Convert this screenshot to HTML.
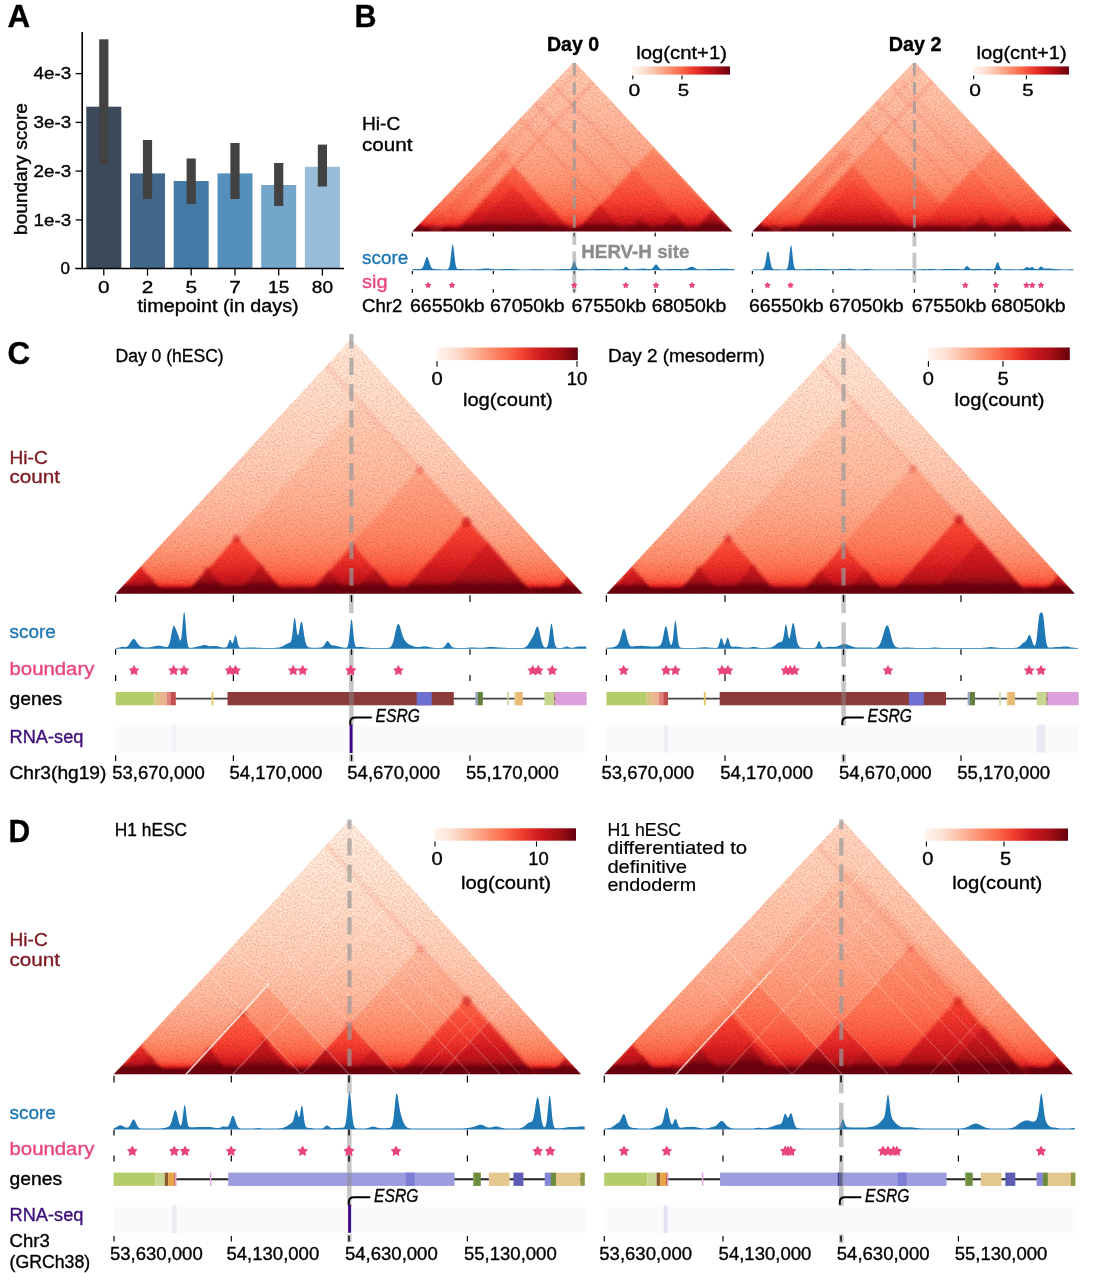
<!DOCTYPE html>
<html lang="en"><head><meta charset="utf-8"><title>Figure</title>
<style>html,body{margin:0;padding:0;background:#fff}svg{display:block}text{font-family:"Liberation Sans", sans-serif;}</style></head>
<body>
<svg width="1098" height="1280" viewBox="0 0 1098 1280">
<defs>
<linearGradient id="reds" x1="0" x2="1" y1="0" y2="0"><stop offset="0.000" stop-color="#fff5f0"/><stop offset="0.125" stop-color="#fee0d2"/><stop offset="0.250" stop-color="#fcbba1"/><stop offset="0.375" stop-color="#fc9272"/><stop offset="0.500" stop-color="#fb6a4a"/><stop offset="0.625" stop-color="#ef3b2c"/><stop offset="0.750" stop-color="#cb181d"/><stop offset="0.875" stop-color="#a50f15"/><stop offset="1.000" stop-color="#67000d"/></linearGradient>
<filter id="bl" x="-5%" y="-5%" width="110%" height="110%" color-interpolation-filters="sRGB"><feGaussianBlur stdDeviation="1.6"/></filter>
<filter id="nz" x="0" y="0" width="100%" height="100%" color-interpolation-filters="sRGB"><feTurbulence type="fractalNoise" baseFrequency="0.55" numOctaves="2" seed="7" result="n"/><feColorMatrix in="n" type="matrix" values="1 0 0 0 0  1 0 0 0 0  1 0 0 0 0  0 0 0 0 1" result="g"/><feComposite in="SourceGraphic" in2="g" operator="arithmetic" k1="0.4" k2="0.82" k3="0" k4="0" result="m"/><feComposite in="m" in2="SourceGraphic" operator="in"/></filter>
<clipPath id="cp1"><polygon points="412.3,231.6 572.1,63.8 573.5,62.7 575.1,62.7 576.5,63.8 732.4,231.6"/></clipPath>
<linearGradient id="g1_0" gradientUnits="userSpaceOnUse" x1="0" x2="0" y1="61.5" y2="231.6"><stop offset="0.000" stop-color="#fcc1a9"/><stop offset="0.200" stop-color="#fcb89e"/><stop offset="0.380" stop-color="#fcad91"/><stop offset="0.530" stop-color="#fca183"/><stop offset="0.650" stop-color="#fc9474"/><stop offset="0.740" stop-color="#fc8666"/><stop offset="0.810" stop-color="#fb7858"/><stop offset="0.865" stop-color="#fa6849"/><stop offset="0.905" stop-color="#f6553d"/><stop offset="0.930" stop-color="#f14532"/><stop offset="0.945" stop-color="#eb372a"/><stop offset="0.955" stop-color="#de2b25"/><stop offset="0.962" stop-color="#cf1c1f"/><stop offset="0.968" stop-color="#bb141a"/><stop offset="0.973" stop-color="#a50f15"/><stop offset="0.978" stop-color="#7c0510"/><stop offset="0.983" stop-color="#67000d"/><stop offset="0.988" stop-color="#67000d"/><stop offset="0.994" stop-color="#67000d"/><stop offset="1.000" stop-color="#67000d"/></linearGradient>
<linearGradient id="g1_1" gradientUnits="userSpaceOnUse" x1="0" x2="0" y1="61.5" y2="231.6"><stop offset="0.000" stop-color="#fca183"/><stop offset="0.200" stop-color="#fc9778"/><stop offset="0.380" stop-color="#fc8c6c"/><stop offset="0.530" stop-color="#fc8161"/><stop offset="0.650" stop-color="#fb7454"/><stop offset="0.740" stop-color="#fa6647"/><stop offset="0.810" stop-color="#f6553c"/><stop offset="0.865" stop-color="#f14231"/><stop offset="0.905" stop-color="#e63228"/><stop offset="0.930" stop-color="#da2623"/><stop offset="0.945" stop-color="#ce1b1e"/><stop offset="0.955" stop-color="#c1161b"/><stop offset="0.962" stop-color="#b11218"/><stop offset="0.968" stop-color="#970c13"/><stop offset="0.973" stop-color="#73030f"/><stop offset="0.978" stop-color="#67000d"/><stop offset="0.983" stop-color="#67000d"/><stop offset="0.988" stop-color="#67000d"/><stop offset="0.994" stop-color="#67000d"/><stop offset="1.000" stop-color="#67000d"/></linearGradient>
<linearGradient id="g1_2" gradientUnits="userSpaceOnUse" x1="0" x2="0" y1="61.5" y2="231.6"><stop offset="0.000" stop-color="#fc8d6d"/><stop offset="0.200" stop-color="#fc8464"/><stop offset="0.380" stop-color="#fb7959"/><stop offset="0.530" stop-color="#fb6d4d"/><stop offset="0.650" stop-color="#f85f43"/><stop offset="0.740" stop-color="#f44f39"/><stop offset="0.810" stop-color="#f03e2e"/><stop offset="0.865" stop-color="#e32f27"/><stop offset="0.905" stop-color="#d52221"/><stop offset="0.930" stop-color="#c8171c"/><stop offset="0.945" stop-color="#bc151a"/><stop offset="0.955" stop-color="#af1117"/><stop offset="0.962" stop-color="#9b0d14"/><stop offset="0.968" stop-color="#7a040f"/><stop offset="0.973" stop-color="#67000d"/><stop offset="0.978" stop-color="#67000d"/><stop offset="0.983" stop-color="#67000d"/><stop offset="0.988" stop-color="#67000d"/><stop offset="0.994" stop-color="#67000d"/><stop offset="1.000" stop-color="#67000d"/></linearGradient>
<linearGradient id="g1_3" gradientUnits="userSpaceOnUse" x1="0" x2="0" y1="61.5" y2="231.6"><stop offset="0.000" stop-color="#fc9070"/><stop offset="0.200" stop-color="#fc8767"/><stop offset="0.380" stop-color="#fb7c5c"/><stop offset="0.530" stop-color="#fb7151"/><stop offset="0.650" stop-color="#f96245"/><stop offset="0.740" stop-color="#f5533b"/><stop offset="0.810" stop-color="#f14230"/><stop offset="0.865" stop-color="#e63228"/><stop offset="0.905" stop-color="#d82422"/><stop offset="0.930" stop-color="#cb181d"/><stop offset="0.945" stop-color="#bf151b"/><stop offset="0.955" stop-color="#b21218"/><stop offset="0.962" stop-color="#a00e14"/><stop offset="0.968" stop-color="#7e0610"/><stop offset="0.973" stop-color="#67000d"/><stop offset="0.978" stop-color="#67000d"/><stop offset="0.983" stop-color="#67000d"/><stop offset="0.988" stop-color="#67000d"/><stop offset="0.994" stop-color="#67000d"/><stop offset="1.000" stop-color="#67000d"/></linearGradient>
<linearGradient id="g1_4" gradientUnits="userSpaceOnUse" x1="0" x2="0" y1="61.5" y2="231.6"><stop offset="0.000" stop-color="#fc8464"/><stop offset="0.200" stop-color="#fb7a5a"/><stop offset="0.380" stop-color="#fb7050"/><stop offset="0.530" stop-color="#f96345"/><stop offset="0.650" stop-color="#f5533c"/><stop offset="0.740" stop-color="#f14432"/><stop offset="0.810" stop-color="#e93529"/><stop offset="0.865" stop-color="#db2723"/><stop offset="0.905" stop-color="#cc191d"/><stop offset="0.930" stop-color="#bf151a"/><stop offset="0.945" stop-color="#b31218"/><stop offset="0.955" stop-color="#a60f15"/><stop offset="0.962" stop-color="#8c0912"/><stop offset="0.968" stop-color="#6b010d"/><stop offset="0.973" stop-color="#67000d"/><stop offset="0.978" stop-color="#67000d"/><stop offset="0.983" stop-color="#67000d"/><stop offset="0.988" stop-color="#67000d"/><stop offset="0.994" stop-color="#67000d"/><stop offset="1.000" stop-color="#67000d"/></linearGradient>
<linearGradient id="g1_5" gradientUnits="userSpaceOnUse" x1="0" x2="0" y1="61.5" y2="231.6"><stop offset="0.000" stop-color="#fb7757"/><stop offset="0.200" stop-color="#fb6d4d"/><stop offset="0.380" stop-color="#f96245"/><stop offset="0.530" stop-color="#f5543c"/><stop offset="0.650" stop-color="#f14432"/><stop offset="0.740" stop-color="#ea362a"/><stop offset="0.810" stop-color="#dd2a25"/><stop offset="0.865" stop-color="#cf1c1f"/><stop offset="0.905" stop-color="#c0151b"/><stop offset="0.930" stop-color="#b31218"/><stop offset="0.945" stop-color="#a70f15"/><stop offset="0.955" stop-color="#920a13"/><stop offset="0.962" stop-color="#78040f"/><stop offset="0.968" stop-color="#67000d"/><stop offset="0.973" stop-color="#67000d"/><stop offset="0.978" stop-color="#67000d"/><stop offset="0.983" stop-color="#67000d"/><stop offset="0.988" stop-color="#67000d"/><stop offset="0.994" stop-color="#67000d"/><stop offset="1.000" stop-color="#67000d"/></linearGradient>
<linearGradient id="g1_6" gradientUnits="userSpaceOnUse" x1="0" x2="0" y1="61.5" y2="231.6"><stop offset="0.000" stop-color="#fb7a5a"/><stop offset="0.200" stop-color="#fb7151"/><stop offset="0.380" stop-color="#fa6547"/><stop offset="0.530" stop-color="#f6573e"/><stop offset="0.650" stop-color="#f24834"/><stop offset="0.740" stop-color="#ed392b"/><stop offset="0.810" stop-color="#e02c26"/><stop offset="0.865" stop-color="#d21f20"/><stop offset="0.905" stop-color="#c3161b"/><stop offset="0.930" stop-color="#b61319"/><stop offset="0.945" stop-color="#aa1016"/><stop offset="0.955" stop-color="#970c13"/><stop offset="0.962" stop-color="#7d0510"/><stop offset="0.968" stop-color="#67000d"/><stop offset="0.973" stop-color="#67000d"/><stop offset="0.978" stop-color="#67000d"/><stop offset="0.983" stop-color="#67000d"/><stop offset="0.988" stop-color="#67000d"/><stop offset="0.994" stop-color="#67000d"/><stop offset="1.000" stop-color="#67000d"/></linearGradient>
<linearGradient id="g1_7" gradientUnits="userSpaceOnUse" x1="0" x2="0" y1="61.5" y2="231.6"><stop offset="0.000" stop-color="#fb6a4a"/><stop offset="0.200" stop-color="#f85f43"/><stop offset="0.380" stop-color="#f5523b"/><stop offset="0.530" stop-color="#f14532"/><stop offset="0.650" stop-color="#eb372a"/><stop offset="0.740" stop-color="#df2b25"/><stop offset="0.810" stop-color="#d21e20"/><stop offset="0.865" stop-color="#c3161b"/><stop offset="0.905" stop-color="#b41318"/><stop offset="0.930" stop-color="#a70f15"/><stop offset="0.945" stop-color="#940b13"/><stop offset="0.955" stop-color="#7e0610"/><stop offset="0.962" stop-color="#67000d"/><stop offset="0.968" stop-color="#67000d"/><stop offset="0.973" stop-color="#67000d"/><stop offset="0.978" stop-color="#67000d"/><stop offset="0.983" stop-color="#67000d"/><stop offset="0.988" stop-color="#67000d"/><stop offset="0.994" stop-color="#67000d"/><stop offset="1.000" stop-color="#67000d"/></linearGradient>
<linearGradient id="g1_8" gradientUnits="userSpaceOnUse" x1="0" x2="0" y1="61.5" y2="231.6"><stop offset="0.000" stop-color="#fc8060"/><stop offset="0.200" stop-color="#fb7757"/><stop offset="0.380" stop-color="#fb6c4c"/><stop offset="0.530" stop-color="#f85f43"/><stop offset="0.650" stop-color="#f45039"/><stop offset="0.740" stop-color="#f0402f"/><stop offset="0.810" stop-color="#e63228"/><stop offset="0.865" stop-color="#d82422"/><stop offset="0.905" stop-color="#c9181d"/><stop offset="0.930" stop-color="#bc141a"/><stop offset="0.945" stop-color="#b01217"/><stop offset="0.955" stop-color="#a10e14"/><stop offset="0.962" stop-color="#870811"/><stop offset="0.968" stop-color="#67000d"/><stop offset="0.973" stop-color="#67000d"/><stop offset="0.978" stop-color="#67000d"/><stop offset="0.983" stop-color="#67000d"/><stop offset="0.988" stop-color="#67000d"/><stop offset="0.994" stop-color="#67000d"/><stop offset="1.000" stop-color="#67000d"/></linearGradient>
<linearGradient id="g1_9" gradientUnits="userSpaceOnUse" x1="0" x2="0" y1="61.5" y2="231.6"><stop offset="0.000" stop-color="#fc9474"/><stop offset="0.200" stop-color="#fc8a6a"/><stop offset="0.380" stop-color="#fc8060"/><stop offset="0.530" stop-color="#fb7454"/><stop offset="0.650" stop-color="#fa6648"/><stop offset="0.740" stop-color="#f6563e"/><stop offset="0.810" stop-color="#f24633"/><stop offset="0.865" stop-color="#e93529"/><stop offset="0.905" stop-color="#db2723"/><stop offset="0.930" stop-color="#ce1b1e"/><stop offset="0.945" stop-color="#c2161b"/><stop offset="0.955" stop-color="#b51318"/><stop offset="0.962" stop-color="#a50f15"/><stop offset="0.968" stop-color="#830711"/><stop offset="0.973" stop-color="#67000d"/><stop offset="0.978" stop-color="#67000d"/><stop offset="0.983" stop-color="#67000d"/><stop offset="0.988" stop-color="#67000d"/><stop offset="0.994" stop-color="#67000d"/><stop offset="1.000" stop-color="#67000d"/></linearGradient>
<clipPath id="cp2"><polygon points="752.4,231.6 912.2,63.8 913.6,62.7 915.2,62.7 916.6,63.8 1072,231.6"/></clipPath>
<linearGradient id="g2_0" gradientUnits="userSpaceOnUse" x1="0" x2="0" y1="61.5" y2="231.6"><stop offset="0.000" stop-color="#fcc1a9"/><stop offset="0.200" stop-color="#fcb89e"/><stop offset="0.380" stop-color="#fcad91"/><stop offset="0.530" stop-color="#fca183"/><stop offset="0.650" stop-color="#fc9474"/><stop offset="0.740" stop-color="#fc8666"/><stop offset="0.810" stop-color="#fb7858"/><stop offset="0.865" stop-color="#fa6849"/><stop offset="0.905" stop-color="#f6553d"/><stop offset="0.930" stop-color="#f14532"/><stop offset="0.945" stop-color="#eb372a"/><stop offset="0.955" stop-color="#de2b25"/><stop offset="0.962" stop-color="#cf1c1f"/><stop offset="0.968" stop-color="#bb141a"/><stop offset="0.973" stop-color="#a50f15"/><stop offset="0.978" stop-color="#7c0510"/><stop offset="0.983" stop-color="#67000d"/><stop offset="0.988" stop-color="#67000d"/><stop offset="0.994" stop-color="#67000d"/><stop offset="1.000" stop-color="#67000d"/></linearGradient>
<linearGradient id="g2_1" gradientUnits="userSpaceOnUse" x1="0" x2="0" y1="61.5" y2="231.6"><stop offset="0.000" stop-color="#fcab8e"/><stop offset="0.200" stop-color="#fca183"/><stop offset="0.380" stop-color="#fc9677"/><stop offset="0.530" stop-color="#fc8a6a"/><stop offset="0.650" stop-color="#fb7d5d"/><stop offset="0.740" stop-color="#fb7050"/><stop offset="0.810" stop-color="#f86044"/><stop offset="0.865" stop-color="#f44d38"/><stop offset="0.905" stop-color="#ef3b2c"/><stop offset="0.930" stop-color="#e22f27"/><stop offset="0.945" stop-color="#d72422"/><stop offset="0.955" stop-color="#ca181d"/><stop offset="0.962" stop-color="#ba1419"/><stop offset="0.968" stop-color="#a60f15"/><stop offset="0.973" stop-color="#820710"/><stop offset="0.978" stop-color="#67000d"/><stop offset="0.983" stop-color="#67000d"/><stop offset="0.988" stop-color="#67000d"/><stop offset="0.994" stop-color="#67000d"/><stop offset="1.000" stop-color="#67000d"/></linearGradient>
<linearGradient id="g2_2" gradientUnits="userSpaceOnUse" x1="0" x2="0" y1="61.5" y2="231.6"><stop offset="0.000" stop-color="#fc8d6d"/><stop offset="0.200" stop-color="#fc8464"/><stop offset="0.380" stop-color="#fb7959"/><stop offset="0.530" stop-color="#fb6d4d"/><stop offset="0.650" stop-color="#f85f43"/><stop offset="0.740" stop-color="#f44f39"/><stop offset="0.810" stop-color="#f03e2e"/><stop offset="0.865" stop-color="#e32f27"/><stop offset="0.905" stop-color="#d52221"/><stop offset="0.930" stop-color="#c8171c"/><stop offset="0.945" stop-color="#bc151a"/><stop offset="0.955" stop-color="#af1117"/><stop offset="0.962" stop-color="#9b0d14"/><stop offset="0.968" stop-color="#7a040f"/><stop offset="0.973" stop-color="#67000d"/><stop offset="0.978" stop-color="#67000d"/><stop offset="0.983" stop-color="#67000d"/><stop offset="0.988" stop-color="#67000d"/><stop offset="0.994" stop-color="#67000d"/><stop offset="1.000" stop-color="#67000d"/></linearGradient>
<linearGradient id="g2_3" gradientUnits="userSpaceOnUse" x1="0" x2="0" y1="61.5" y2="231.6"><stop offset="0.000" stop-color="#fc9d7f"/><stop offset="0.200" stop-color="#fc9474"/><stop offset="0.380" stop-color="#fc8969"/><stop offset="0.530" stop-color="#fb7d5d"/><stop offset="0.650" stop-color="#fb7050"/><stop offset="0.740" stop-color="#f96245"/><stop offset="0.810" stop-color="#f5513a"/><stop offset="0.865" stop-color="#f03e2e"/><stop offset="0.905" stop-color="#e33027"/><stop offset="0.930" stop-color="#d72322"/><stop offset="0.945" stop-color="#cb181d"/><stop offset="0.955" stop-color="#be151a"/><stop offset="0.962" stop-color="#ae1117"/><stop offset="0.968" stop-color="#920a13"/><stop offset="0.973" stop-color="#6e020e"/><stop offset="0.978" stop-color="#67000d"/><stop offset="0.983" stop-color="#67000d"/><stop offset="0.988" stop-color="#67000d"/><stop offset="0.994" stop-color="#67000d"/><stop offset="1.000" stop-color="#67000d"/></linearGradient>
<linearGradient id="g2_4" gradientUnits="userSpaceOnUse" x1="0" x2="0" y1="61.5" y2="231.6"><stop offset="0.000" stop-color="#fc8464"/><stop offset="0.200" stop-color="#fb7a5a"/><stop offset="0.380" stop-color="#fb7050"/><stop offset="0.530" stop-color="#f96345"/><stop offset="0.650" stop-color="#f5533c"/><stop offset="0.740" stop-color="#f14432"/><stop offset="0.810" stop-color="#e93529"/><stop offset="0.865" stop-color="#db2723"/><stop offset="0.905" stop-color="#cc191d"/><stop offset="0.930" stop-color="#bf151a"/><stop offset="0.945" stop-color="#b31218"/><stop offset="0.955" stop-color="#a60f15"/><stop offset="0.962" stop-color="#8c0912"/><stop offset="0.968" stop-color="#6b010d"/><stop offset="0.973" stop-color="#67000d"/><stop offset="0.978" stop-color="#67000d"/><stop offset="0.983" stop-color="#67000d"/><stop offset="0.988" stop-color="#67000d"/><stop offset="0.994" stop-color="#67000d"/><stop offset="1.000" stop-color="#67000d"/></linearGradient>
<linearGradient id="g2_5" gradientUnits="userSpaceOnUse" x1="0" x2="0" y1="61.5" y2="231.6"><stop offset="0.000" stop-color="#fc8060"/><stop offset="0.200" stop-color="#fb7757"/><stop offset="0.380" stop-color="#fb6c4c"/><stop offset="0.530" stop-color="#f85f43"/><stop offset="0.650" stop-color="#f45039"/><stop offset="0.740" stop-color="#f0402f"/><stop offset="0.810" stop-color="#e63228"/><stop offset="0.865" stop-color="#d82422"/><stop offset="0.905" stop-color="#c9181d"/><stop offset="0.930" stop-color="#bc141a"/><stop offset="0.945" stop-color="#b01217"/><stop offset="0.955" stop-color="#a10e14"/><stop offset="0.962" stop-color="#870811"/><stop offset="0.968" stop-color="#67000d"/><stop offset="0.973" stop-color="#67000d"/><stop offset="0.978" stop-color="#67000d"/><stop offset="0.983" stop-color="#67000d"/><stop offset="0.988" stop-color="#67000d"/><stop offset="0.994" stop-color="#67000d"/><stop offset="1.000" stop-color="#67000d"/></linearGradient>
<linearGradient id="g2_6" gradientUnits="userSpaceOnUse" x1="0" x2="0" y1="61.5" y2="231.6"><stop offset="0.000" stop-color="#fb7050"/><stop offset="0.200" stop-color="#fa6748"/><stop offset="0.380" stop-color="#f75a40"/><stop offset="0.530" stop-color="#f34c37"/><stop offset="0.650" stop-color="#ef3d2d"/><stop offset="0.740" stop-color="#e43128"/><stop offset="0.810" stop-color="#d72422"/><stop offset="0.865" stop-color="#c9181d"/><stop offset="0.905" stop-color="#ba1419"/><stop offset="0.930" stop-color="#ad1117"/><stop offset="0.945" stop-color="#9e0d14"/><stop offset="0.955" stop-color="#880811"/><stop offset="0.962" stop-color="#6e020e"/><stop offset="0.968" stop-color="#67000d"/><stop offset="0.973" stop-color="#67000d"/><stop offset="0.978" stop-color="#67000d"/><stop offset="0.983" stop-color="#67000d"/><stop offset="0.988" stop-color="#67000d"/><stop offset="0.994" stop-color="#67000d"/><stop offset="1.000" stop-color="#67000d"/></linearGradient>
<linearGradient id="g2_7" gradientUnits="userSpaceOnUse" x1="0" x2="0" y1="61.5" y2="231.6"><stop offset="0.000" stop-color="#fc9474"/><stop offset="0.200" stop-color="#fc8a6a"/><stop offset="0.380" stop-color="#fc8060"/><stop offset="0.530" stop-color="#fb7454"/><stop offset="0.650" stop-color="#fa6648"/><stop offset="0.740" stop-color="#f6563e"/><stop offset="0.810" stop-color="#f24633"/><stop offset="0.865" stop-color="#e93529"/><stop offset="0.905" stop-color="#db2723"/><stop offset="0.930" stop-color="#ce1b1e"/><stop offset="0.945" stop-color="#c2161b"/><stop offset="0.955" stop-color="#b51318"/><stop offset="0.962" stop-color="#a50f15"/><stop offset="0.968" stop-color="#830711"/><stop offset="0.973" stop-color="#67000d"/><stop offset="0.978" stop-color="#67000d"/><stop offset="0.983" stop-color="#67000d"/><stop offset="0.988" stop-color="#67000d"/><stop offset="0.994" stop-color="#67000d"/><stop offset="1.000" stop-color="#67000d"/></linearGradient>
<linearGradient id="g2_8" gradientUnits="userSpaceOnUse" x1="0" x2="0" y1="61.5" y2="231.6"><stop offset="0.000" stop-color="#fc8a6a"/><stop offset="0.200" stop-color="#fc8161"/><stop offset="0.380" stop-color="#fb7656"/><stop offset="0.530" stop-color="#fb6a4a"/><stop offset="0.650" stop-color="#f75b40"/><stop offset="0.740" stop-color="#f34b36"/><stop offset="0.810" stop-color="#ee3a2c"/><stop offset="0.865" stop-color="#e02d26"/><stop offset="0.905" stop-color="#d21f20"/><stop offset="0.930" stop-color="#c5171c"/><stop offset="0.945" stop-color="#b91419"/><stop offset="0.955" stop-color="#ac1116"/><stop offset="0.962" stop-color="#960b13"/><stop offset="0.968" stop-color="#75030f"/><stop offset="0.973" stop-color="#67000d"/><stop offset="0.978" stop-color="#67000d"/><stop offset="0.983" stop-color="#67000d"/><stop offset="0.988" stop-color="#67000d"/><stop offset="0.994" stop-color="#67000d"/><stop offset="1.000" stop-color="#67000d"/></linearGradient>
<clipPath id="cp3"><polygon points="115.5,593.8 349.1,341.2 350.5,340.0 352.1,340.0 353.5,341.2 582.6,593.8"/></clipPath>
<linearGradient id="g3_0" gradientUnits="userSpaceOnUse" x1="0" x2="0" y1="338.8" y2="593.8"><stop offset="0.000" stop-color="#fedbcb"/><stop offset="0.200" stop-color="#fdd3c0"/><stop offset="0.380" stop-color="#fdc9b4"/><stop offset="0.530" stop-color="#fcbea6"/><stop offset="0.650" stop-color="#fcb296"/><stop offset="0.740" stop-color="#fca487"/><stop offset="0.810" stop-color="#fc9575"/><stop offset="0.865" stop-color="#fc8565"/><stop offset="0.905" stop-color="#fb7454"/><stop offset="0.930" stop-color="#fa6547"/><stop offset="0.945" stop-color="#f6583f"/><stop offset="0.955" stop-color="#f34b36"/><stop offset="0.962" stop-color="#ee3a2c"/><stop offset="0.968" stop-color="#d82422"/><stop offset="0.973" stop-color="#b91419"/><stop offset="0.978" stop-color="#880811"/><stop offset="0.983" stop-color="#67000d"/><stop offset="0.988" stop-color="#67000d"/><stop offset="0.994" stop-color="#67000d"/><stop offset="1.000" stop-color="#67000d"/></linearGradient>
<linearGradient id="g3_1" gradientUnits="userSpaceOnUse" x1="0" x2="0" y1="338.8" y2="593.8"><stop offset="0.000" stop-color="#fdcfbc"/><stop offset="0.200" stop-color="#fdc7b1"/><stop offset="0.380" stop-color="#fcbda4"/><stop offset="0.530" stop-color="#fcb296"/><stop offset="0.650" stop-color="#fca587"/><stop offset="0.740" stop-color="#fc9777"/><stop offset="0.810" stop-color="#fc8868"/><stop offset="0.865" stop-color="#fb7858"/><stop offset="0.905" stop-color="#fa6748"/><stop offset="0.930" stop-color="#f6563d"/><stop offset="0.945" stop-color="#f34935"/><stop offset="0.955" stop-color="#ef3c2d"/><stop offset="0.962" stop-color="#e22f27"/><stop offset="0.968" stop-color="#cc191e"/><stop offset="0.973" stop-color="#ad1117"/><stop offset="0.978" stop-color="#74030f"/><stop offset="0.983" stop-color="#67000d"/><stop offset="0.988" stop-color="#67000d"/><stop offset="0.994" stop-color="#67000d"/><stop offset="1.000" stop-color="#67000d"/></linearGradient>
<linearGradient id="g3_2" gradientUnits="userSpaceOnUse" x1="0" x2="0" y1="338.8" y2="593.8"><stop offset="0.000" stop-color="#fcbda4"/><stop offset="0.200" stop-color="#fcb59a"/><stop offset="0.380" stop-color="#fcaa8d"/><stop offset="0.530" stop-color="#fc9e80"/><stop offset="0.650" stop-color="#fc9171"/><stop offset="0.740" stop-color="#fc8363"/><stop offset="0.810" stop-color="#fb7555"/><stop offset="0.865" stop-color="#f96446"/><stop offset="0.905" stop-color="#f4503a"/><stop offset="0.930" stop-color="#f0402f"/><stop offset="0.945" stop-color="#e93529"/><stop offset="0.955" stop-color="#de2b25"/><stop offset="0.962" stop-color="#d11e20"/><stop offset="0.968" stop-color="#ba1419"/><stop offset="0.973" stop-color="#940b13"/><stop offset="0.978" stop-color="#67000d"/><stop offset="0.983" stop-color="#67000d"/><stop offset="0.988" stop-color="#67000d"/><stop offset="0.994" stop-color="#67000d"/><stop offset="1.000" stop-color="#67000d"/></linearGradient>
<linearGradient id="g3_3" gradientUnits="userSpaceOnUse" x1="0" x2="0" y1="338.8" y2="593.8"><stop offset="0.000" stop-color="#fc8060"/><stop offset="0.200" stop-color="#fb7757"/><stop offset="0.380" stop-color="#fb6c4c"/><stop offset="0.530" stop-color="#f85f43"/><stop offset="0.650" stop-color="#f4503a"/><stop offset="0.740" stop-color="#f04030"/><stop offset="0.810" stop-color="#e63228"/><stop offset="0.865" stop-color="#d72422"/><stop offset="0.905" stop-color="#c8171c"/><stop offset="0.930" stop-color="#bb141a"/><stop offset="0.945" stop-color="#b01217"/><stop offset="0.955" stop-color="#a60f15"/><stop offset="0.962" stop-color="#8f0a12"/><stop offset="0.968" stop-color="#69010d"/><stop offset="0.973" stop-color="#67000d"/><stop offset="0.978" stop-color="#67000d"/><stop offset="0.983" stop-color="#67000d"/><stop offset="0.988" stop-color="#67000d"/><stop offset="0.994" stop-color="#67000d"/><stop offset="1.000" stop-color="#67000d"/></linearGradient>
<linearGradient id="g3_4" gradientUnits="userSpaceOnUse" x1="0" x2="0" y1="338.8" y2="593.8"><stop offset="0.000" stop-color="#fc9070"/><stop offset="0.200" stop-color="#fc8767"/><stop offset="0.380" stop-color="#fb7c5c"/><stop offset="0.530" stop-color="#fb7151"/><stop offset="0.650" stop-color="#f96346"/><stop offset="0.740" stop-color="#f5533c"/><stop offset="0.810" stop-color="#f14231"/><stop offset="0.865" stop-color="#e63228"/><stop offset="0.905" stop-color="#d72422"/><stop offset="0.930" stop-color="#ca181d"/><stop offset="0.945" stop-color="#c0151b"/><stop offset="0.955" stop-color="#b51318"/><stop offset="0.962" stop-color="#a70f15"/><stop offset="0.968" stop-color="#820710"/><stop offset="0.973" stop-color="#67000d"/><stop offset="0.978" stop-color="#67000d"/><stop offset="0.983" stop-color="#67000d"/><stop offset="0.988" stop-color="#67000d"/><stop offset="0.994" stop-color="#67000d"/><stop offset="1.000" stop-color="#67000d"/></linearGradient>
<linearGradient id="g3_5" gradientUnits="userSpaceOnUse" x1="0" x2="0" y1="338.8" y2="593.8"><stop offset="0.000" stop-color="#fb6d4d"/><stop offset="0.200" stop-color="#f96345"/><stop offset="0.380" stop-color="#f6563d"/><stop offset="0.530" stop-color="#f34935"/><stop offset="0.650" stop-color="#ee3a2c"/><stop offset="0.740" stop-color="#e22e27"/><stop offset="0.810" stop-color="#d52121"/><stop offset="0.865" stop-color="#c6171c"/><stop offset="0.905" stop-color="#b61319"/><stop offset="0.930" stop-color="#a91016"/><stop offset="0.945" stop-color="#9a0c14"/><stop offset="0.955" stop-color="#880811"/><stop offset="0.962" stop-color="#71030e"/><stop offset="0.968" stop-color="#67000d"/><stop offset="0.973" stop-color="#67000d"/><stop offset="0.978" stop-color="#67000d"/><stop offset="0.983" stop-color="#67000d"/><stop offset="0.988" stop-color="#67000d"/><stop offset="0.994" stop-color="#67000d"/><stop offset="1.000" stop-color="#67000d"/></linearGradient>
<linearGradient id="g3_6" gradientUnits="userSpaceOnUse" x1="0" x2="0" y1="338.8" y2="593.8"><stop offset="0.000" stop-color="#fc8d6d"/><stop offset="0.200" stop-color="#fc8464"/><stop offset="0.380" stop-color="#fb7959"/><stop offset="0.530" stop-color="#fb6e4e"/><stop offset="0.650" stop-color="#f85f43"/><stop offset="0.740" stop-color="#f45039"/><stop offset="0.810" stop-color="#f03e2e"/><stop offset="0.865" stop-color="#e32f27"/><stop offset="0.905" stop-color="#d42121"/><stop offset="0.930" stop-color="#c7171c"/><stop offset="0.945" stop-color="#bd151a"/><stop offset="0.955" stop-color="#b21218"/><stop offset="0.962" stop-color="#a30f15"/><stop offset="0.968" stop-color="#7d0510"/><stop offset="0.973" stop-color="#67000d"/><stop offset="0.978" stop-color="#67000d"/><stop offset="0.983" stop-color="#67000d"/><stop offset="0.988" stop-color="#67000d"/><stop offset="0.994" stop-color="#67000d"/><stop offset="1.000" stop-color="#67000d"/></linearGradient>
<linearGradient id="g3_7" gradientUnits="userSpaceOnUse" x1="0" x2="0" y1="338.8" y2="593.8"><stop offset="0.000" stop-color="#fb7050"/><stop offset="0.200" stop-color="#fa6648"/><stop offset="0.380" stop-color="#f75a40"/><stop offset="0.530" stop-color="#f34d37"/><stop offset="0.650" stop-color="#f03d2e"/><stop offset="0.740" stop-color="#e53128"/><stop offset="0.810" stop-color="#d82422"/><stop offset="0.865" stop-color="#c9181d"/><stop offset="0.905" stop-color="#b91419"/><stop offset="0.930" stop-color="#ac1116"/><stop offset="0.945" stop-color="#9f0e14"/><stop offset="0.955" stop-color="#8d0912"/><stop offset="0.962" stop-color="#76040f"/><stop offset="0.968" stop-color="#67000d"/><stop offset="0.973" stop-color="#67000d"/><stop offset="0.978" stop-color="#67000d"/><stop offset="0.983" stop-color="#67000d"/><stop offset="0.988" stop-color="#67000d"/><stop offset="0.994" stop-color="#67000d"/><stop offset="1.000" stop-color="#67000d"/></linearGradient>
<linearGradient id="g3_8" gradientUnits="userSpaceOnUse" x1="0" x2="0" y1="338.8" y2="593.8"><stop offset="0.000" stop-color="#fc9373"/><stop offset="0.200" stop-color="#fc8a6a"/><stop offset="0.380" stop-color="#fc8060"/><stop offset="0.530" stop-color="#fb7454"/><stop offset="0.650" stop-color="#fa6748"/><stop offset="0.740" stop-color="#f6573e"/><stop offset="0.810" stop-color="#f24633"/><stop offset="0.865" stop-color="#e93529"/><stop offset="0.905" stop-color="#da2623"/><stop offset="0.930" stop-color="#cd1a1e"/><stop offset="0.945" stop-color="#c3161b"/><stop offset="0.955" stop-color="#b81319"/><stop offset="0.962" stop-color="#aa1016"/><stop offset="0.968" stop-color="#870811"/><stop offset="0.973" stop-color="#67000d"/><stop offset="0.978" stop-color="#67000d"/><stop offset="0.983" stop-color="#67000d"/><stop offset="0.988" stop-color="#67000d"/><stop offset="0.994" stop-color="#67000d"/><stop offset="1.000" stop-color="#67000d"/></linearGradient>
<linearGradient id="g3_9" gradientUnits="userSpaceOnUse" x1="0" x2="0" y1="338.8" y2="593.8"><stop offset="0.000" stop-color="#fb7353"/><stop offset="0.200" stop-color="#fb6a4a"/><stop offset="0.380" stop-color="#f85e42"/><stop offset="0.530" stop-color="#f4503a"/><stop offset="0.650" stop-color="#f14130"/><stop offset="0.740" stop-color="#e83429"/><stop offset="0.810" stop-color="#da2723"/><stop offset="0.865" stop-color="#cc191d"/><stop offset="0.905" stop-color="#bc151a"/><stop offset="0.930" stop-color="#af1117"/><stop offset="0.945" stop-color="#a40f15"/><stop offset="0.955" stop-color="#920a13"/><stop offset="0.962" stop-color="#7b0510"/><stop offset="0.968" stop-color="#67000d"/><stop offset="0.973" stop-color="#67000d"/><stop offset="0.978" stop-color="#67000d"/><stop offset="0.983" stop-color="#67000d"/><stop offset="0.988" stop-color="#67000d"/><stop offset="0.994" stop-color="#67000d"/><stop offset="1.000" stop-color="#67000d"/></linearGradient>
<linearGradient id="g3_10" gradientUnits="userSpaceOnUse" x1="0" x2="0" y1="338.8" y2="593.8"><stop offset="0.000" stop-color="#fc8666"/><stop offset="0.200" stop-color="#fb7d5d"/><stop offset="0.380" stop-color="#fb7353"/><stop offset="0.530" stop-color="#fa6748"/><stop offset="0.650" stop-color="#f6583e"/><stop offset="0.740" stop-color="#f24834"/><stop offset="0.810" stop-color="#ec382b"/><stop offset="0.865" stop-color="#dd2a25"/><stop offset="0.905" stop-color="#ce1b1e"/><stop offset="0.930" stop-color="#c1161b"/><stop offset="0.945" stop-color="#b71319"/><stop offset="0.955" stop-color="#ac1116"/><stop offset="0.962" stop-color="#990c13"/><stop offset="0.968" stop-color="#73030f"/><stop offset="0.973" stop-color="#67000d"/><stop offset="0.978" stop-color="#67000d"/><stop offset="0.983" stop-color="#67000d"/><stop offset="0.988" stop-color="#67000d"/><stop offset="0.994" stop-color="#67000d"/><stop offset="1.000" stop-color="#67000d"/></linearGradient>
<linearGradient id="g3_11" gradientUnits="userSpaceOnUse" x1="0" x2="0" y1="338.8" y2="593.8"><stop offset="0.000" stop-color="#fc8969"/><stop offset="0.200" stop-color="#fc8060"/><stop offset="0.380" stop-color="#fb7656"/><stop offset="0.530" stop-color="#fb6b4b"/><stop offset="0.650" stop-color="#f75c41"/><stop offset="0.740" stop-color="#f34c37"/><stop offset="0.810" stop-color="#ef3b2c"/><stop offset="0.865" stop-color="#e02c26"/><stop offset="0.905" stop-color="#d11e20"/><stop offset="0.930" stop-color="#c4161c"/><stop offset="0.945" stop-color="#ba1419"/><stop offset="0.955" stop-color="#af1117"/><stop offset="0.962" stop-color="#9e0d14"/><stop offset="0.968" stop-color="#78040f"/><stop offset="0.973" stop-color="#67000d"/><stop offset="0.978" stop-color="#67000d"/><stop offset="0.983" stop-color="#67000d"/><stop offset="0.988" stop-color="#67000d"/><stop offset="0.994" stop-color="#67000d"/><stop offset="1.000" stop-color="#67000d"/></linearGradient>
<linearGradient id="g3_12" gradientUnits="userSpaceOnUse" x1="0" x2="0" y1="338.8" y2="593.8"><stop offset="0.000" stop-color="#fc9d7f"/><stop offset="0.200" stop-color="#fc9474"/><stop offset="0.380" stop-color="#fc8969"/><stop offset="0.530" stop-color="#fb7e5e"/><stop offset="0.650" stop-color="#fb7151"/><stop offset="0.740" stop-color="#f96245"/><stop offset="0.810" stop-color="#f5513a"/><stop offset="0.865" stop-color="#f03e2e"/><stop offset="0.905" stop-color="#e22f27"/><stop offset="0.930" stop-color="#d62322"/><stop offset="0.945" stop-color="#cc191d"/><stop offset="0.955" stop-color="#c1161b"/><stop offset="0.962" stop-color="#b31218"/><stop offset="0.968" stop-color="#960b13"/><stop offset="0.973" stop-color="#67000d"/><stop offset="0.978" stop-color="#67000d"/><stop offset="0.983" stop-color="#67000d"/><stop offset="0.988" stop-color="#67000d"/><stop offset="0.994" stop-color="#67000d"/><stop offset="1.000" stop-color="#67000d"/></linearGradient>
<clipPath id="cp4"><polygon points="606.5,593.8 840.8,341.2 842.2,340.0 843.8,340.0 845.2,341.2 1075,593.8"/></clipPath>
<linearGradient id="g4_0" gradientUnits="userSpaceOnUse" x1="0" x2="0" y1="338.8" y2="593.8"><stop offset="0.000" stop-color="#fedbcb"/><stop offset="0.200" stop-color="#fdd3c0"/><stop offset="0.380" stop-color="#fdc9b4"/><stop offset="0.530" stop-color="#fcbea6"/><stop offset="0.650" stop-color="#fcb296"/><stop offset="0.740" stop-color="#fca487"/><stop offset="0.810" stop-color="#fc9575"/><stop offset="0.865" stop-color="#fc8565"/><stop offset="0.905" stop-color="#fb7454"/><stop offset="0.930" stop-color="#fa6547"/><stop offset="0.945" stop-color="#f6583f"/><stop offset="0.955" stop-color="#f34b36"/><stop offset="0.962" stop-color="#ee3a2c"/><stop offset="0.968" stop-color="#d82422"/><stop offset="0.973" stop-color="#b91419"/><stop offset="0.978" stop-color="#880811"/><stop offset="0.983" stop-color="#67000d"/><stop offset="0.988" stop-color="#67000d"/><stop offset="0.994" stop-color="#67000d"/><stop offset="1.000" stop-color="#67000d"/></linearGradient>
<linearGradient id="g4_1" gradientUnits="userSpaceOnUse" x1="0" x2="0" y1="338.8" y2="593.8"><stop offset="0.000" stop-color="#fdcfbc"/><stop offset="0.200" stop-color="#fdc7b1"/><stop offset="0.380" stop-color="#fcbda4"/><stop offset="0.530" stop-color="#fcb296"/><stop offset="0.650" stop-color="#fca587"/><stop offset="0.740" stop-color="#fc9777"/><stop offset="0.810" stop-color="#fc8868"/><stop offset="0.865" stop-color="#fb7858"/><stop offset="0.905" stop-color="#fa6748"/><stop offset="0.930" stop-color="#f6563d"/><stop offset="0.945" stop-color="#f34935"/><stop offset="0.955" stop-color="#ef3c2d"/><stop offset="0.962" stop-color="#e22f27"/><stop offset="0.968" stop-color="#cc191e"/><stop offset="0.973" stop-color="#ad1117"/><stop offset="0.978" stop-color="#74030f"/><stop offset="0.983" stop-color="#67000d"/><stop offset="0.988" stop-color="#67000d"/><stop offset="0.994" stop-color="#67000d"/><stop offset="1.000" stop-color="#67000d"/></linearGradient>
<linearGradient id="g4_2" gradientUnits="userSpaceOnUse" x1="0" x2="0" y1="338.8" y2="593.8"><stop offset="0.000" stop-color="#fcbda4"/><stop offset="0.200" stop-color="#fcb59a"/><stop offset="0.380" stop-color="#fcaa8d"/><stop offset="0.530" stop-color="#fc9e80"/><stop offset="0.650" stop-color="#fc9171"/><stop offset="0.740" stop-color="#fc8363"/><stop offset="0.810" stop-color="#fb7555"/><stop offset="0.865" stop-color="#f96446"/><stop offset="0.905" stop-color="#f4503a"/><stop offset="0.930" stop-color="#f0402f"/><stop offset="0.945" stop-color="#e93529"/><stop offset="0.955" stop-color="#de2b25"/><stop offset="0.962" stop-color="#d11e20"/><stop offset="0.968" stop-color="#ba1419"/><stop offset="0.973" stop-color="#940b13"/><stop offset="0.978" stop-color="#67000d"/><stop offset="0.983" stop-color="#67000d"/><stop offset="0.988" stop-color="#67000d"/><stop offset="0.994" stop-color="#67000d"/><stop offset="1.000" stop-color="#67000d"/></linearGradient>
<linearGradient id="g4_3" gradientUnits="userSpaceOnUse" x1="0" x2="0" y1="338.8" y2="593.8"><stop offset="0.000" stop-color="#fc8060"/><stop offset="0.200" stop-color="#fb7757"/><stop offset="0.380" stop-color="#fb6c4c"/><stop offset="0.530" stop-color="#f85f43"/><stop offset="0.650" stop-color="#f4503a"/><stop offset="0.740" stop-color="#f04030"/><stop offset="0.810" stop-color="#e63228"/><stop offset="0.865" stop-color="#d72422"/><stop offset="0.905" stop-color="#c8171c"/><stop offset="0.930" stop-color="#bb141a"/><stop offset="0.945" stop-color="#b01217"/><stop offset="0.955" stop-color="#a60f15"/><stop offset="0.962" stop-color="#8f0a12"/><stop offset="0.968" stop-color="#69010d"/><stop offset="0.973" stop-color="#67000d"/><stop offset="0.978" stop-color="#67000d"/><stop offset="0.983" stop-color="#67000d"/><stop offset="0.988" stop-color="#67000d"/><stop offset="0.994" stop-color="#67000d"/><stop offset="1.000" stop-color="#67000d"/></linearGradient>
<linearGradient id="g4_4" gradientUnits="userSpaceOnUse" x1="0" x2="0" y1="338.8" y2="593.8"><stop offset="0.000" stop-color="#fc9677"/><stop offset="0.200" stop-color="#fc8d6d"/><stop offset="0.380" stop-color="#fc8363"/><stop offset="0.530" stop-color="#fb7757"/><stop offset="0.650" stop-color="#fb6b4b"/><stop offset="0.740" stop-color="#f75b40"/><stop offset="0.810" stop-color="#f34a35"/><stop offset="0.865" stop-color="#ec382b"/><stop offset="0.905" stop-color="#dd2924"/><stop offset="0.930" stop-color="#d01d1f"/><stop offset="0.945" stop-color="#c6171c"/><stop offset="0.955" stop-color="#bb141a"/><stop offset="0.962" stop-color="#ad1117"/><stop offset="0.968" stop-color="#8c0912"/><stop offset="0.973" stop-color="#67000d"/><stop offset="0.978" stop-color="#67000d"/><stop offset="0.983" stop-color="#67000d"/><stop offset="0.988" stop-color="#67000d"/><stop offset="0.994" stop-color="#67000d"/><stop offset="1.000" stop-color="#67000d"/></linearGradient>
<linearGradient id="g4_5" gradientUnits="userSpaceOnUse" x1="0" x2="0" y1="338.8" y2="593.8"><stop offset="0.000" stop-color="#fb6d4d"/><stop offset="0.200" stop-color="#f96345"/><stop offset="0.380" stop-color="#f6563d"/><stop offset="0.530" stop-color="#f34935"/><stop offset="0.650" stop-color="#ee3a2c"/><stop offset="0.740" stop-color="#e22e27"/><stop offset="0.810" stop-color="#d52121"/><stop offset="0.865" stop-color="#c6171c"/><stop offset="0.905" stop-color="#b61319"/><stop offset="0.930" stop-color="#a91016"/><stop offset="0.945" stop-color="#9a0c14"/><stop offset="0.955" stop-color="#880811"/><stop offset="0.962" stop-color="#71030e"/><stop offset="0.968" stop-color="#67000d"/><stop offset="0.973" stop-color="#67000d"/><stop offset="0.978" stop-color="#67000d"/><stop offset="0.983" stop-color="#67000d"/><stop offset="0.988" stop-color="#67000d"/><stop offset="0.994" stop-color="#67000d"/><stop offset="1.000" stop-color="#67000d"/></linearGradient>
<linearGradient id="g4_6" gradientUnits="userSpaceOnUse" x1="0" x2="0" y1="338.8" y2="593.8"><stop offset="0.000" stop-color="#fc9373"/><stop offset="0.200" stop-color="#fc8a6a"/><stop offset="0.380" stop-color="#fc8060"/><stop offset="0.530" stop-color="#fb7454"/><stop offset="0.650" stop-color="#fa6748"/><stop offset="0.740" stop-color="#f6573e"/><stop offset="0.810" stop-color="#f24633"/><stop offset="0.865" stop-color="#e93529"/><stop offset="0.905" stop-color="#da2623"/><stop offset="0.930" stop-color="#cd1a1e"/><stop offset="0.945" stop-color="#c3161b"/><stop offset="0.955" stop-color="#b81319"/><stop offset="0.962" stop-color="#aa1016"/><stop offset="0.968" stop-color="#870811"/><stop offset="0.973" stop-color="#67000d"/><stop offset="0.978" stop-color="#67000d"/><stop offset="0.983" stop-color="#67000d"/><stop offset="0.988" stop-color="#67000d"/><stop offset="0.994" stop-color="#67000d"/><stop offset="1.000" stop-color="#67000d"/></linearGradient>
<linearGradient id="g4_7" gradientUnits="userSpaceOnUse" x1="0" x2="0" y1="338.8" y2="593.8"><stop offset="0.000" stop-color="#fb7656"/><stop offset="0.200" stop-color="#fb6d4d"/><stop offset="0.380" stop-color="#f96245"/><stop offset="0.530" stop-color="#f5543c"/><stop offset="0.650" stop-color="#f24532"/><stop offset="0.740" stop-color="#eb372a"/><stop offset="0.810" stop-color="#dd2a25"/><stop offset="0.865" stop-color="#cf1c1f"/><stop offset="0.905" stop-color="#bf151b"/><stop offset="0.930" stop-color="#b21218"/><stop offset="0.945" stop-color="#a71015"/><stop offset="0.955" stop-color="#970c13"/><stop offset="0.962" stop-color="#800610"/><stop offset="0.968" stop-color="#67000d"/><stop offset="0.973" stop-color="#67000d"/><stop offset="0.978" stop-color="#67000d"/><stop offset="0.983" stop-color="#67000d"/><stop offset="0.988" stop-color="#67000d"/><stop offset="0.994" stop-color="#67000d"/><stop offset="1.000" stop-color="#67000d"/></linearGradient>
<linearGradient id="g4_8" gradientUnits="userSpaceOnUse" x1="0" x2="0" y1="338.8" y2="593.8"><stop offset="0.000" stop-color="#fb7d5d"/><stop offset="0.200" stop-color="#fb7454"/><stop offset="0.380" stop-color="#fb6949"/><stop offset="0.530" stop-color="#f75c41"/><stop offset="0.650" stop-color="#f34d37"/><stop offset="0.740" stop-color="#ef3d2d"/><stop offset="0.810" stop-color="#e32f27"/><stop offset="0.865" stop-color="#d52121"/><stop offset="0.905" stop-color="#c5171c"/><stop offset="0.930" stop-color="#b81419"/><stop offset="0.945" stop-color="#ad1117"/><stop offset="0.955" stop-color="#a10e15"/><stop offset="0.962" stop-color="#8a0912"/><stop offset="0.968" stop-color="#67000d"/><stop offset="0.973" stop-color="#67000d"/><stop offset="0.978" stop-color="#67000d"/><stop offset="0.983" stop-color="#67000d"/><stop offset="0.988" stop-color="#67000d"/><stop offset="0.994" stop-color="#67000d"/><stop offset="1.000" stop-color="#67000d"/></linearGradient>
<linearGradient id="g4_9" gradientUnits="userSpaceOnUse" x1="0" x2="0" y1="338.8" y2="593.8"><stop offset="0.000" stop-color="#fb7959"/><stop offset="0.200" stop-color="#fb7050"/><stop offset="0.380" stop-color="#fa6547"/><stop offset="0.530" stop-color="#f6583e"/><stop offset="0.650" stop-color="#f34935"/><stop offset="0.740" stop-color="#ed392b"/><stop offset="0.810" stop-color="#e02d26"/><stop offset="0.865" stop-color="#d21e20"/><stop offset="0.905" stop-color="#c2161b"/><stop offset="0.930" stop-color="#b51318"/><stop offset="0.945" stop-color="#aa1016"/><stop offset="0.955" stop-color="#9c0d14"/><stop offset="0.962" stop-color="#850711"/><stop offset="0.968" stop-color="#67000d"/><stop offset="0.973" stop-color="#67000d"/><stop offset="0.978" stop-color="#67000d"/><stop offset="0.983" stop-color="#67000d"/><stop offset="0.988" stop-color="#67000d"/><stop offset="0.994" stop-color="#67000d"/><stop offset="1.000" stop-color="#67000d"/></linearGradient>
<linearGradient id="g4_10" gradientUnits="userSpaceOnUse" x1="0" x2="0" y1="338.8" y2="593.8"><stop offset="0.000" stop-color="#fc8d6d"/><stop offset="0.200" stop-color="#fc8464"/><stop offset="0.380" stop-color="#fb7959"/><stop offset="0.530" stop-color="#fb6e4e"/><stop offset="0.650" stop-color="#f85f43"/><stop offset="0.740" stop-color="#f45039"/><stop offset="0.810" stop-color="#f03e2e"/><stop offset="0.865" stop-color="#e32f27"/><stop offset="0.905" stop-color="#d42121"/><stop offset="0.930" stop-color="#c7171c"/><stop offset="0.945" stop-color="#bd151a"/><stop offset="0.955" stop-color="#b21218"/><stop offset="0.962" stop-color="#a30f15"/><stop offset="0.968" stop-color="#7d0510"/><stop offset="0.973" stop-color="#67000d"/><stop offset="0.978" stop-color="#67000d"/><stop offset="0.983" stop-color="#67000d"/><stop offset="0.988" stop-color="#67000d"/><stop offset="0.994" stop-color="#67000d"/><stop offset="1.000" stop-color="#67000d"/></linearGradient>
<linearGradient id="g4_11" gradientUnits="userSpaceOnUse" x1="0" x2="0" y1="338.8" y2="593.8"><stop offset="0.000" stop-color="#fc8666"/><stop offset="0.200" stop-color="#fb7d5d"/><stop offset="0.380" stop-color="#fb7353"/><stop offset="0.530" stop-color="#fa6748"/><stop offset="0.650" stop-color="#f6583e"/><stop offset="0.740" stop-color="#f24834"/><stop offset="0.810" stop-color="#ec382b"/><stop offset="0.865" stop-color="#dd2a25"/><stop offset="0.905" stop-color="#ce1b1e"/><stop offset="0.930" stop-color="#c1161b"/><stop offset="0.945" stop-color="#b71319"/><stop offset="0.955" stop-color="#ac1116"/><stop offset="0.962" stop-color="#990c13"/><stop offset="0.968" stop-color="#73030f"/><stop offset="0.973" stop-color="#67000d"/><stop offset="0.978" stop-color="#67000d"/><stop offset="0.983" stop-color="#67000d"/><stop offset="0.988" stop-color="#67000d"/><stop offset="0.994" stop-color="#67000d"/><stop offset="1.000" stop-color="#67000d"/></linearGradient>
<linearGradient id="g4_12" gradientUnits="userSpaceOnUse" x1="0" x2="0" y1="338.8" y2="593.8"><stop offset="0.000" stop-color="#fc8969"/><stop offset="0.200" stop-color="#fc8060"/><stop offset="0.380" stop-color="#fb7656"/><stop offset="0.530" stop-color="#fb6b4b"/><stop offset="0.650" stop-color="#f75c41"/><stop offset="0.740" stop-color="#f34c37"/><stop offset="0.810" stop-color="#ef3b2c"/><stop offset="0.865" stop-color="#e02c26"/><stop offset="0.905" stop-color="#d11e20"/><stop offset="0.930" stop-color="#c4161c"/><stop offset="0.945" stop-color="#ba1419"/><stop offset="0.955" stop-color="#af1117"/><stop offset="0.962" stop-color="#9e0d14"/><stop offset="0.968" stop-color="#78040f"/><stop offset="0.973" stop-color="#67000d"/><stop offset="0.978" stop-color="#67000d"/><stop offset="0.983" stop-color="#67000d"/><stop offset="0.988" stop-color="#67000d"/><stop offset="0.994" stop-color="#67000d"/><stop offset="1.000" stop-color="#67000d"/></linearGradient>
<linearGradient id="g4_13" gradientUnits="userSpaceOnUse" x1="0" x2="0" y1="338.8" y2="593.8"><stop offset="0.000" stop-color="#fc9d7f"/><stop offset="0.200" stop-color="#fc9474"/><stop offset="0.380" stop-color="#fc8969"/><stop offset="0.530" stop-color="#fb7e5e"/><stop offset="0.650" stop-color="#fb7151"/><stop offset="0.740" stop-color="#f96245"/><stop offset="0.810" stop-color="#f5513a"/><stop offset="0.865" stop-color="#f03e2e"/><stop offset="0.905" stop-color="#e22f27"/><stop offset="0.930" stop-color="#d62322"/><stop offset="0.945" stop-color="#cc191d"/><stop offset="0.955" stop-color="#c1161b"/><stop offset="0.962" stop-color="#b31218"/><stop offset="0.968" stop-color="#960b13"/><stop offset="0.973" stop-color="#67000d"/><stop offset="0.978" stop-color="#67000d"/><stop offset="0.983" stop-color="#67000d"/><stop offset="0.988" stop-color="#67000d"/><stop offset="0.994" stop-color="#67000d"/><stop offset="1.000" stop-color="#67000d"/></linearGradient>
<clipPath id="cp5"><polygon points="113.8,1074.2 347.3,822.2 348.7,821.0 350.3,821.0 351.7,822.2 581,1074.2"/></clipPath>
<linearGradient id="g5_0" gradientUnits="userSpaceOnUse" x1="0" x2="0" y1="819.8" y2="1074.2"><stop offset="0.000" stop-color="#fee1d3"/><stop offset="0.200" stop-color="#fed9c8"/><stop offset="0.380" stop-color="#fdcfbb"/><stop offset="0.530" stop-color="#fdc4ad"/><stop offset="0.650" stop-color="#fcb89e"/><stop offset="0.740" stop-color="#fcaa8e"/><stop offset="0.810" stop-color="#fc9b7d"/><stop offset="0.865" stop-color="#fc8b6b"/><stop offset="0.905" stop-color="#fb7a5a"/><stop offset="0.930" stop-color="#fb6c4c"/><stop offset="0.945" stop-color="#f86043"/><stop offset="0.955" stop-color="#f5523b"/><stop offset="0.962" stop-color="#f04130"/><stop offset="0.968" stop-color="#dd2a25"/><stop offset="0.973" stop-color="#bf151a"/><stop offset="0.978" stop-color="#910a12"/><stop offset="0.983" stop-color="#67000d"/><stop offset="0.988" stop-color="#67000d"/><stop offset="0.994" stop-color="#67000d"/><stop offset="1.000" stop-color="#67000d"/></linearGradient>
<linearGradient id="g5_1" gradientUnits="userSpaceOnUse" x1="0" x2="0" y1="819.8" y2="1074.2"><stop offset="0.000" stop-color="#fdcfbc"/><stop offset="0.200" stop-color="#fdc7b1"/><stop offset="0.380" stop-color="#fcbda4"/><stop offset="0.530" stop-color="#fcb296"/><stop offset="0.650" stop-color="#fca487"/><stop offset="0.740" stop-color="#fc9777"/><stop offset="0.810" stop-color="#fc8868"/><stop offset="0.865" stop-color="#fb7858"/><stop offset="0.905" stop-color="#fa6748"/><stop offset="0.930" stop-color="#f6563d"/><stop offset="0.945" stop-color="#f34935"/><stop offset="0.955" stop-color="#ef3c2c"/><stop offset="0.962" stop-color="#e22e27"/><stop offset="0.968" stop-color="#cc191d"/><stop offset="0.973" stop-color="#ad1117"/><stop offset="0.978" stop-color="#74030f"/><stop offset="0.983" stop-color="#67000d"/><stop offset="0.988" stop-color="#67000d"/><stop offset="0.994" stop-color="#67000d"/><stop offset="1.000" stop-color="#67000d"/></linearGradient>
<linearGradient id="g5_2" gradientUnits="userSpaceOnUse" x1="0" x2="0" y1="819.8" y2="1074.2"><stop offset="0.000" stop-color="#fdccb8"/><stop offset="0.200" stop-color="#fcc4ad"/><stop offset="0.380" stop-color="#fcbaa0"/><stop offset="0.530" stop-color="#fcae92"/><stop offset="0.650" stop-color="#fca183"/><stop offset="0.740" stop-color="#fc9374"/><stop offset="0.810" stop-color="#fc8565"/><stop offset="0.865" stop-color="#fb7454"/><stop offset="0.905" stop-color="#f96345"/><stop offset="0.930" stop-color="#f5523b"/><stop offset="0.945" stop-color="#f24533"/><stop offset="0.955" stop-color="#ed392b"/><stop offset="0.962" stop-color="#df2c25"/><stop offset="0.968" stop-color="#c9181d"/><stop offset="0.973" stop-color="#aa1016"/><stop offset="0.978" stop-color="#6f020e"/><stop offset="0.983" stop-color="#67000d"/><stop offset="0.988" stop-color="#67000d"/><stop offset="0.994" stop-color="#67000d"/><stop offset="1.000" stop-color="#67000d"/></linearGradient>
<linearGradient id="g5_3" gradientUnits="userSpaceOnUse" x1="0" x2="0" y1="819.8" y2="1074.2"><stop offset="0.000" stop-color="#fc9373"/><stop offset="0.200" stop-color="#fc8a6a"/><stop offset="0.380" stop-color="#fc8060"/><stop offset="0.530" stop-color="#fb7454"/><stop offset="0.650" stop-color="#fa6748"/><stop offset="0.740" stop-color="#f6573e"/><stop offset="0.810" stop-color="#f24633"/><stop offset="0.865" stop-color="#e93529"/><stop offset="0.905" stop-color="#da2623"/><stop offset="0.930" stop-color="#cd1a1e"/><stop offset="0.945" stop-color="#c3161b"/><stop offset="0.955" stop-color="#b81319"/><stop offset="0.962" stop-color="#aa1016"/><stop offset="0.968" stop-color="#860811"/><stop offset="0.973" stop-color="#67000d"/><stop offset="0.978" stop-color="#67000d"/><stop offset="0.983" stop-color="#67000d"/><stop offset="0.988" stop-color="#67000d"/><stop offset="0.994" stop-color="#67000d"/><stop offset="1.000" stop-color="#67000d"/></linearGradient>
<linearGradient id="g5_4" gradientUnits="userSpaceOnUse" x1="0" x2="0" y1="819.8" y2="1074.2"><stop offset="0.000" stop-color="#fca082"/><stop offset="0.200" stop-color="#fc9778"/><stop offset="0.380" stop-color="#fc8c6c"/><stop offset="0.530" stop-color="#fc8161"/><stop offset="0.650" stop-color="#fb7454"/><stop offset="0.740" stop-color="#fa6647"/><stop offset="0.810" stop-color="#f6553c"/><stop offset="0.865" stop-color="#f14230"/><stop offset="0.905" stop-color="#e53228"/><stop offset="0.930" stop-color="#d92523"/><stop offset="0.945" stop-color="#cf1b1e"/><stop offset="0.955" stop-color="#c4161c"/><stop offset="0.962" stop-color="#b61319"/><stop offset="0.968" stop-color="#9a0c14"/><stop offset="0.973" stop-color="#67000d"/><stop offset="0.978" stop-color="#67000d"/><stop offset="0.983" stop-color="#67000d"/><stop offset="0.988" stop-color="#67000d"/><stop offset="0.994" stop-color="#67000d"/><stop offset="1.000" stop-color="#67000d"/></linearGradient>
<linearGradient id="g5_5" gradientUnits="userSpaceOnUse" x1="0" x2="0" y1="819.8" y2="1074.2"><stop offset="0.000" stop-color="#fc8060"/><stop offset="0.200" stop-color="#fb7757"/><stop offset="0.380" stop-color="#fb6c4c"/><stop offset="0.530" stop-color="#f85f43"/><stop offset="0.650" stop-color="#f4503a"/><stop offset="0.740" stop-color="#f0402f"/><stop offset="0.810" stop-color="#e63228"/><stop offset="0.865" stop-color="#d72422"/><stop offset="0.905" stop-color="#c8171c"/><stop offset="0.930" stop-color="#bb141a"/><stop offset="0.945" stop-color="#b01217"/><stop offset="0.955" stop-color="#a60f15"/><stop offset="0.962" stop-color="#8f0a12"/><stop offset="0.968" stop-color="#69000d"/><stop offset="0.973" stop-color="#67000d"/><stop offset="0.978" stop-color="#67000d"/><stop offset="0.983" stop-color="#67000d"/><stop offset="0.988" stop-color="#67000d"/><stop offset="0.994" stop-color="#67000d"/><stop offset="1.000" stop-color="#67000d"/></linearGradient>
<linearGradient id="g5_6" gradientUnits="userSpaceOnUse" x1="0" x2="0" y1="819.8" y2="1074.2"><stop offset="0.000" stop-color="#fb7050"/><stop offset="0.200" stop-color="#fa6648"/><stop offset="0.380" stop-color="#f75a40"/><stop offset="0.530" stop-color="#f34c37"/><stop offset="0.650" stop-color="#f03d2e"/><stop offset="0.740" stop-color="#e53128"/><stop offset="0.810" stop-color="#d82422"/><stop offset="0.865" stop-color="#c9171d"/><stop offset="0.905" stop-color="#b91419"/><stop offset="0.930" stop-color="#ac1116"/><stop offset="0.945" stop-color="#9f0d14"/><stop offset="0.955" stop-color="#8d0912"/><stop offset="0.962" stop-color="#76040f"/><stop offset="0.968" stop-color="#67000d"/><stop offset="0.973" stop-color="#67000d"/><stop offset="0.978" stop-color="#67000d"/><stop offset="0.983" stop-color="#67000d"/><stop offset="0.988" stop-color="#67000d"/><stop offset="0.994" stop-color="#67000d"/><stop offset="1.000" stop-color="#67000d"/></linearGradient>
<linearGradient id="g5_7" gradientUnits="userSpaceOnUse" x1="0" x2="0" y1="819.8" y2="1074.2"><stop offset="0.000" stop-color="#fc9677"/><stop offset="0.200" stop-color="#fc8d6d"/><stop offset="0.380" stop-color="#fc8363"/><stop offset="0.530" stop-color="#fb7757"/><stop offset="0.650" stop-color="#fb6a4a"/><stop offset="0.740" stop-color="#f75b40"/><stop offset="0.810" stop-color="#f34935"/><stop offset="0.865" stop-color="#eb382b"/><stop offset="0.905" stop-color="#dd2924"/><stop offset="0.930" stop-color="#d01d1f"/><stop offset="0.945" stop-color="#c6171c"/><stop offset="0.955" stop-color="#bb141a"/><stop offset="0.962" stop-color="#ad1117"/><stop offset="0.968" stop-color="#8b0912"/><stop offset="0.973" stop-color="#67000d"/><stop offset="0.978" stop-color="#67000d"/><stop offset="0.983" stop-color="#67000d"/><stop offset="0.988" stop-color="#67000d"/><stop offset="0.994" stop-color="#67000d"/><stop offset="1.000" stop-color="#67000d"/></linearGradient>
<linearGradient id="g5_8" gradientUnits="userSpaceOnUse" x1="0" x2="0" y1="819.8" y2="1074.2"><stop offset="0.000" stop-color="#fc8d6d"/><stop offset="0.200" stop-color="#fc8464"/><stop offset="0.380" stop-color="#fb7959"/><stop offset="0.530" stop-color="#fb6e4e"/><stop offset="0.650" stop-color="#f85f43"/><stop offset="0.740" stop-color="#f44f39"/><stop offset="0.810" stop-color="#f03e2e"/><stop offset="0.865" stop-color="#e32f27"/><stop offset="0.905" stop-color="#d42121"/><stop offset="0.930" stop-color="#c7171c"/><stop offset="0.945" stop-color="#bd151a"/><stop offset="0.955" stop-color="#b21218"/><stop offset="0.962" stop-color="#a30e15"/><stop offset="0.968" stop-color="#7c0510"/><stop offset="0.973" stop-color="#67000d"/><stop offset="0.978" stop-color="#67000d"/><stop offset="0.983" stop-color="#67000d"/><stop offset="0.988" stop-color="#67000d"/><stop offset="0.994" stop-color="#67000d"/><stop offset="1.000" stop-color="#67000d"/></linearGradient>
<linearGradient id="g5_9" gradientUnits="userSpaceOnUse" x1="0" x2="0" y1="819.8" y2="1074.2"><stop offset="0.000" stop-color="#fb7656"/><stop offset="0.200" stop-color="#fb6d4d"/><stop offset="0.380" stop-color="#f96245"/><stop offset="0.530" stop-color="#f5543c"/><stop offset="0.650" stop-color="#f24532"/><stop offset="0.740" stop-color="#ea372a"/><stop offset="0.810" stop-color="#dd2a25"/><stop offset="0.865" stop-color="#cf1c1f"/><stop offset="0.905" stop-color="#bf151b"/><stop offset="0.930" stop-color="#b21218"/><stop offset="0.945" stop-color="#a71015"/><stop offset="0.955" stop-color="#970c13"/><stop offset="0.962" stop-color="#800610"/><stop offset="0.968" stop-color="#67000d"/><stop offset="0.973" stop-color="#67000d"/><stop offset="0.978" stop-color="#67000d"/><stop offset="0.983" stop-color="#67000d"/><stop offset="0.988" stop-color="#67000d"/><stop offset="0.994" stop-color="#67000d"/><stop offset="1.000" stop-color="#67000d"/></linearGradient>
<linearGradient id="g5_10" gradientUnits="userSpaceOnUse" x1="0" x2="0" y1="819.8" y2="1074.2"><stop offset="0.000" stop-color="#fc8666"/><stop offset="0.200" stop-color="#fb7d5d"/><stop offset="0.380" stop-color="#fb7353"/><stop offset="0.530" stop-color="#fa6748"/><stop offset="0.650" stop-color="#f6583e"/><stop offset="0.740" stop-color="#f24834"/><stop offset="0.810" stop-color="#ec382b"/><stop offset="0.865" stop-color="#dd2a25"/><stop offset="0.905" stop-color="#ce1b1e"/><stop offset="0.930" stop-color="#c1161b"/><stop offset="0.945" stop-color="#b61319"/><stop offset="0.955" stop-color="#ac1116"/><stop offset="0.962" stop-color="#990c13"/><stop offset="0.968" stop-color="#73030e"/><stop offset="0.973" stop-color="#67000d"/><stop offset="0.978" stop-color="#67000d"/><stop offset="0.983" stop-color="#67000d"/><stop offset="0.988" stop-color="#67000d"/><stop offset="0.994" stop-color="#67000d"/><stop offset="1.000" stop-color="#67000d"/></linearGradient>
<linearGradient id="g5_11" gradientUnits="userSpaceOnUse" x1="0" x2="0" y1="819.8" y2="1074.2"><stop offset="0.000" stop-color="#fc8363"/><stop offset="0.200" stop-color="#fb7a5a"/><stop offset="0.380" stop-color="#fb7050"/><stop offset="0.530" stop-color="#f96346"/><stop offset="0.650" stop-color="#f5543c"/><stop offset="0.740" stop-color="#f14432"/><stop offset="0.810" stop-color="#e93529"/><stop offset="0.865" stop-color="#da2723"/><stop offset="0.905" stop-color="#cb181d"/><stop offset="0.930" stop-color="#be151a"/><stop offset="0.945" stop-color="#b31218"/><stop offset="0.955" stop-color="#a91016"/><stop offset="0.962" stop-color="#940b13"/><stop offset="0.968" stop-color="#6e020e"/><stop offset="0.973" stop-color="#67000d"/><stop offset="0.978" stop-color="#67000d"/><stop offset="0.983" stop-color="#67000d"/><stop offset="0.988" stop-color="#67000d"/><stop offset="0.994" stop-color="#67000d"/><stop offset="1.000" stop-color="#67000d"/></linearGradient>
<linearGradient id="g5_12" gradientUnits="userSpaceOnUse" x1="0" x2="0" y1="819.8" y2="1074.2"><stop offset="0.000" stop-color="#fca386"/><stop offset="0.200" stop-color="#fc9a7b"/><stop offset="0.380" stop-color="#fc9070"/><stop offset="0.530" stop-color="#fc8464"/><stop offset="0.650" stop-color="#fb7757"/><stop offset="0.740" stop-color="#fb6a4a"/><stop offset="0.810" stop-color="#f7583f"/><stop offset="0.865" stop-color="#f24533"/><stop offset="0.905" stop-color="#e83429"/><stop offset="0.930" stop-color="#dc2824"/><stop offset="0.945" stop-color="#d11e20"/><stop offset="0.955" stop-color="#c7171c"/><stop offset="0.962" stop-color="#b91419"/><stop offset="0.968" stop-color="#9f0e14"/><stop offset="0.973" stop-color="#6c010e"/><stop offset="0.978" stop-color="#67000d"/><stop offset="0.983" stop-color="#67000d"/><stop offset="0.988" stop-color="#67000d"/><stop offset="0.994" stop-color="#67000d"/><stop offset="1.000" stop-color="#67000d"/></linearGradient>
<clipPath id="cp6"><polygon points="604.2,1074.2 840.0,822.2 841.4,821.0 843.0,821.0 844.4,822.2 1073,1074.2"/></clipPath>
<linearGradient id="g6_0" gradientUnits="userSpaceOnUse" x1="0" x2="0" y1="819.8" y2="1074.2"><stop offset="0.000" stop-color="#fdccb8"/><stop offset="0.200" stop-color="#fcc4ad"/><stop offset="0.380" stop-color="#fcbaa0"/><stop offset="0.530" stop-color="#fcae92"/><stop offset="0.650" stop-color="#fca183"/><stop offset="0.740" stop-color="#fc9374"/><stop offset="0.810" stop-color="#fc8565"/><stop offset="0.865" stop-color="#fb7454"/><stop offset="0.905" stop-color="#f96345"/><stop offset="0.930" stop-color="#f5523b"/><stop offset="0.945" stop-color="#f24533"/><stop offset="0.955" stop-color="#ed392b"/><stop offset="0.962" stop-color="#df2c25"/><stop offset="0.968" stop-color="#c9181d"/><stop offset="0.973" stop-color="#aa1016"/><stop offset="0.978" stop-color="#6f020e"/><stop offset="0.983" stop-color="#67000d"/><stop offset="0.988" stop-color="#67000d"/><stop offset="0.994" stop-color="#67000d"/><stop offset="1.000" stop-color="#67000d"/></linearGradient>
<linearGradient id="g6_1" gradientUnits="userSpaceOnUse" x1="0" x2="0" y1="819.8" y2="1074.2"><stop offset="0.000" stop-color="#fcc0a8"/><stop offset="0.200" stop-color="#fcb89d"/><stop offset="0.380" stop-color="#fcad91"/><stop offset="0.530" stop-color="#fca183"/><stop offset="0.650" stop-color="#fc9474"/><stop offset="0.740" stop-color="#fc8767"/><stop offset="0.810" stop-color="#fb7858"/><stop offset="0.865" stop-color="#fa6748"/><stop offset="0.905" stop-color="#f5543c"/><stop offset="0.930" stop-color="#f14331"/><stop offset="0.945" stop-color="#eb372a"/><stop offset="0.955" stop-color="#e12d26"/><stop offset="0.962" stop-color="#d42021"/><stop offset="0.968" stop-color="#bd151a"/><stop offset="0.973" stop-color="#990c13"/><stop offset="0.978" stop-color="#67000d"/><stop offset="0.983" stop-color="#67000d"/><stop offset="0.988" stop-color="#67000d"/><stop offset="0.994" stop-color="#67000d"/><stop offset="1.000" stop-color="#67000d"/></linearGradient>
<linearGradient id="g6_2" gradientUnits="userSpaceOnUse" x1="0" x2="0" y1="819.8" y2="1074.2"><stop offset="0.000" stop-color="#fcaa8d"/><stop offset="0.200" stop-color="#fca183"/><stop offset="0.380" stop-color="#fc9677"/><stop offset="0.530" stop-color="#fc8a6a"/><stop offset="0.650" stop-color="#fb7e5e"/><stop offset="0.740" stop-color="#fb7050"/><stop offset="0.810" stop-color="#f86044"/><stop offset="0.865" stop-color="#f44d37"/><stop offset="0.905" stop-color="#ee3a2c"/><stop offset="0.930" stop-color="#e12e26"/><stop offset="0.945" stop-color="#d72422"/><stop offset="0.955" stop-color="#cd1a1e"/><stop offset="0.962" stop-color="#bf151a"/><stop offset="0.968" stop-color="#a71016"/><stop offset="0.973" stop-color="#76040f"/><stop offset="0.978" stop-color="#67000d"/><stop offset="0.983" stop-color="#67000d"/><stop offset="0.988" stop-color="#67000d"/><stop offset="0.994" stop-color="#67000d"/><stop offset="1.000" stop-color="#67000d"/></linearGradient>
<linearGradient id="g6_3" gradientUnits="userSpaceOnUse" x1="0" x2="0" y1="819.8" y2="1074.2"><stop offset="0.000" stop-color="#fb7959"/><stop offset="0.200" stop-color="#fb7050"/><stop offset="0.380" stop-color="#fa6547"/><stop offset="0.530" stop-color="#f6583e"/><stop offset="0.650" stop-color="#f24935"/><stop offset="0.740" stop-color="#ed392b"/><stop offset="0.810" stop-color="#e02d26"/><stop offset="0.865" stop-color="#d21e20"/><stop offset="0.905" stop-color="#c2161b"/><stop offset="0.930" stop-color="#b51318"/><stop offset="0.945" stop-color="#aa1016"/><stop offset="0.955" stop-color="#9c0d14"/><stop offset="0.962" stop-color="#850711"/><stop offset="0.968" stop-color="#67000d"/><stop offset="0.973" stop-color="#67000d"/><stop offset="0.978" stop-color="#67000d"/><stop offset="0.983" stop-color="#67000d"/><stop offset="0.988" stop-color="#67000d"/><stop offset="0.994" stop-color="#67000d"/><stop offset="1.000" stop-color="#67000d"/></linearGradient>
<linearGradient id="g6_4" gradientUnits="userSpaceOnUse" x1="0" x2="0" y1="819.8" y2="1074.2"><stop offset="0.000" stop-color="#fc8666"/><stop offset="0.200" stop-color="#fb7d5d"/><stop offset="0.380" stop-color="#fb7353"/><stop offset="0.530" stop-color="#fa6748"/><stop offset="0.650" stop-color="#f6583e"/><stop offset="0.740" stop-color="#f24834"/><stop offset="0.810" stop-color="#ec382b"/><stop offset="0.865" stop-color="#dd2a25"/><stop offset="0.905" stop-color="#ce1b1e"/><stop offset="0.930" stop-color="#c1161b"/><stop offset="0.945" stop-color="#b61319"/><stop offset="0.955" stop-color="#ac1116"/><stop offset="0.962" stop-color="#990c13"/><stop offset="0.968" stop-color="#73030e"/><stop offset="0.973" stop-color="#67000d"/><stop offset="0.978" stop-color="#67000d"/><stop offset="0.983" stop-color="#67000d"/><stop offset="0.988" stop-color="#67000d"/><stop offset="0.994" stop-color="#67000d"/><stop offset="1.000" stop-color="#67000d"/></linearGradient>
<linearGradient id="g6_5" gradientUnits="userSpaceOnUse" x1="0" x2="0" y1="819.8" y2="1074.2"><stop offset="0.000" stop-color="#fc8969"/><stop offset="0.200" stop-color="#fc8060"/><stop offset="0.380" stop-color="#fb7656"/><stop offset="0.530" stop-color="#fb6a4a"/><stop offset="0.650" stop-color="#f75b41"/><stop offset="0.740" stop-color="#f34c37"/><stop offset="0.810" stop-color="#ef3b2c"/><stop offset="0.865" stop-color="#e02c26"/><stop offset="0.905" stop-color="#d11e20"/><stop offset="0.930" stop-color="#c4161c"/><stop offset="0.945" stop-color="#b91419"/><stop offset="0.955" stop-color="#af1117"/><stop offset="0.962" stop-color="#9e0d14"/><stop offset="0.968" stop-color="#77040f"/><stop offset="0.973" stop-color="#67000d"/><stop offset="0.978" stop-color="#67000d"/><stop offset="0.983" stop-color="#67000d"/><stop offset="0.988" stop-color="#67000d"/><stop offset="0.994" stop-color="#67000d"/><stop offset="1.000" stop-color="#67000d"/></linearGradient>
<linearGradient id="g6_6" gradientUnits="userSpaceOnUse" x1="0" x2="0" y1="819.8" y2="1074.2"><stop offset="0.000" stop-color="#fa6647"/><stop offset="0.200" stop-color="#f75b40"/><stop offset="0.380" stop-color="#f44f39"/><stop offset="0.530" stop-color="#f14130"/><stop offset="0.650" stop-color="#e83429"/><stop offset="0.740" stop-color="#dc2924"/><stop offset="0.810" stop-color="#cf1c1f"/><stop offset="0.865" stop-color="#c0151b"/><stop offset="0.905" stop-color="#b01217"/><stop offset="0.930" stop-color="#a10e15"/><stop offset="0.945" stop-color="#900a12"/><stop offset="0.955" stop-color="#7e0610"/><stop offset="0.962" stop-color="#67000d"/><stop offset="0.968" stop-color="#67000d"/><stop offset="0.973" stop-color="#67000d"/><stop offset="0.978" stop-color="#67000d"/><stop offset="0.983" stop-color="#67000d"/><stop offset="0.988" stop-color="#67000d"/><stop offset="0.994" stop-color="#67000d"/><stop offset="1.000" stop-color="#67000d"/></linearGradient>
<linearGradient id="g6_7" gradientUnits="userSpaceOnUse" x1="0" x2="0" y1="819.8" y2="1074.2"><stop offset="0.000" stop-color="#f75a40"/><stop offset="0.200" stop-color="#f45039"/><stop offset="0.380" stop-color="#f14331"/><stop offset="0.530" stop-color="#eb372a"/><stop offset="0.650" stop-color="#e02c26"/><stop offset="0.740" stop-color="#d32021"/><stop offset="0.810" stop-color="#c6171c"/><stop offset="0.865" stop-color="#b71319"/><stop offset="0.905" stop-color="#a70f15"/><stop offset="0.930" stop-color="#920a13"/><stop offset="0.945" stop-color="#810610"/><stop offset="0.955" stop-color="#6f020e"/><stop offset="0.962" stop-color="#67000d"/><stop offset="0.968" stop-color="#67000d"/><stop offset="0.973" stop-color="#67000d"/><stop offset="0.978" stop-color="#67000d"/><stop offset="0.983" stop-color="#67000d"/><stop offset="0.988" stop-color="#67000d"/><stop offset="0.994" stop-color="#67000d"/><stop offset="1.000" stop-color="#67000d"/></linearGradient>
<linearGradient id="g6_8" gradientUnits="userSpaceOnUse" x1="0" x2="0" y1="819.8" y2="1074.2"><stop offset="0.000" stop-color="#f96245"/><stop offset="0.200" stop-color="#f6573e"/><stop offset="0.380" stop-color="#f34b36"/><stop offset="0.530" stop-color="#f03d2e"/><stop offset="0.650" stop-color="#e53228"/><stop offset="0.740" stop-color="#d92623"/><stop offset="0.810" stop-color="#cc191d"/><stop offset="0.865" stop-color="#bd151a"/><stop offset="0.905" stop-color="#ad1117"/><stop offset="0.930" stop-color="#9c0d14"/><stop offset="0.945" stop-color="#8b0912"/><stop offset="0.955" stop-color="#79040f"/><stop offset="0.962" stop-color="#67000d"/><stop offset="0.968" stop-color="#67000d"/><stop offset="0.973" stop-color="#67000d"/><stop offset="0.978" stop-color="#67000d"/><stop offset="0.983" stop-color="#67000d"/><stop offset="0.988" stop-color="#67000d"/><stop offset="0.994" stop-color="#67000d"/><stop offset="1.000" stop-color="#67000d"/></linearGradient>
<linearGradient id="g6_9" gradientUnits="userSpaceOnUse" x1="0" x2="0" y1="819.8" y2="1074.2"><stop offset="0.000" stop-color="#fb7656"/><stop offset="0.200" stop-color="#fb6d4d"/><stop offset="0.380" stop-color="#f96245"/><stop offset="0.530" stop-color="#f5543c"/><stop offset="0.650" stop-color="#f24532"/><stop offset="0.740" stop-color="#ea372a"/><stop offset="0.810" stop-color="#dd2a25"/><stop offset="0.865" stop-color="#cf1c1f"/><stop offset="0.905" stop-color="#bf151b"/><stop offset="0.930" stop-color="#b21218"/><stop offset="0.945" stop-color="#a71015"/><stop offset="0.955" stop-color="#970c13"/><stop offset="0.962" stop-color="#800610"/><stop offset="0.968" stop-color="#67000d"/><stop offset="0.973" stop-color="#67000d"/><stop offset="0.978" stop-color="#67000d"/><stop offset="0.983" stop-color="#67000d"/><stop offset="0.988" stop-color="#67000d"/><stop offset="0.994" stop-color="#67000d"/><stop offset="1.000" stop-color="#67000d"/></linearGradient>
<linearGradient id="g6_10" gradientUnits="userSpaceOnUse" x1="0" x2="0" y1="819.8" y2="1074.2"><stop offset="0.000" stop-color="#fb7d5d"/><stop offset="0.200" stop-color="#fb7454"/><stop offset="0.380" stop-color="#fb6949"/><stop offset="0.530" stop-color="#f75b41"/><stop offset="0.650" stop-color="#f34c37"/><stop offset="0.740" stop-color="#ef3d2d"/><stop offset="0.810" stop-color="#e32f27"/><stop offset="0.865" stop-color="#d42121"/><stop offset="0.905" stop-color="#c5171c"/><stop offset="0.930" stop-color="#b81319"/><stop offset="0.945" stop-color="#ad1117"/><stop offset="0.955" stop-color="#a10e14"/><stop offset="0.962" stop-color="#8a0811"/><stop offset="0.968" stop-color="#67000d"/><stop offset="0.973" stop-color="#67000d"/><stop offset="0.978" stop-color="#67000d"/><stop offset="0.983" stop-color="#67000d"/><stop offset="0.988" stop-color="#67000d"/><stop offset="0.994" stop-color="#67000d"/><stop offset="1.000" stop-color="#67000d"/></linearGradient>
<linearGradient id="g6_11" gradientUnits="userSpaceOnUse" x1="0" x2="0" y1="819.8" y2="1074.2"><stop offset="0.000" stop-color="#fb7353"/><stop offset="0.200" stop-color="#fb6a4a"/><stop offset="0.380" stop-color="#f85e42"/><stop offset="0.530" stop-color="#f4503a"/><stop offset="0.650" stop-color="#f14130"/><stop offset="0.740" stop-color="#e83429"/><stop offset="0.810" stop-color="#da2723"/><stop offset="0.865" stop-color="#cc191d"/><stop offset="0.905" stop-color="#bc141a"/><stop offset="0.930" stop-color="#af1117"/><stop offset="0.945" stop-color="#a40f15"/><stop offset="0.955" stop-color="#920a13"/><stop offset="0.962" stop-color="#7b0510"/><stop offset="0.968" stop-color="#67000d"/><stop offset="0.973" stop-color="#67000d"/><stop offset="0.978" stop-color="#67000d"/><stop offset="0.983" stop-color="#67000d"/><stop offset="0.988" stop-color="#67000d"/><stop offset="0.994" stop-color="#67000d"/><stop offset="1.000" stop-color="#67000d"/></linearGradient>
</defs>
<text x="7.4" y="27.0" font-size="31" fill="#000" stroke="#000" stroke-width="0.35" font-weight="bold" textLength="22.7" lengthAdjust="spacingAndGlyphs">A</text>
<rect x="86.3" y="106.7" width="35.0" height="161.9" fill="#3b4a59"/>
<rect x="99.2" y="39.3" width="9.2" height="124.7" fill="#424242"/>
<rect x="130.0" y="173.4" width="35.0" height="95.2" fill="#41678a"/>
<rect x="142.9" y="140.0" width="9.2" height="59.0" fill="#424242"/>
<rect x="173.7" y="181.0" width="35.0" height="87.6" fill="#437ba6"/>
<rect x="186.6" y="158.5" width="9.2" height="45.5" fill="#424242"/>
<rect x="217.5" y="173.4" width="35.0" height="95.2" fill="#5590bd"/>
<rect x="230.4" y="143.0" width="9.2" height="56.0" fill="#424242"/>
<rect x="261.2" y="185.0" width="35.0" height="83.6" fill="#74a5cb"/>
<rect x="274.1" y="163.0" width="9.2" height="43.0" fill="#424242"/>
<rect x="304.9" y="166.8" width="35.0" height="101.8" fill="#99bdd8"/>
<rect x="317.8" y="144.6" width="9.2" height="41.9" fill="#424242"/>
<line x1="82.2" y1="32.0" x2="82.2" y2="269.2" stroke="#000" stroke-width="1.6"/>
<line x1="75.2" y1="268.6" x2="344.0" y2="268.6" stroke="#000" stroke-width="1.5"/>
<text x="70.0" y="274.2" font-size="17" fill="#000" stroke="#000" stroke-width="0.35" text-anchor="end">0</text>
<line x1="75.6" y1="219.9" x2="82.0" y2="219.9" stroke="#000" stroke-width="1.3"/>
<text x="71.2" y="225.7" font-size="17" fill="#000" stroke="#000" stroke-width="0.35" text-anchor="end" textLength="37.7" lengthAdjust="spacingAndGlyphs">1e-3</text>
<line x1="75.6" y1="171.1" x2="82.0" y2="171.1" stroke="#000" stroke-width="1.3"/>
<text x="71.2" y="176.9" font-size="17" fill="#000" stroke="#000" stroke-width="0.35" text-anchor="end" textLength="37.7" lengthAdjust="spacingAndGlyphs">2e-3</text>
<line x1="75.6" y1="122.4" x2="82.0" y2="122.4" stroke="#000" stroke-width="1.3"/>
<text x="71.2" y="128.2" font-size="17" fill="#000" stroke="#000" stroke-width="0.35" text-anchor="end" textLength="37.7" lengthAdjust="spacingAndGlyphs">3e-3</text>
<line x1="75.6" y1="73.6" x2="82.0" y2="73.6" stroke="#000" stroke-width="1.3"/>
<text x="71.2" y="79.4" font-size="17" fill="#000" stroke="#000" stroke-width="0.35" text-anchor="end" textLength="37.7" lengthAdjust="spacingAndGlyphs">4e-3</text>
<line x1="103.8" y1="268.6" x2="103.8" y2="275.6" stroke="#000" stroke-width="1.3"/>
<text x="103.8" y="293.3" font-size="17" fill="#000" stroke="#000" stroke-width="0.35" text-anchor="middle" textLength="11.6" lengthAdjust="spacingAndGlyphs">0</text>
<line x1="147.5" y1="268.6" x2="147.5" y2="275.6" stroke="#000" stroke-width="1.3"/>
<text x="147.5" y="293.3" font-size="17" fill="#000" stroke="#000" stroke-width="0.35" text-anchor="middle" textLength="11.6" lengthAdjust="spacingAndGlyphs">2</text>
<line x1="191.2" y1="268.6" x2="191.2" y2="275.6" stroke="#000" stroke-width="1.3"/>
<text x="191.2" y="293.3" font-size="17" fill="#000" stroke="#000" stroke-width="0.35" text-anchor="middle" textLength="11.6" lengthAdjust="spacingAndGlyphs">5</text>
<line x1="235.0" y1="268.6" x2="235.0" y2="275.6" stroke="#000" stroke-width="1.3"/>
<text x="235.0" y="293.3" font-size="17" fill="#000" stroke="#000" stroke-width="0.35" text-anchor="middle" textLength="11.6" lengthAdjust="spacingAndGlyphs">7</text>
<line x1="278.7" y1="268.6" x2="278.7" y2="275.6" stroke="#000" stroke-width="1.3"/>
<text x="278.7" y="293.3" font-size="17" fill="#000" stroke="#000" stroke-width="0.35" text-anchor="middle" textLength="21.2" lengthAdjust="spacingAndGlyphs">15</text>
<line x1="322.4" y1="268.6" x2="322.4" y2="275.6" stroke="#000" stroke-width="1.3"/>
<text x="322.4" y="293.3" font-size="17" fill="#000" stroke="#000" stroke-width="0.35" text-anchor="middle" textLength="21.2" lengthAdjust="spacingAndGlyphs">80</text>
<text x="218.0" y="312.0" font-size="17.5" fill="#000" stroke="#000" stroke-width="0.35" text-anchor="middle" textLength="161.2" lengthAdjust="spacingAndGlyphs">timepoint (in days)</text>
<text transform="translate(27.3,169) rotate(-90)" font-size="17.5" stroke="#000" stroke-width="0.35" text-anchor="middle" textLength="132" lengthAdjust="spacingAndGlyphs">boundary score</text>
<text x="354.6" y="26.6" font-size="31" fill="#000" stroke="#000" stroke-width="0.35" font-weight="bold" textLength="22.0" lengthAdjust="spacingAndGlyphs">B</text>
<text x="547.0" y="51.4" font-size="19.5" fill="#000" stroke="#000" stroke-width="0.35" font-weight="bold" textLength="52.2" lengthAdjust="spacingAndGlyphs">Day 0</text>
<text x="888.7" y="51.4" font-size="19.5" fill="#000" stroke="#000" stroke-width="0.35" font-weight="bold" textLength="52.8" lengthAdjust="spacingAndGlyphs">Day 2</text>
<text x="362.0" y="130.3" font-size="18.5" fill="#000" stroke="#000" stroke-width="0.35" textLength="38.2" lengthAdjust="spacingAndGlyphs">Hi-C</text>
<text x="362.0" y="151.0" font-size="18.5" fill="#000" stroke="#000" stroke-width="0.35" textLength="50.6" lengthAdjust="spacingAndGlyphs">count</text>
<text x="362.0" y="263.5" font-size="18.5" fill="#1f78b4" stroke="#1f78b4" stroke-width="0.35" textLength="46.2" lengthAdjust="spacingAndGlyphs">score</text>
<text x="362.0" y="288.3" font-size="18.5" fill="#e8447f" stroke="#e8447f" stroke-width="0.35" textLength="25.5" lengthAdjust="spacingAndGlyphs">sig</text>
<text x="362.0" y="312.3" font-size="18.5" fill="#000" stroke="#000" stroke-width="0.35" textLength="40.2" lengthAdjust="spacingAndGlyphs">Chr2</text>
<g clip-path="url(#cp1)"><g filter="url(#nz)">
<rect x="410.3" y="59.5" width="324.1" height="174.1" fill="url(#g1_0)"/>
<g filter="url(#bl)">
<polygon points="574.2,234.6 653.3,147.5 732.4,234.6" fill="url(#g1_1)"/>
<polygon points="452.7,234.6 513.5,167.0 574.2,234.6" fill="url(#g1_2)"/>
<polygon points="574.2,234.6 633.1,169.0 692.0,234.6" fill="url(#g1_3)"/>
<polygon points="454.8,234.6 505.6,177.6 556.4,234.6" fill="url(#g1_4)"/>
<polygon points="470.0,234.6 513.0,185.9 556.0,234.6" fill="url(#g1_5)"/>
<polygon points="574.2,234.6 600.1,204.1 626.0,234.6" fill="url(#g1_6)"/>
<polygon points="692.0,234.6 712.2,210.1 732.4,234.6" fill="url(#g1_7)"/>
<polygon points="656.0,234.6 674.0,212.5 692.0,234.6" fill="url(#g1_5)"/>
<polygon points="626.0,234.6 641.0,215.7 656.0,234.6" fill="url(#g1_5)"/>
<polygon points="412.3,234.6 419.6,223.8 427.0,234.6" fill="url(#g1_8)"/>
<polygon points="427.0,234.6 434.0,224.2 441.0,234.6" fill="url(#g1_9)"/>
<line x1="452.7" y1="231.6" x2="593.5" y2="81.9" stroke="#e62a18" stroke-width="2.5" opacity="0.2"/>
<line x1="574.2" y1="231.6" x2="492.2" y2="144.5" stroke="#e62a18" stroke-width="2.5" opacity="0.15"/>
<line x1="626.0" y1="231.6" x2="518.1" y2="117.0" stroke="#e62a18" stroke-width="2.5" opacity="0.17"/>
<line x1="656.0" y1="231.6" x2="533.1" y2="101.0" stroke="#e62a18" stroke-width="2.5" opacity="0.17"/>
<line x1="692.0" y1="231.6" x2="551.1" y2="81.9" stroke="#e62a18" stroke-width="2.5" opacity="0.17"/>
<line x1="427.0" y1="231.6" x2="580.7" y2="68.2" stroke="#e62a18" stroke-width="2.5" opacity="0.12"/>
<line x1="433.0" y1="231.6" x2="508.0" y2="151.9" stroke="#ec4f3a" stroke-width="9" opacity="0.28"/>
</g>
</g></g>
<g clip-path="url(#cp2)"><g filter="url(#nz)">
<rect x="750.4" y="59.5" width="323.6" height="174.1" fill="url(#g2_0)"/>
<g filter="url(#bl)">
<polygon points="791.0,234.6 879.0,137.9 967.0,234.6" fill="url(#g2_1)"/>
<polygon points="914.0,234.6 993.0,147.5 1072.0,234.6" fill="url(#g2_1)"/>
<polygon points="791.0,234.6 852.5,166.1 914.0,234.6" fill="url(#g2_2)"/>
<polygon points="914.0,234.6 971.5,170.4 1029.0,234.6" fill="url(#g2_3)"/>
<polygon points="805.0,234.6 852.5,181.0 900.0,234.6" fill="url(#g2_4)"/>
<polygon points="997.6,234.6 1013.3,214.9 1029.0,234.6" fill="url(#g2_5)"/>
<polygon points="1041.0,234.6 1056.5,215.1 1072.0,234.6" fill="url(#g2_6)"/>
<polygon points="967.0,234.6 982.3,215.3 997.6,234.6" fill="url(#g2_5)"/>
<polygon points="752.4,234.6 760.2,223.3 768.0,234.6" fill="url(#g2_5)"/>
<polygon points="768.0,234.6 775.0,224.1 782.0,234.6" fill="url(#g2_7)"/>
<polygon points="1029.0,234.6 1035.0,225.2 1041.0,234.6" fill="url(#g2_8)"/>
<line x1="791.0" y1="231.6" x2="932.5" y2="81.0" stroke="#e62a18" stroke-width="2.5" opacity="0.2"/>
<line x1="967.0" y1="231.6" x2="858.7" y2="116.3" stroke="#e62a18" stroke-width="2.5" opacity="0.17"/>
<line x1="997.6" y1="231.6" x2="874.0" y2="100.0" stroke="#e62a18" stroke-width="2.5" opacity="0.17"/>
<line x1="1029.0" y1="231.6" x2="889.7" y2="83.3" stroke="#e62a18" stroke-width="2.5" opacity="0.17"/>
<line x1="1041.0" y1="231.6" x2="895.7" y2="76.9" stroke="#e62a18" stroke-width="2.5" opacity="0.12"/>
<line x1="768.0" y1="231.6" x2="921.0" y2="68.7" stroke="#e62a18" stroke-width="2.5" opacity="0.12"/>
<line x1="914.0" y1="231.6" x2="832.2" y2="144.5" stroke="#e62a18" stroke-width="2.5" opacity="0.07"/>
<line x1="773.0" y1="231.6" x2="848.0" y2="151.8" stroke="#ec4f3a" stroke-width="9" opacity="0.28"/>
</g>
</g></g>
<rect x="632.0" y="66.4" width="98.0" height="8.2" fill="url(#reds)"/>
<line x1="632.8" y1="75.4" x2="632.8" y2="79.2" stroke="#000" stroke-width="1.1"/>
<text x="634.3" y="96.3" font-size="17" fill="#000" stroke="#000" stroke-width="0.35" text-anchor="middle" textLength="11.7" lengthAdjust="spacingAndGlyphs">0</text>
<line x1="682.0" y1="75.4" x2="682.0" y2="79.2" stroke="#000" stroke-width="1.1"/>
<text x="683.5" y="96.3" font-size="17" fill="#000" stroke="#000" stroke-width="0.35" text-anchor="middle" textLength="11.4" lengthAdjust="spacingAndGlyphs">5</text>
<text x="636.3" y="59.2" font-size="18" fill="#000" stroke="#000" stroke-width="0.35" textLength="90.6" lengthAdjust="spacingAndGlyphs">log(cnt+1)</text>
<rect x="973.0" y="66.4" width="96.0" height="8.2" fill="url(#reds)"/>
<line x1="973.7" y1="75.4" x2="973.7" y2="79.2" stroke="#000" stroke-width="1.1"/>
<text x="975.2" y="96.3" font-size="17" fill="#000" stroke="#000" stroke-width="0.35" text-anchor="middle" textLength="11.7" lengthAdjust="spacingAndGlyphs">0</text>
<line x1="1026.4" y1="75.4" x2="1026.4" y2="79.2" stroke="#000" stroke-width="1.1"/>
<text x="1027.9" y="96.3" font-size="17" fill="#000" stroke="#000" stroke-width="0.35" text-anchor="middle" textLength="11.4" lengthAdjust="spacingAndGlyphs">5</text>
<text x="976.5" y="59.2" font-size="18" fill="#000" stroke="#000" stroke-width="0.35" textLength="90.2" lengthAdjust="spacingAndGlyphs">log(cnt+1)</text>
<line x1="412.3" y1="232.8" x2="412.3" y2="236.6" stroke="#000" stroke-width="1.2"/>
<line x1="493.3" y1="232.8" x2="493.3" y2="236.6" stroke="#000" stroke-width="1.2"/>
<line x1="574.2" y1="232.8" x2="574.2" y2="236.6" stroke="#000" stroke-width="1.2"/>
<line x1="655.2" y1="232.8" x2="655.2" y2="236.6" stroke="#000" stroke-width="1.2"/>
<line x1="412.3" y1="271.0" x2="412.3" y2="274.3" stroke="#000" stroke-width="1.2"/>
<line x1="493.3" y1="271.0" x2="493.3" y2="274.3" stroke="#000" stroke-width="1.2"/>
<line x1="574.2" y1="271.0" x2="574.2" y2="274.3" stroke="#000" stroke-width="1.2"/>
<line x1="655.2" y1="271.0" x2="655.2" y2="274.3" stroke="#000" stroke-width="1.2"/>
<line x1="412.3" y1="289.0" x2="412.3" y2="292.8" stroke="#000" stroke-width="1.2"/>
<line x1="493.3" y1="289.0" x2="493.3" y2="292.8" stroke="#000" stroke-width="1.2"/>
<line x1="574.2" y1="289.0" x2="574.2" y2="292.8" stroke="#000" stroke-width="1.2"/>
<line x1="655.2" y1="289.0" x2="655.2" y2="292.8" stroke="#000" stroke-width="1.2"/>
<line x1="752.4" y1="232.8" x2="752.4" y2="236.6" stroke="#000" stroke-width="1.2"/>
<line x1="833.0" y1="232.8" x2="833.0" y2="236.6" stroke="#000" stroke-width="1.2"/>
<line x1="914.4" y1="232.8" x2="914.4" y2="236.6" stroke="#000" stroke-width="1.2"/>
<line x1="995.0" y1="232.8" x2="995.0" y2="236.6" stroke="#000" stroke-width="1.2"/>
<line x1="752.4" y1="271.0" x2="752.4" y2="274.3" stroke="#000" stroke-width="1.2"/>
<line x1="833.0" y1="271.0" x2="833.0" y2="274.3" stroke="#000" stroke-width="1.2"/>
<line x1="914.4" y1="271.0" x2="914.4" y2="274.3" stroke="#000" stroke-width="1.2"/>
<line x1="995.0" y1="271.0" x2="995.0" y2="274.3" stroke="#000" stroke-width="1.2"/>
<line x1="752.4" y1="289.0" x2="752.4" y2="292.8" stroke="#000" stroke-width="1.2"/>
<line x1="833.0" y1="289.0" x2="833.0" y2="292.8" stroke="#000" stroke-width="1.2"/>
<line x1="914.4" y1="289.0" x2="914.4" y2="292.8" stroke="#000" stroke-width="1.2"/>
<line x1="995.0" y1="289.0" x2="995.0" y2="292.8" stroke="#000" stroke-width="1.2"/>
<path d="M412.3,270.3 L412.3,269.3 L412.8,269.2 L413.3,269.2 L413.8,269.1 L414.3,269.1 L414.8,269.1 L415.3,269.0 L415.8,269.0 L416.3,269.0 L416.8,269.0 L417.3,269.0 L417.8,269.0 L418.3,269.1 L418.8,269.1 L419.3,269.1 L419.8,269.1 L420.3,269.1 L420.8,269.0 L421.3,268.8 L421.8,268.5 L422.3,268.0 L422.8,267.3 L423.3,266.3 L423.8,265.0 L424.3,263.5 L424.8,261.8 L425.3,260.2 L425.8,258.7 L426.3,257.6 L426.8,257.0 L427.3,257.1 L427.8,257.7 L428.3,258.9 L428.8,260.4 L429.3,262.1 L429.8,263.7 L430.3,265.1 L430.8,266.3 L431.3,267.3 L431.8,267.9 L432.3,268.4 L432.8,268.7 L433.3,268.8 L433.8,268.9 L434.3,269.0 L434.8,269.0 L435.3,269.1 L435.8,269.1 L436.3,269.1 L436.8,269.2 L437.3,269.2 L437.8,269.2 L438.3,269.2 L438.8,269.3 L439.3,269.3 L439.8,269.3 L440.3,269.3 L440.8,269.3 L441.3,269.3 L441.8,269.4 L442.3,269.4 L442.8,269.4 L443.3,269.4 L443.8,269.4 L444.3,269.4 L444.8,269.4 L445.3,269.4 L445.8,269.4 L446.3,269.4 L446.8,269.4 L447.3,269.3 L447.8,269.2 L448.3,268.8 L448.8,268.1 L449.3,266.8 L449.8,264.5 L450.3,261.2 L450.8,257.0 L451.3,252.3 L451.8,248.0 L452.3,245.1 L452.8,244.3 L453.3,246.0 L453.8,249.5 L454.3,254.1 L454.8,258.7 L455.3,262.5 L455.8,265.4 L456.3,267.2 L456.8,268.2 L457.3,268.7 L457.8,269.0 L458.3,269.1 L458.8,269.1 L459.3,269.1 L459.8,269.1 L460.3,269.1 L460.8,269.1 L461.3,269.1 L461.8,269.1 L462.3,269.1 L462.8,269.1 L463.3,269.1 L463.8,269.1 L464.3,269.1 L464.8,269.2 L465.3,269.2 L465.8,269.2 L466.3,269.2 L466.8,269.2 L467.3,269.2 L467.8,269.3 L468.3,269.3 L468.8,269.3 L469.3,269.3 L469.8,269.3 L470.3,269.3 L470.8,269.3 L471.3,269.3 L471.8,269.3 L472.3,269.4 L472.8,269.4 L473.3,269.4 L473.8,269.3 L474.3,269.3 L474.8,269.3 L475.3,269.3 L475.8,269.3 L476.3,269.3 L476.8,269.2 L477.3,269.2 L477.8,269.2 L478.3,269.1 L478.8,269.1 L479.3,269.0 L479.8,269.0 L480.3,268.9 L480.8,268.9 L481.3,268.9 L481.8,268.8 L482.3,268.8 L482.8,268.7 L483.3,268.7 L483.8,268.6 L484.3,268.6 L484.8,268.6 L485.3,268.6 L485.8,268.5 L486.3,268.5 L486.8,268.5 L487.3,268.5 L487.8,268.5 L488.3,268.6 L488.8,268.6 L489.3,268.6 L489.8,268.7 L490.3,268.7 L490.8,268.8 L491.3,268.8 L491.8,268.9 L492.3,269.0 L492.8,269.0 L493.3,269.1 L493.8,269.1 L494.3,269.2 L494.8,269.2 L495.3,269.2 L495.8,269.2 L496.3,269.3 L496.8,269.3 L497.3,269.3 L497.8,269.3 L498.3,269.3 L498.8,269.3 L499.3,269.2 L499.8,269.2 L500.3,269.2 L500.8,269.2 L501.3,269.2 L501.8,269.1 L502.3,269.1 L502.8,269.1 L503.3,269.1 L503.8,269.0 L504.3,269.0 L504.8,269.0 L505.3,269.0 L505.8,269.0 L506.3,269.0 L506.8,268.9 L507.3,268.9 L507.8,268.9 L508.3,268.9 L508.8,268.9 L509.3,269.0 L509.8,269.0 L510.3,269.0 L510.8,269.0 L511.3,269.0 L511.8,269.1 L512.3,269.1 L512.8,269.1 L513.3,269.1 L513.8,269.1 L514.3,269.2 L514.8,269.2 L515.3,269.2 L515.8,269.2 L516.3,269.3 L516.8,269.3 L517.3,269.3 L517.8,269.3 L518.3,269.3 L518.8,269.3 L519.3,269.3 L519.8,269.4 L520.3,269.4 L520.8,269.4 L521.3,269.4 L521.8,269.4 L522.3,269.4 L522.8,269.4 L523.3,269.4 L523.8,269.4 L524.3,269.4 L524.8,269.4 L525.3,269.4 L525.8,269.4 L526.3,269.4 L526.8,269.4 L527.3,269.4 L527.8,269.4 L528.3,269.4 L528.8,269.4 L529.3,269.4 L529.8,269.3 L530.3,269.3 L530.8,269.3 L531.3,269.3 L531.8,269.3 L532.3,269.3 L532.8,269.3 L533.3,269.2 L533.8,269.2 L534.3,269.2 L534.8,269.2 L535.3,269.2 L535.8,269.2 L536.3,269.2 L536.8,269.2 L537.3,269.2 L537.8,269.2 L538.3,269.2 L538.8,269.2 L539.3,269.2 L539.8,269.2 L540.3,269.2 L540.8,269.3 L541.3,269.3 L541.8,269.3 L542.3,269.3 L542.8,269.3 L543.3,269.3 L543.8,269.3 L544.3,269.4 L544.8,269.4 L545.3,269.4 L545.8,269.4 L546.3,269.4 L546.8,269.4 L547.3,269.4 L547.8,269.4 L548.3,269.4 L548.8,269.4 L549.3,269.4 L549.8,269.4 L550.3,269.4 L550.8,269.4 L551.3,269.4 L551.8,269.4 L552.3,269.4 L552.8,269.4 L553.3,269.4 L553.8,269.4 L554.3,269.3 L554.8,269.3 L555.3,269.3 L555.8,269.3 L556.3,269.3 L556.8,269.3 L557.3,269.3 L557.8,269.2 L558.3,269.2 L558.8,269.2 L559.3,269.2 L559.8,269.2 L560.3,269.2 L560.8,269.1 L561.3,269.1 L561.8,269.1 L562.3,269.1 L562.8,269.1 L563.3,269.1 L563.8,269.1 L564.3,269.1 L564.8,269.1 L565.3,269.1 L565.8,269.1 L566.3,269.1 L566.8,269.1 L567.3,269.1 L567.8,269.1 L568.3,269.1 L568.8,269.1 L569.3,269.1 L569.8,269.0 L570.3,268.9 L570.8,268.6 L571.3,267.9 L571.8,267.0 L572.3,265.6 L572.8,264.0 L573.3,262.5 L573.8,261.5 L574.3,261.2 L574.8,261.8 L575.3,263.1 L575.8,264.6 L576.3,266.1 L576.8,267.4 L577.3,268.2 L577.8,268.7 L578.3,268.9 L578.8,269.0 L579.3,269.0 L579.8,269.0 L580.3,269.0 L580.8,269.0 L581.3,269.0 L581.8,269.0 L582.3,269.1 L582.8,269.1 L583.3,269.1 L583.8,269.1 L584.3,269.1 L584.8,269.1 L585.3,269.2 L585.8,269.2 L586.3,269.2 L586.8,269.2 L587.3,269.2 L587.8,269.3 L588.3,269.3 L588.8,269.3 L589.3,269.3 L589.8,269.3 L590.3,269.3 L590.8,269.3 L591.3,269.3 L591.8,269.3 L592.3,269.3 L592.8,269.3 L593.3,269.2 L593.8,269.2 L594.3,269.2 L594.8,269.1 L595.3,269.1 L595.8,269.0 L596.3,269.0 L596.8,268.9 L597.3,268.9 L597.8,268.9 L598.3,268.9 L598.8,268.9 L599.3,268.9 L599.8,268.9 L600.3,268.9 L600.8,268.9 L601.3,268.9 L601.8,268.9 L602.3,269.0 L602.8,269.0 L603.3,269.0 L603.8,268.9 L604.3,268.9 L604.8,268.9 L605.3,268.9 L605.8,268.9 L606.3,268.9 L606.8,268.9 L607.3,268.9 L607.8,268.9 L608.3,268.9 L608.8,269.0 L609.3,269.0 L609.8,269.1 L610.3,269.1 L610.8,269.1 L611.3,269.2 L611.8,269.2 L612.3,269.2 L612.8,269.2 L613.3,269.2 L613.8,269.2 L614.3,269.2 L614.8,269.2 L615.3,269.2 L615.8,269.2 L616.3,269.2 L616.8,269.2 L617.3,269.2 L617.8,269.2 L618.3,269.2 L618.8,269.3 L619.3,269.3 L619.8,269.3 L620.3,269.3 L620.8,269.3 L621.3,269.3 L621.8,269.2 L622.3,269.2 L622.8,269.0 L623.3,268.8 L623.8,268.4 L624.3,268.0 L624.8,267.5 L625.3,267.0 L625.8,266.8 L626.3,266.8 L626.8,267.1 L627.3,267.5 L627.8,268.0 L628.3,268.5 L628.8,268.8 L629.3,269.0 L629.8,269.1 L630.3,269.2 L630.8,269.2 L631.3,269.2 L631.8,269.2 L632.3,269.2 L632.8,269.2 L633.3,269.2 L633.8,269.2 L634.3,269.2 L634.8,269.2 L635.3,269.2 L635.8,269.1 L636.3,269.1 L636.8,269.1 L637.3,269.0 L637.8,269.0 L638.3,268.9 L638.8,268.9 L639.3,268.8 L639.8,268.8 L640.3,268.7 L640.8,268.7 L641.3,268.7 L641.8,268.6 L642.3,268.6 L642.8,268.6 L643.3,268.6 L643.8,268.6 L644.3,268.6 L644.8,268.7 L645.3,268.7 L645.8,268.8 L646.3,268.8 L646.8,268.9 L647.3,268.9 L647.8,269.0 L648.3,269.0 L648.8,269.1 L649.3,269.1 L649.8,269.1 L650.3,269.1 L650.8,269.0 L651.3,268.9 L651.8,268.7 L652.3,268.4 L652.8,267.9 L653.3,267.3 L653.8,266.6 L654.3,265.9 L654.8,265.2 L655.3,264.7 L655.8,264.4 L656.3,264.4 L656.8,264.8 L657.3,265.3 L657.8,266.0 L658.3,266.8 L658.8,267.5 L659.3,268.1 L659.8,268.5 L660.3,268.9 L660.8,269.1 L661.3,269.2 L661.8,269.2 L662.3,269.3 L662.8,269.3 L663.3,269.3 L663.8,269.3 L664.3,269.3 L664.8,269.2 L665.3,269.2 L665.8,269.2 L666.3,269.2 L666.8,269.1 L667.3,269.1 L667.8,269.0 L668.3,269.0 L668.8,269.0 L669.3,268.9 L669.8,268.9 L670.3,268.9 L670.8,268.9 L671.3,268.9 L671.8,268.9 L672.3,268.9 L672.8,269.0 L673.3,269.0 L673.8,269.0 L674.3,269.0 L674.8,269.1 L675.3,269.1 L675.8,269.1 L676.3,269.1 L676.8,269.1 L677.3,269.1 L677.8,269.1 L678.3,269.1 L678.8,269.1 L679.3,269.1 L679.8,269.1 L680.3,269.1 L680.8,269.1 L681.3,269.1 L681.8,269.1 L682.3,269.1 L682.8,269.1 L683.3,269.0 L683.8,269.0 L684.3,269.0 L684.8,268.9 L685.3,268.9 L685.8,268.8 L686.3,268.7 L686.8,268.5 L687.3,268.4 L687.8,268.2 L688.3,268.0 L688.8,267.8 L689.3,267.5 L689.8,267.3 L690.3,267.1 L690.8,266.9 L691.3,266.8 L691.8,266.7 L692.3,266.8 L692.8,266.9 L693.3,267.1 L693.8,267.3 L694.3,267.6 L694.8,267.9 L695.3,268.2 L695.8,268.5 L696.3,268.7 L696.8,268.9 L697.3,269.0 L697.8,269.1 L698.3,269.2 L698.8,269.2 L699.3,269.3 L699.8,269.3 L700.3,269.3 L700.8,269.3 L701.3,269.3 L701.8,269.3 L702.3,269.3 L702.8,269.3 L703.3,269.3 L703.8,269.2 L704.3,269.2 L704.8,269.2 L705.3,269.2 L705.8,269.2 L706.3,269.2 L706.8,269.1 L707.3,269.1 L707.8,269.1 L708.3,269.1 L708.8,269.1 L709.3,269.0 L709.8,269.0 L710.3,269.0 L710.8,269.0 L711.3,269.0 L711.8,269.0 L712.3,269.0 L712.8,269.0 L713.3,269.0 L713.8,269.0 L714.3,269.0 L714.8,269.0 L715.3,269.0 L715.8,269.0 L716.3,269.0 L716.8,269.0 L717.3,268.9 L717.8,268.9 L718.3,268.9 L718.8,268.9 L719.3,268.9 L719.8,268.9 L720.3,268.8 L720.8,268.8 L721.3,268.8 L721.8,268.8 L722.3,268.8 L722.8,268.7 L723.3,268.7 L723.8,268.7 L724.3,268.7 L724.8,268.7 L725.3,268.8 L725.8,268.8 L726.3,268.8 L726.8,268.8 L727.3,268.8 L727.8,268.9 L728.3,268.9 L728.8,268.9 L729.3,269.0 L729.8,269.0 L730.3,269.0 L730.8,269.0 L731.3,269.1 L731.8,269.1 L732.3,269.1 L732.8,269.1 L733.3,269.2 L733.8,269.2 L734.3,269.2 L734.8,269.2 L735.0,270.3 Z" fill="#1f78b4"/>
<path d="M752.4,270.3 L752.4,269.4 L752.9,269.4 L753.4,269.4 L753.9,269.4 L754.4,269.4 L754.9,269.4 L755.4,269.4 L755.9,269.4 L756.4,269.4 L756.9,269.4 L757.4,269.4 L757.9,269.4 L758.4,269.4 L758.9,269.4 L759.4,269.4 L759.9,269.4 L760.4,269.4 L760.9,269.3 L761.4,269.3 L761.9,269.2 L762.4,269.1 L762.9,268.9 L763.4,268.5 L763.9,267.8 L764.4,266.7 L764.9,265.0 L765.4,262.7 L765.9,259.9 L766.4,256.9 L766.9,254.1 L767.4,251.9 L767.9,251.0 L768.4,251.4 L768.9,253.1 L769.4,255.7 L769.9,258.7 L770.4,261.6 L770.9,264.2 L771.4,266.1 L771.9,267.4 L772.4,268.2 L772.9,268.7 L773.4,269.0 L773.9,269.1 L774.4,269.2 L774.9,269.2 L775.4,269.2 L775.9,269.3 L776.4,269.3 L776.9,269.3 L777.4,269.3 L777.9,269.3 L778.4,269.3 L778.9,269.3 L779.4,269.3 L779.9,269.3 L780.4,269.4 L780.9,269.4 L781.4,269.4 L781.9,269.4 L782.4,269.4 L782.9,269.4 L783.4,269.4 L783.9,269.4 L784.4,269.4 L784.9,269.4 L785.4,269.4 L785.9,269.3 L786.4,269.2 L786.9,268.8 L787.4,268.0 L787.9,266.5 L788.4,263.9 L788.9,260.2 L789.4,255.5 L789.9,250.7 L790.4,246.8 L790.9,245.0 L791.4,245.8 L791.9,248.9 L792.4,253.5 L792.9,258.4 L793.4,262.6 L793.9,265.6 L794.4,267.5 L794.9,268.6 L795.4,269.0 L795.9,269.3 L796.4,269.3 L796.9,269.3 L797.4,269.3 L797.9,269.3 L798.4,269.3 L798.9,269.3 L799.4,269.3 L799.9,269.3 L800.4,269.3 L800.9,269.3 L801.4,269.3 L801.9,269.3 L802.4,269.3 L802.9,269.3 L803.4,269.2 L803.9,269.2 L804.4,269.2 L804.9,269.2 L805.4,269.2 L805.9,269.2 L806.4,269.1 L806.9,269.1 L807.4,269.1 L807.9,269.0 L808.4,269.0 L808.9,269.0 L809.4,269.0 L809.9,269.0 L810.4,269.1 L810.9,269.1 L811.4,269.1 L811.9,269.2 L812.4,269.2 L812.9,269.2 L813.4,269.2 L813.9,269.2 L814.4,269.2 L814.9,269.2 L815.4,269.1 L815.9,269.1 L816.4,269.1 L816.9,269.1 L817.4,269.0 L817.9,269.0 L818.4,269.0 L818.9,269.0 L819.4,269.0 L819.9,269.0 L820.4,269.0 L820.9,269.0 L821.4,269.0 L821.9,269.0 L822.4,269.0 L822.9,269.0 L823.4,269.0 L823.9,269.0 L824.4,269.0 L824.9,269.0 L825.4,269.1 L825.9,269.1 L826.4,269.1 L826.9,269.1 L827.4,269.1 L827.9,269.2 L828.4,269.2 L828.9,269.2 L829.4,269.2 L829.9,269.2 L830.4,269.3 L830.9,269.3 L831.4,269.3 L831.9,269.3 L832.4,269.3 L832.9,269.3 L833.4,269.3 L833.9,269.3 L834.4,269.3 L834.9,269.3 L835.4,269.3 L835.9,269.3 L836.4,269.3 L836.9,269.3 L837.4,269.3 L837.9,269.2 L838.4,269.2 L838.9,269.2 L839.4,269.2 L839.9,269.1 L840.4,269.1 L840.9,269.1 L841.4,269.1 L841.9,269.0 L842.4,269.0 L842.9,269.0 L843.4,269.0 L843.9,269.0 L844.4,269.0 L844.9,268.9 L845.4,268.9 L845.9,268.9 L846.4,268.9 L846.9,268.9 L847.4,268.9 L847.9,268.8 L848.4,268.8 L848.9,268.8 L849.4,268.7 L849.9,268.7 L850.4,268.8 L850.9,268.8 L851.4,268.8 L851.9,268.9 L852.4,269.0 L852.9,269.1 L853.4,269.1 L853.9,269.2 L854.4,269.2 L854.9,269.3 L855.4,269.3 L855.9,269.3 L856.4,269.3 L856.9,269.4 L857.4,269.4 L857.9,269.4 L858.4,269.4 L858.9,269.4 L859.4,269.4 L859.9,269.3 L860.4,269.3 L860.9,269.3 L861.4,269.3 L861.9,269.3 L862.4,269.2 L862.9,269.2 L863.4,269.2 L863.9,269.1 L864.4,269.1 L864.9,269.1 L865.4,269.1 L865.9,269.1 L866.4,269.0 L866.9,269.0 L867.4,269.1 L867.9,269.1 L868.4,269.1 L868.9,269.1 L869.4,269.1 L869.9,269.2 L870.4,269.2 L870.9,269.2 L871.4,269.3 L871.9,269.3 L872.4,269.3 L872.9,269.3 L873.4,269.4 L873.9,269.4 L874.4,269.4 L874.9,269.4 L875.4,269.4 L875.9,269.4 L876.4,269.4 L876.9,269.4 L877.4,269.4 L877.9,269.4 L878.4,269.4 L878.9,269.4 L879.4,269.4 L879.9,269.4 L880.4,269.4 L880.9,269.4 L881.4,269.4 L881.9,269.4 L882.4,269.4 L882.9,269.4 L883.4,269.4 L883.9,269.4 L884.4,269.4 L884.9,269.4 L885.4,269.4 L885.9,269.4 L886.4,269.4 L886.9,269.4 L887.4,269.4 L887.9,269.4 L888.4,269.4 L888.9,269.4 L889.4,269.4 L889.9,269.4 L890.4,269.4 L890.9,269.4 L891.4,269.4 L891.9,269.4 L892.4,269.4 L892.9,269.4 L893.4,269.4 L893.9,269.4 L894.4,269.4 L894.9,269.4 L895.4,269.4 L895.9,269.4 L896.4,269.4 L896.9,269.3 L897.4,269.3 L897.9,269.3 L898.4,269.3 L898.9,269.3 L899.4,269.3 L899.9,269.3 L900.4,269.3 L900.9,269.3 L901.4,269.3 L901.9,269.3 L902.4,269.3 L902.9,269.3 L903.4,269.3 L903.9,269.3 L904.4,269.3 L904.9,269.3 L905.4,269.3 L905.9,269.3 L906.4,269.3 L906.9,269.3 L907.4,269.3 L907.9,269.3 L908.4,269.3 L908.9,269.3 L909.4,269.3 L909.9,269.3 L910.4,269.3 L910.9,269.3 L911.4,269.3 L911.9,269.3 L912.4,269.4 L912.9,269.4 L913.4,269.4 L913.9,269.4 L914.4,269.4 L914.9,269.4 L915.4,269.4 L915.9,269.4 L916.4,269.4 L916.9,269.4 L917.4,269.4 L917.9,269.3 L918.4,269.3 L918.9,269.3 L919.4,269.3 L919.9,269.3 L920.4,269.3 L920.9,269.2 L921.4,269.2 L921.9,269.2 L922.4,269.2 L922.9,269.2 L923.4,269.1 L923.9,269.1 L924.4,269.1 L924.9,269.1 L925.4,269.1 L925.9,269.2 L926.4,269.2 L926.9,269.2 L927.4,269.2 L927.9,269.1 L928.4,269.1 L928.9,269.1 L929.4,269.1 L929.9,269.0 L930.4,269.0 L930.9,269.0 L931.4,269.0 L931.9,269.0 L932.4,269.0 L932.9,269.0 L933.4,269.1 L933.9,269.1 L934.4,269.2 L934.9,269.2 L935.4,269.3 L935.9,269.3 L936.4,269.3 L936.9,269.4 L937.4,269.4 L937.9,269.4 L938.4,269.4 L938.9,269.4 L939.4,269.4 L939.9,269.3 L940.4,269.3 L940.9,269.3 L941.4,269.3 L941.9,269.2 L942.4,269.2 L942.9,269.1 L943.4,269.1 L943.9,269.1 L944.4,269.0 L944.9,269.0 L945.4,269.0 L945.9,269.0 L946.4,269.0 L946.9,269.0 L947.4,268.9 L947.9,268.9 L948.4,268.9 L948.9,268.9 L949.4,268.9 L949.9,268.9 L950.4,268.9 L950.9,268.9 L951.4,268.9 L951.9,268.9 L952.4,268.9 L952.9,268.9 L953.4,268.9 L953.9,269.0 L954.4,269.0 L954.9,269.0 L955.4,269.0 L955.9,269.0 L956.4,269.1 L956.9,269.1 L957.4,269.1 L957.9,269.1 L958.4,269.1 L958.9,269.2 L959.4,269.2 L959.9,269.2 L960.4,269.2 L960.9,269.2 L961.4,269.2 L961.9,269.2 L962.4,269.2 L962.9,269.2 L963.4,269.1 L963.9,268.9 L964.4,268.5 L964.9,268.0 L965.4,267.4 L965.9,266.8 L966.4,266.3 L966.9,266.0 L967.4,266.1 L967.9,266.5 L968.4,267.0 L968.9,267.6 L969.4,268.1 L969.9,268.5 L970.4,268.7 L970.9,268.9 L971.4,268.9 L971.9,269.0 L972.4,269.0 L972.9,269.0 L973.4,269.0 L973.9,269.0 L974.4,269.0 L974.9,269.0 L975.4,269.0 L975.9,269.0 L976.4,269.0 L976.9,269.0 L977.4,269.0 L977.9,269.0 L978.4,269.0 L978.9,269.0 L979.4,269.0 L979.9,269.1 L980.4,269.1 L980.9,269.1 L981.4,269.1 L981.9,269.1 L982.4,269.2 L982.9,269.2 L983.4,269.2 L983.9,269.2 L984.4,269.2 L984.9,269.2 L985.4,269.1 L985.9,269.1 L986.4,269.0 L986.9,269.0 L987.4,268.9 L987.9,268.9 L988.4,268.9 L988.9,268.9 L989.4,269.0 L989.9,269.0 L990.4,269.1 L990.9,269.2 L991.4,269.2 L991.9,269.3 L992.4,269.3 L992.9,269.3 L993.4,269.2 L993.9,269.0 L994.4,268.6 L994.9,267.9 L995.4,266.8 L995.9,265.5 L996.4,264.0 L996.9,262.7 L997.4,262.0 L997.9,262.0 L998.4,262.9 L998.9,264.2 L999.4,265.7 L999.9,267.1 L1000.4,268.1 L1000.9,268.7 L1001.4,269.1 L1001.9,269.3 L1002.4,269.3 L1002.9,269.4 L1003.4,269.4 L1003.9,269.4 L1004.4,269.4 L1004.9,269.3 L1005.4,269.3 L1005.9,269.3 L1006.4,269.3 L1006.9,269.3 L1007.4,269.3 L1007.9,269.3 L1008.4,269.2 L1008.9,269.2 L1009.4,269.2 L1009.9,269.2 L1010.4,269.2 L1010.9,269.3 L1011.4,269.3 L1011.9,269.3 L1012.4,269.3 L1012.9,269.3 L1013.4,269.3 L1013.9,269.3 L1014.4,269.3 L1014.9,269.4 L1015.4,269.4 L1015.9,269.4 L1016.4,269.4 L1016.9,269.4 L1017.4,269.4 L1017.9,269.3 L1018.4,269.3 L1018.9,269.3 L1019.4,269.3 L1019.9,269.3 L1020.4,269.3 L1020.9,269.2 L1021.4,269.2 L1021.9,269.2 L1022.4,269.1 L1022.9,269.1 L1023.4,269.0 L1023.9,268.9 L1024.4,268.6 L1024.9,268.3 L1025.4,267.9 L1025.9,267.5 L1026.4,267.2 L1026.9,267.0 L1027.4,267.0 L1027.9,267.2 L1028.4,267.5 L1028.9,267.8 L1029.4,267.9 L1029.9,267.9 L1030.4,267.7 L1030.9,267.4 L1031.4,267.1 L1031.9,267.0 L1032.4,267.1 L1032.9,267.3 L1033.4,267.7 L1033.9,268.2 L1034.4,268.5 L1034.9,268.8 L1035.4,268.9 L1035.9,269.0 L1036.4,269.0 L1036.9,269.0 L1037.4,269.0 L1037.9,268.9 L1038.4,268.7 L1038.9,268.3 L1039.4,267.8 L1039.9,267.2 L1040.4,266.6 L1040.9,266.4 L1041.4,266.4 L1041.9,266.8 L1042.4,267.3 L1042.9,267.8 L1043.4,268.2 L1043.9,268.4 L1044.4,268.5 L1044.9,268.5 L1045.4,268.5 L1045.9,268.5 L1046.4,268.4 L1046.9,268.4 L1047.4,268.4 L1047.9,268.4 L1048.4,268.4 L1048.9,268.5 L1049.4,268.5 L1049.9,268.5 L1050.4,268.5 L1050.9,268.6 L1051.4,268.6 L1051.9,268.7 L1052.4,268.7 L1052.9,268.8 L1053.4,268.8 L1053.9,268.9 L1054.4,268.9 L1054.9,269.0 L1055.4,269.0 L1055.9,269.1 L1056.4,269.1 L1056.9,269.1 L1057.4,269.2 L1057.9,269.2 L1058.4,269.2 L1058.9,269.3 L1059.4,269.3 L1059.9,269.3 L1060.4,269.3 L1060.9,269.3 L1061.4,269.3 L1061.9,269.4 L1062.4,269.4 L1062.9,269.4 L1063.4,269.4 L1063.9,269.4 L1064.4,269.4 L1064.9,269.4 L1065.4,269.4 L1065.9,269.4 L1066.4,269.4 L1066.9,269.4 L1067.4,269.3 L1067.9,269.3 L1068.4,269.3 L1068.9,269.3 L1069.4,269.3 L1069.9,269.3 L1070.4,269.3 L1070.9,269.3 L1071.4,269.2 L1071.9,269.2 L1072.4,269.2 L1072.9,269.2 L1073.4,269.2 L1073.5,270.3 Z" fill="#1f78b4"/>
<line x1="574.3" y1="62.9" x2="574.3" y2="231.6" stroke="#9a9a9a" stroke-width="3" stroke-dasharray="12.8 6.2" stroke-dashoffset="0" opacity="0.75"/>
<rect x="572.4" y="232.6" width="3.8" height="12.4" fill="#8c8c8c" opacity="0.5"/>
<rect x="572.4" y="251.4" width="3.8" height="17.1" fill="#8c8c8c" opacity="0.5"/>
<rect x="572.4" y="270.5" width="3.8" height="21.5" fill="#8c8c8c" opacity="0.5"/>
<line x1="914.4" y1="62.9" x2="914.4" y2="231.6" stroke="#9a9a9a" stroke-width="3" stroke-dasharray="12.8 6.2" stroke-dashoffset="0" opacity="0.75"/>
<rect x="912.5" y="232.6" width="3.8" height="13.8" fill="#8c8c8c" opacity="0.5"/>
<rect x="912.5" y="252.7" width="3.8" height="15.8" fill="#8c8c8c" opacity="0.5"/>
<rect x="912.5" y="270.5" width="3.8" height="12.2" fill="#8c8c8c" opacity="0.5"/>
<rect x="578.0" y="244.0" width="112.0" height="17.0" fill="#fff"/>
<text x="581.3" y="257.7" font-size="18.5" fill="#8c8c8c" stroke="#8c8c8c" stroke-width="0.35" font-weight="bold" textLength="108.2" lengthAdjust="spacingAndGlyphs">HERV-H site</text>
<polygon points="428.2,281.7 429.3,283.8 431.6,284.2 430.0,285.9 430.3,288.2 428.2,287.2 426.1,288.2 426.4,285.9 424.8,284.2 427.1,283.8" fill="#e8447f"/>
<polygon points="452.0,281.7 453.1,283.8 455.4,284.2 453.8,285.9 454.1,288.2 452.0,287.2 449.9,288.2 450.2,285.9 448.6,284.2 450.9,283.8" fill="#e8447f"/>
<polygon points="574.2,281.7 575.3,283.8 577.6,284.2 576.0,285.9 576.3,288.2 574.2,287.2 572.1,288.2 572.4,285.9 570.8,284.2 573.1,283.8" fill="#e8447f"/>
<polygon points="625.7,281.7 626.8,283.8 629.1,284.2 627.5,285.9 627.8,288.2 625.7,287.2 623.6,288.2 623.9,285.9 622.3,284.2 624.6,283.8" fill="#e8447f"/>
<polygon points="656.0,281.7 657.1,283.8 659.4,284.2 657.8,285.9 658.1,288.2 656.0,287.2 653.9,288.2 654.2,285.9 652.6,284.2 654.9,283.8" fill="#e8447f"/>
<polygon points="692.0,281.7 693.1,283.8 695.4,284.2 693.8,285.9 694.1,288.2 692.0,287.2 689.9,288.2 690.2,285.9 688.6,284.2 690.9,283.8" fill="#e8447f"/>
<polygon points="767.5,281.7 768.6,283.8 770.9,284.2 769.3,285.9 769.6,288.2 767.5,287.2 765.4,288.2 765.7,285.9 764.1,284.2 766.4,283.8" fill="#e8447f"/>
<polygon points="790.5,281.7 791.6,283.8 793.9,284.2 792.3,285.9 792.6,288.2 790.5,287.2 788.4,288.2 788.7,285.9 787.1,284.2 789.4,283.8" fill="#e8447f"/>
<polygon points="965.3,281.7 966.4,283.8 968.7,284.2 967.1,285.9 967.4,288.2 965.3,287.2 963.2,288.2 963.5,285.9 961.9,284.2 964.2,283.8" fill="#e8447f"/>
<polygon points="995.8,281.7 996.9,283.8 999.2,284.2 997.6,285.9 997.9,288.2 995.8,287.2 993.7,288.2 994.0,285.9 992.4,284.2 994.7,283.8" fill="#e8447f"/>
<polygon points="1026.4,281.7 1027.5,283.8 1029.8,284.2 1028.2,285.9 1028.5,288.2 1026.4,287.2 1024.3,288.2 1024.6,285.9 1023.0,284.2 1025.3,283.8" fill="#e8447f"/>
<polygon points="1032.2,281.7 1033.3,283.8 1035.6,284.2 1034.0,285.9 1034.3,288.2 1032.2,287.2 1030.1,288.2 1030.4,285.9 1028.8,284.2 1031.1,283.8" fill="#e8447f"/>
<polygon points="1041.0,281.7 1042.1,283.8 1044.4,284.2 1042.8,285.9 1043.1,288.2 1041.0,287.2 1038.9,288.2 1039.2,285.9 1037.6,284.2 1039.9,283.8" fill="#e8447f"/>
<text x="410.0" y="312.3" font-size="18.5" fill="#000" stroke="#000" stroke-width="0.35" textLength="74.7" lengthAdjust="spacingAndGlyphs">66550kb</text>
<text x="490.0" y="312.3" font-size="18.5" fill="#000" stroke="#000" stroke-width="0.35" textLength="74.7" lengthAdjust="spacingAndGlyphs">67050kb</text>
<text x="571.5" y="312.3" font-size="18.5" fill="#000" stroke="#000" stroke-width="0.35" textLength="74.7" lengthAdjust="spacingAndGlyphs">67550kb</text>
<text x="651.7" y="312.3" font-size="18.5" fill="#000" stroke="#000" stroke-width="0.35" textLength="74.7" lengthAdjust="spacingAndGlyphs">68050kb</text>
<text x="749.0" y="312.3" font-size="18.5" fill="#000" stroke="#000" stroke-width="0.35" textLength="74.7" lengthAdjust="spacingAndGlyphs">66550kb</text>
<text x="829.0" y="312.3" font-size="18.5" fill="#000" stroke="#000" stroke-width="0.35" textLength="74.7" lengthAdjust="spacingAndGlyphs">67050kb</text>
<text x="911.7" y="312.3" font-size="18.5" fill="#000" stroke="#000" stroke-width="0.35" textLength="74.7" lengthAdjust="spacingAndGlyphs">67550kb</text>
<text x="991.0" y="312.3" font-size="18.5" fill="#000" stroke="#000" stroke-width="0.35" textLength="74.7" lengthAdjust="spacingAndGlyphs">68050kb</text>
<text x="7.4" y="363.6" font-size="31" fill="#000" stroke="#000" stroke-width="0.35" font-weight="bold" textLength="22.7" lengthAdjust="spacingAndGlyphs">C</text>
<text x="115.5" y="361.8" font-size="18.8" fill="#000" stroke="#000" stroke-width="0.35" textLength="108.2" lengthAdjust="spacingAndGlyphs">Day 0 (hESC)</text>
<text x="608.0" y="361.8" font-size="18.8" fill="#000" stroke="#000" stroke-width="0.35" textLength="156.7" lengthAdjust="spacingAndGlyphs">Day 2 (mesoderm)</text>
<text x="9.5" y="463.6" font-size="18" fill="#7d1a22" stroke="#7d1a22" stroke-width="0.35" textLength="38.2" lengthAdjust="spacingAndGlyphs">Hi-C</text>
<text x="9.5" y="483.4" font-size="18" fill="#7d1a22" stroke="#7d1a22" stroke-width="0.35" textLength="50.6" lengthAdjust="spacingAndGlyphs">count</text>
<text x="9.5" y="638.4" font-size="18" fill="#1f78b4" stroke="#1f78b4" stroke-width="0.35" textLength="46.2" lengthAdjust="spacingAndGlyphs">score</text>
<text x="9.5" y="674.7" font-size="18" fill="#e8447f" stroke="#e8447f" stroke-width="0.35" textLength="84.9" lengthAdjust="spacingAndGlyphs">boundary</text>
<text x="9.5" y="704.5" font-size="18" fill="#000" stroke="#000" stroke-width="0.35" textLength="52.6" lengthAdjust="spacingAndGlyphs">genes</text>
<text x="9.5" y="742.8" font-size="18" fill="#3c0f7a" stroke="#3c0f7a" stroke-width="0.35" textLength="73.9" lengthAdjust="spacingAndGlyphs">RNA-seq</text>
<text x="9.5" y="779.0" font-size="18" fill="#000" stroke="#000" stroke-width="0.35" textLength="96.9" lengthAdjust="spacingAndGlyphs">Chr3(hg19)</text>
<g clip-path="url(#cp3)"><g filter="url(#nz)">
<rect x="113.5" y="336.8" width="471.1" height="259.0" fill="url(#g3_0)"/>
<g filter="url(#bl)">
<polygon points="184.0,596.8 359.5,402.2 535.0,596.8" fill="url(#g3_1)"/>
<polygon points="304.0,596.8 419.5,467.7 535.0,596.8" fill="url(#g3_2)"/>
<polygon points="398.0,596.8 466.5,519.0 535.0,596.8" fill="url(#g3_3)"/>
<polygon points="184.0,596.8 236.5,536.5 289.0,596.8" fill="url(#g3_4)"/>
<polygon points="440.0,596.8 487.5,541.9 535.0,596.8" fill="url(#g3_5)"/>
<polygon points="308.0,596.8 353.0,544.7 398.0,596.8" fill="url(#g3_6)"/>
<polygon points="235.0,596.8 260.5,566.0 286.0,596.8" fill="url(#g3_7)"/>
<polygon points="115.5,596.8 140.8,566.2 166.0,596.8" fill="url(#g3_8)"/>
<polygon points="184.0,596.8 207.5,568.1 231.0,596.8" fill="url(#g3_5)"/>
<polygon points="351.0,596.8 374.5,568.1 398.0,596.8" fill="url(#g3_9)"/>
<polygon points="308.0,596.8 329.5,570.3 351.0,596.8" fill="url(#g3_9)"/>
<polygon points="134.0,596.8 150.0,576.3 166.0,596.8" fill="url(#g3_10)"/>
<polygon points="552.0,596.8 568.0,576.3 584.0,596.8" fill="url(#g3_6)"/>
<polygon points="115.5,596.8 124.8,583.7 134.0,596.8" fill="url(#g3_3)"/>
<polygon points="292.0,596.8 299.0,586.2 306.0,596.8" fill="url(#g3_11)"/>
<polygon points="538.0,596.8 545.0,586.2 552.0,596.8" fill="url(#g3_12)"/>
<line x1="535.0" y1="593.8" x2="324.2" y2="363.7" stroke="#e23a28" stroke-width="4" opacity="0.12"/>
<circle cx="236.5" cy="538.9" r="4" fill="#c01418" opacity="0.5"/>
<circle cx="207.5" cy="570.2" r="3.5" fill="#c01418" opacity="0.55"/>
<circle cx="260.5" cy="568.1" r="3.5" fill="#c01418" opacity="0.6"/>
<circle cx="466.5" cy="522.0" r="5" fill="#c01418" opacity="0.6"/>
<circle cx="419.5" cy="470.1" r="4" fill="#c01418" opacity="0.25"/>
<circle cx="353.0" cy="546.8" r="3.5" fill="#c01418" opacity="0.4"/>
</g>
</g></g>
<g clip-path="url(#cp4)"><g filter="url(#nz)">
<rect x="604.5" y="336.8" width="472.5" height="259.0" fill="url(#g4_0)"/>
<g filter="url(#bl)">
<polygon points="675.0,596.8 852.5,400.6 1030.0,596.8" fill="url(#g4_1)"/>
<polygon points="796.0,596.8 913.0,466.4 1030.0,596.8" fill="url(#g4_2)"/>
<polygon points="888.0,596.8 959.0,516.5 1030.0,596.8" fill="url(#g4_3)"/>
<polygon points="675.0,596.8 728.0,536.1 781.0,596.8" fill="url(#g4_4)"/>
<polygon points="930.0,596.8 980.0,539.4 1030.0,596.8" fill="url(#g4_5)"/>
<polygon points="799.0,596.8 843.5,545.4 888.0,596.8" fill="url(#g4_6)"/>
<polygon points="727.0,596.8 752.5,566.0 778.0,596.8" fill="url(#g4_7)"/>
<polygon points="606.5,596.8 631.8,566.3 657.0,596.8" fill="url(#g4_6)"/>
<polygon points="675.0,596.8 699.0,567.7 723.0,596.8" fill="url(#g4_7)"/>
<polygon points="843.0,596.8 865.5,569.3 888.0,596.8" fill="url(#g4_8)"/>
<polygon points="799.0,596.8 821.0,569.9 843.0,596.8" fill="url(#g4_9)"/>
<polygon points="1041.0,596.8 1058.0,575.3 1075.0,596.8" fill="url(#g4_10)"/>
<polygon points="624.0,596.8 640.5,575.8 657.0,596.8" fill="url(#g4_11)"/>
<polygon points="606.5,596.8 615.2,584.3 624.0,596.8" fill="url(#g4_3)"/>
<polygon points="784.0,596.8 790.5,586.7 797.0,596.8" fill="url(#g4_12)"/>
<polygon points="1030.0,596.8 1035.5,587.8 1041.0,596.8" fill="url(#g4_13)"/>
<line x1="1030.0" y1="593.8" x2="817.2" y2="362.2" stroke="#e23a28" stroke-width="4" opacity="0.12"/>
<circle cx="728.0" cy="538.5" r="4" fill="#c01418" opacity="0.4"/>
<circle cx="699.0" cy="569.8" r="3.5" fill="#c01418" opacity="0.55"/>
<circle cx="752.5" cy="568.1" r="3.5" fill="#c01418" opacity="0.6"/>
<circle cx="959.0" cy="519.5" r="5" fill="#c01418" opacity="0.6"/>
<circle cx="913.0" cy="468.8" r="4" fill="#c01418" opacity="0.25"/>
<circle cx="843.5" cy="547.5" r="3.5" fill="#c01418" opacity="0.4"/>
</g>
</g></g>
<rect x="436.5" y="347.5" width="141.3" height="12.6" fill="url(#reds)"/>
<line x1="437.0" y1="360.9" x2="437.0" y2="366.8" stroke="#000" stroke-width="1.1"/>
<text x="437.0" y="384.8" font-size="18.5" fill="#000" stroke="#000" stroke-width="0.35" text-anchor="middle" textLength="11.2" lengthAdjust="spacingAndGlyphs">0</text>
<line x1="577.0" y1="360.9" x2="577.0" y2="366.8" stroke="#000" stroke-width="1.1"/>
<text x="577.0" y="384.8" font-size="18.5" fill="#000" stroke="#000" stroke-width="0.35" text-anchor="middle" textLength="20.7" lengthAdjust="spacingAndGlyphs">10</text>
<text x="462.9" y="406.4" font-size="19" fill="#000" stroke="#000" stroke-width="0.35" textLength="89.8" lengthAdjust="spacingAndGlyphs">log(count)</text>
<rect x="927.8" y="347.5" width="142.0" height="12.6" fill="url(#reds)"/>
<line x1="928.4" y1="360.9" x2="928.4" y2="366.8" stroke="#000" stroke-width="1.1"/>
<text x="928.4" y="384.8" font-size="18.5" fill="#000" stroke="#000" stroke-width="0.35" text-anchor="middle" textLength="11.2" lengthAdjust="spacingAndGlyphs">0</text>
<line x1="1003.0" y1="360.9" x2="1003.0" y2="366.8" stroke="#000" stroke-width="1.1"/>
<text x="1003.0" y="384.8" font-size="18.5" fill="#000" stroke="#000" stroke-width="0.35" text-anchor="middle" textLength="11.2" lengthAdjust="spacingAndGlyphs">5</text>
<text x="954.6" y="406.4" font-size="19" fill="#000" stroke="#000" stroke-width="0.35" textLength="89.8" lengthAdjust="spacingAndGlyphs">log(count)</text>
<line x1="115.6" y1="595.2" x2="115.6" y2="601.9" stroke="#000" stroke-width="1.2"/>
<line x1="233.4" y1="595.2" x2="233.4" y2="601.9" stroke="#000" stroke-width="1.2"/>
<line x1="351.5" y1="595.2" x2="351.5" y2="601.9" stroke="#000" stroke-width="1.2"/>
<line x1="470.0" y1="595.2" x2="470.0" y2="601.9" stroke="#000" stroke-width="1.2"/>
<path d="M115.6,648.8 L115.6,647.9 L116.1,647.9 L116.6,647.9 L117.1,647.8 L117.6,647.8 L118.1,647.8 L118.6,647.7 L119.1,647.6 L119.6,647.5 L120.1,647.4 L120.6,647.2 L121.1,647.1 L121.6,647.0 L122.1,646.9 L122.6,646.8 L123.1,646.8 L123.6,646.8 L124.1,646.9 L124.6,646.9 L125.1,646.9 L125.6,646.9 L126.1,646.9 L126.6,646.7 L127.1,646.5 L127.6,646.2 L128.1,645.8 L128.6,645.2 L129.1,644.6 L129.6,643.9 L130.1,643.1 L130.6,642.3 L131.1,641.5 L131.6,640.7 L132.1,640.0 L132.6,639.5 L133.1,639.1 L133.6,639.0 L134.1,639.1 L134.6,639.3 L135.1,639.8 L135.6,640.4 L136.1,641.1 L136.6,641.9 L137.1,642.7 L137.6,643.4 L138.1,644.1 L138.6,644.8 L139.1,645.3 L139.6,645.7 L140.1,646.1 L140.6,646.4 L141.1,646.6 L141.6,646.8 L142.1,647.0 L142.6,647.1 L143.1,647.2 L143.6,647.3 L144.1,647.3 L144.6,647.4 L145.1,647.4 L145.6,647.4 L146.1,647.4 L146.6,647.4 L147.1,647.4 L147.6,647.4 L148.1,647.4 L148.6,647.3 L149.1,647.3 L149.6,647.2 L150.1,647.2 L150.6,647.1 L151.1,647.0 L151.6,646.9 L152.1,646.8 L152.6,646.7 L153.1,646.5 L153.6,646.4 L154.1,646.3 L154.6,646.2 L155.1,646.1 L155.6,646.0 L156.1,645.9 L156.6,645.8 L157.1,645.8 L157.6,645.7 L158.1,645.7 L158.6,645.7 L159.1,645.7 L159.6,645.8 L160.1,645.8 L160.6,645.9 L161.1,646.0 L161.6,646.1 L162.1,646.2 L162.6,646.3 L163.1,646.4 L163.6,646.5 L164.1,646.6 L164.6,646.7 L165.1,646.8 L165.6,646.9 L166.1,647.0 L166.6,647.0 L167.1,646.9 L167.6,646.6 L168.1,646.2 L168.6,645.5 L169.1,644.4 L169.6,643.0 L170.1,641.0 L170.6,638.7 L171.1,636.1 L171.6,633.3 L172.1,630.7 L172.6,628.4 L173.1,626.8 L173.6,625.9 L174.1,625.8 L174.6,626.4 L175.1,627.4 L175.6,628.6 L176.1,629.9 L176.6,631.1 L177.1,632.3 L177.6,633.5 L178.1,634.8 L178.6,636.3 L179.1,637.9 L179.6,639.4 L180.1,640.4 L180.6,640.5 L181.1,639.3 L181.6,636.3 L182.1,631.4 L182.6,625.3 L183.1,619.1 L183.6,614.1 L184.1,611.9 L184.6,613.0 L185.1,617.1 L185.6,623.3 L186.1,630.1 L186.6,636.2 L187.1,640.9 L187.6,644.1 L188.1,646.0 L188.6,647.1 L189.1,647.5 L189.6,647.7 L190.1,647.8 L190.6,647.8 L191.1,647.8 L191.6,647.7 L192.1,647.7 L192.6,647.6 L193.1,647.5 L193.6,647.5 L194.1,647.4 L194.6,647.3 L195.1,647.1 L195.6,647.0 L196.1,646.9 L196.6,646.8 L197.1,646.6 L197.6,646.5 L198.1,646.4 L198.6,646.3 L199.1,646.2 L199.6,646.1 L200.1,646.0 L200.6,645.9 L201.1,645.8 L201.6,645.6 L202.1,645.5 L202.6,645.3 L203.1,645.2 L203.6,645.0 L204.1,644.9 L204.6,644.9 L205.1,644.9 L205.6,644.9 L206.1,645.1 L206.6,645.2 L207.1,645.5 L207.6,645.7 L208.1,645.9 L208.6,646.0 L209.1,646.2 L209.6,646.2 L210.1,646.3 L210.6,646.2 L211.1,646.2 L211.6,646.1 L212.1,646.1 L212.6,646.0 L213.1,645.9 L213.6,645.9 L214.1,645.9 L214.6,645.9 L215.1,645.9 L215.6,645.9 L216.1,646.0 L216.6,646.1 L217.1,646.2 L217.6,646.3 L218.1,646.4 L218.6,646.6 L219.1,646.7 L219.6,646.8 L220.1,647.0 L220.6,647.1 L221.1,647.2 L221.6,647.3 L222.1,647.4 L222.6,647.4 L223.1,647.5 L223.6,647.6 L224.1,647.6 L224.6,647.6 L225.1,647.6 L225.6,647.5 L226.1,647.3 L226.6,646.9 L227.1,646.2 L227.6,645.2 L228.1,643.9 L228.6,642.4 L229.1,641.0 L229.6,640.1 L230.1,639.8 L230.6,640.3 L231.1,641.3 L231.6,642.4 L232.1,643.2 L232.6,643.3 L233.1,642.6 L233.6,641.0 L234.1,639.0 L234.6,637.0 L235.1,635.6 L235.6,635.3 L236.1,636.1 L236.6,637.9 L237.1,640.3 L237.6,642.6 L238.1,644.5 L238.6,646.0 L239.1,646.9 L239.6,647.4 L240.1,647.7 L240.6,647.8 L241.1,647.8 L241.6,647.8 L242.1,647.8 L242.6,647.8 L243.1,647.8 L243.6,647.8 L244.1,647.8 L244.6,647.8 L245.1,647.7 L245.6,647.7 L246.1,647.7 L246.6,647.7 L247.1,647.6 L247.6,647.6 L248.1,647.6 L248.6,647.6 L249.1,647.6 L249.6,647.5 L250.1,647.5 L250.6,647.5 L251.1,647.5 L251.6,647.5 L252.1,647.5 L252.6,647.5 L253.1,647.5 L253.6,647.5 L254.1,647.6 L254.6,647.6 L255.1,647.6 L255.6,647.6 L256.1,647.6 L256.6,647.7 L257.1,647.7 L257.6,647.7 L258.1,647.7 L258.6,647.7 L259.1,647.8 L259.6,647.8 L260.1,647.8 L260.6,647.8 L261.1,647.8 L261.6,647.8 L262.1,647.9 L262.6,647.9 L263.1,647.9 L263.6,647.9 L264.1,647.9 L264.6,647.9 L265.1,647.9 L265.6,647.9 L266.1,647.9 L266.6,647.9 L267.1,647.9 L267.6,647.9 L268.1,647.9 L268.6,647.9 L269.1,647.9 L269.6,647.9 L270.1,647.9 L270.6,647.9 L271.1,647.9 L271.6,647.9 L272.1,647.9 L272.6,647.9 L273.1,647.9 L273.6,647.9 L274.1,647.9 L274.6,647.9 L275.1,647.8 L275.6,647.8 L276.1,647.8 L276.6,647.8 L277.1,647.7 L277.6,647.7 L278.1,647.6 L278.6,647.5 L279.1,647.4 L279.6,647.3 L280.1,647.2 L280.6,647.0 L281.1,646.9 L281.6,646.7 L282.1,646.5 L282.6,646.2 L283.1,646.0 L283.6,645.7 L284.1,645.4 L284.6,645.1 L285.1,644.8 L285.6,644.5 L286.1,644.2 L286.6,643.9 L287.1,643.7 L287.6,643.4 L288.1,643.2 L288.6,643.1 L289.1,642.9 L289.6,642.7 L290.1,642.5 L290.6,641.9 L291.1,640.9 L291.6,639.0 L292.1,636.2 L292.6,632.2 L293.1,627.5 L293.6,622.8 L294.1,619.2 L294.6,617.6 L295.1,618.5 L295.6,621.5 L296.1,625.8 L296.6,630.1 L297.1,633.5 L297.6,635.3 L298.1,635.3 L298.6,633.9 L299.1,631.4 L299.6,628.4 L300.1,625.5 L300.6,623.1 L301.1,621.8 L301.6,621.6 L302.1,622.8 L302.6,625.0 L303.1,627.9 L303.6,631.3 L304.1,634.7 L304.6,637.8 L305.1,640.5 L305.6,642.6 L306.1,644.2 L306.6,645.3 L307.1,646.1 L307.6,646.6 L308.1,646.9 L308.6,647.2 L309.1,647.3 L309.6,647.5 L310.1,647.6 L310.6,647.6 L311.1,647.7 L311.6,647.7 L312.1,647.8 L312.6,647.8 L313.1,647.8 L313.6,647.8 L314.1,647.8 L314.6,647.8 L315.1,647.8 L315.6,647.8 L316.1,647.8 L316.6,647.8 L317.1,647.8 L317.6,647.7 L318.1,647.7 L318.6,647.7 L319.1,647.6 L319.6,647.6 L320.1,647.5 L320.6,647.5 L321.1,647.4 L321.6,647.3 L322.1,647.1 L322.6,646.9 L323.1,646.5 L323.6,646.0 L324.1,645.3 L324.6,644.5 L325.1,643.7 L325.6,642.7 L326.1,641.9 L326.6,641.3 L327.1,640.9 L327.6,640.9 L328.1,641.2 L328.6,641.8 L329.1,642.5 L329.6,643.2 L330.1,643.9 L330.6,644.5 L331.1,644.9 L331.6,645.1 L332.1,645.3 L332.6,645.4 L333.1,645.5 L333.6,645.5 L334.1,645.5 L334.6,645.6 L335.1,645.7 L335.6,645.7 L336.1,645.8 L336.6,646.0 L337.1,646.1 L337.6,646.2 L338.1,646.3 L338.6,646.5 L339.1,646.6 L339.6,646.8 L340.1,646.9 L340.6,647.0 L341.1,647.1 L341.6,647.2 L342.1,647.3 L342.6,647.4 L343.1,647.5 L343.6,647.6 L344.1,647.6 L344.6,647.7 L345.1,647.7 L345.6,647.7 L346.1,647.7 L346.6,647.5 L347.1,647.2 L347.6,646.4 L348.1,644.9 L348.6,642.3 L349.1,638.6 L349.6,633.7 L350.1,628.3 L350.6,623.4 L351.1,620.1 L351.6,619.2 L352.1,621.1 L352.6,625.1 L353.1,630.3 L353.6,635.5 L354.1,639.9 L354.6,643.1 L355.1,645.1 L355.6,646.3 L356.1,646.8 L356.6,647.0 L357.1,647.0 L357.6,647.0 L358.1,646.9 L358.6,646.9 L359.1,646.9 L359.6,646.8 L360.1,646.8 L360.6,646.8 L361.1,646.9 L361.6,646.9 L362.1,647.0 L362.6,647.0 L363.1,647.1 L363.6,647.2 L364.1,647.3 L364.6,647.3 L365.1,647.4 L365.6,647.5 L366.1,647.6 L366.6,647.6 L367.1,647.7 L367.6,647.7 L368.1,647.8 L368.6,647.8 L369.1,647.8 L369.6,647.8 L370.1,647.9 L370.6,647.9 L371.1,647.9 L371.6,647.9 L372.1,647.9 L372.6,647.9 L373.1,647.9 L373.6,647.9 L374.1,647.9 L374.6,647.9 L375.1,647.9 L375.6,647.9 L376.1,647.9 L376.6,647.9 L377.1,647.9 L377.6,647.9 L378.1,647.9 L378.6,647.9 L379.1,647.9 L379.6,647.9 L380.1,647.9 L380.6,647.9 L381.1,647.9 L381.6,647.9 L382.1,647.9 L382.6,647.9 L383.1,647.9 L383.6,647.9 L384.1,647.9 L384.6,647.9 L385.1,647.9 L385.6,647.9 L386.1,647.9 L386.6,647.9 L387.1,647.9 L387.6,647.8 L388.1,647.8 L388.6,647.7 L389.1,647.6 L389.6,647.5 L390.1,647.2 L390.6,646.8 L391.1,646.3 L391.6,645.6 L392.1,644.6 L392.6,643.4 L393.1,642.0 L393.6,640.2 L394.1,638.2 L394.6,635.9 L395.1,633.6 L395.6,631.3 L396.1,629.0 L396.6,627.1 L397.1,625.5 L397.6,624.4 L398.1,623.9 L398.6,623.9 L399.1,624.5 L399.6,625.5 L400.1,626.9 L400.6,628.6 L401.1,630.4 L401.6,632.2 L402.1,633.9 L402.6,635.5 L403.1,636.8 L403.6,638.0 L404.1,639.1 L404.6,639.9 L405.1,640.7 L405.6,641.3 L406.1,641.9 L406.6,642.4 L407.1,642.9 L407.6,643.3 L408.1,643.7 L408.6,644.1 L409.1,644.4 L409.6,644.7 L410.1,645.0 L410.6,645.2 L411.1,645.4 L411.6,645.6 L412.1,645.8 L412.6,646.0 L413.1,646.2 L413.6,646.3 L414.1,646.5 L414.6,646.6 L415.1,646.7 L415.6,646.9 L416.1,647.0 L416.6,647.0 L417.1,647.1 L417.6,647.1 L418.1,647.1 L418.6,647.1 L419.1,647.1 L419.6,647.0 L420.1,647.0 L420.6,646.9 L421.1,646.7 L421.6,646.6 L422.1,646.5 L422.6,646.4 L423.1,646.4 L423.6,646.3 L424.1,646.3 L424.6,646.3 L425.1,646.3 L425.6,646.4 L426.1,646.4 L426.6,646.5 L427.1,646.6 L427.6,646.7 L428.1,646.8 L428.6,646.9 L429.1,647.0 L429.6,647.1 L430.1,647.2 L430.6,647.3 L431.1,647.4 L431.6,647.5 L432.1,647.6 L432.6,647.7 L433.1,647.7 L433.6,647.8 L434.1,647.8 L434.6,647.8 L435.1,647.9 L435.6,647.9 L436.1,647.9 L436.6,647.9 L437.1,647.9 L437.6,647.9 L438.1,647.9 L438.6,647.9 L439.1,647.9 L439.6,647.9 L440.1,647.9 L440.6,647.9 L441.1,647.9 L441.6,647.8 L442.1,647.8 L442.6,647.7 L443.1,647.6 L443.6,647.3 L444.1,647.0 L444.6,646.5 L445.1,645.9 L445.6,645.1 L446.1,644.3 L446.6,643.5 L447.1,642.8 L447.6,642.4 L448.1,642.3 L448.6,642.4 L449.1,642.9 L449.6,643.6 L450.1,644.4 L450.6,645.2 L451.1,645.9 L451.6,646.5 L452.1,646.9 L452.6,647.2 L453.1,647.5 L453.6,647.6 L454.1,647.7 L454.6,647.8 L455.1,647.8 L455.6,647.8 L456.1,647.9 L456.6,647.9 L457.1,647.9 L457.6,647.9 L458.1,647.9 L458.6,647.9 L459.1,647.9 L459.6,647.9 L460.1,647.9 L460.6,647.9 L461.1,647.9 L461.6,647.9 L462.1,647.9 L462.6,647.9 L463.1,647.9 L463.6,647.9 L464.1,647.9 L464.6,647.9 L465.1,647.9 L465.6,647.9 L466.1,647.9 L466.6,647.8 L467.1,647.8 L467.6,647.8 L468.1,647.8 L468.6,647.7 L469.1,647.7 L469.6,647.6 L470.1,647.6 L470.6,647.5 L471.1,647.5 L471.6,647.5 L472.1,647.5 L472.6,647.5 L473.1,647.5 L473.6,647.5 L474.1,647.5 L474.6,647.5 L475.1,647.6 L475.6,647.6 L476.1,647.7 L476.6,647.7 L477.1,647.8 L477.6,647.8 L478.1,647.8 L478.6,647.8 L479.1,647.8 L479.6,647.8 L480.1,647.8 L480.6,647.8 L481.1,647.8 L481.6,647.8 L482.1,647.8 L482.6,647.8 L483.1,647.7 L483.6,647.7 L484.1,647.6 L484.6,647.6 L485.1,647.5 L485.6,647.5 L486.1,647.4 L486.6,647.3 L487.1,647.2 L487.6,647.2 L488.1,647.1 L488.6,647.1 L489.1,647.0 L489.6,647.0 L490.1,647.0 L490.6,647.0 L491.1,647.0 L491.6,647.0 L492.1,647.0 L492.6,647.0 L493.1,647.1 L493.6,647.1 L494.1,647.1 L494.6,647.1 L495.1,647.2 L495.6,647.2 L496.1,647.2 L496.6,647.3 L497.1,647.3 L497.6,647.4 L498.1,647.4 L498.6,647.4 L499.1,647.5 L499.6,647.5 L500.1,647.5 L500.6,647.6 L501.1,647.6 L501.6,647.6 L502.1,647.7 L502.6,647.7 L503.1,647.7 L503.6,647.8 L504.1,647.8 L504.6,647.8 L505.1,647.8 L505.6,647.8 L506.1,647.8 L506.6,647.9 L507.1,647.9 L507.6,647.9 L508.1,647.9 L508.6,647.9 L509.1,647.9 L509.6,647.9 L510.1,647.9 L510.6,647.9 L511.1,647.9 L511.6,647.9 L512.1,647.9 L512.6,647.9 L513.1,647.9 L513.6,647.9 L514.1,647.9 L514.6,647.9 L515.1,647.9 L515.6,647.9 L516.1,647.9 L516.6,647.9 L517.1,647.9 L517.6,647.9 L518.1,647.9 L518.6,647.9 L519.1,647.9 L519.6,647.9 L520.1,647.9 L520.6,647.9 L521.1,647.9 L521.6,647.9 L522.1,647.9 L522.6,647.8 L523.1,647.8 L523.6,647.7 L524.1,647.7 L524.6,647.5 L525.1,647.3 L525.6,647.1 L526.1,646.7 L526.6,646.3 L527.1,645.8 L527.6,645.2 L528.1,644.4 L528.6,643.6 L529.1,642.8 L529.6,641.9 L530.1,641.1 L530.6,640.2 L531.1,639.5 L531.6,638.7 L532.1,637.9 L532.6,637.1 L533.1,636.2 L533.6,635.2 L534.1,634.0 L534.6,632.6 L535.1,631.1 L535.6,629.6 L536.1,628.2 L536.6,627.1 L537.1,626.5 L537.6,626.5 L538.1,627.1 L538.6,628.4 L539.1,630.1 L539.6,632.3 L540.1,634.6 L540.6,637.0 L541.1,639.3 L541.6,641.4 L542.1,643.1 L542.6,644.5 L543.1,645.6 L543.6,646.4 L544.1,646.9 L544.6,647.3 L545.1,647.5 L545.6,647.6 L546.1,647.5 L546.6,647.2 L547.1,646.6 L547.6,645.6 L548.1,643.8 L548.6,641.2 L549.1,637.9 L549.6,633.9 L550.1,629.9 L550.6,626.4 L551.1,624.1 L551.6,623.5 L552.1,624.8 L552.6,627.7 L553.1,631.5 L553.6,635.5 L554.1,639.3 L554.6,642.4 L555.1,644.6 L555.6,646.1 L556.1,647.0 L556.6,647.5 L557.1,647.7 L557.6,647.8 L558.1,647.9 L558.6,647.9 L559.1,647.9 L559.6,647.9 L560.1,647.9 L560.6,647.9 L561.1,647.9 L561.6,647.9 L562.1,647.8 L562.6,647.7 L563.1,647.6 L563.6,647.5 L564.1,647.3 L564.6,647.2 L565.1,647.0 L565.6,646.8 L566.1,646.6 L566.6,646.6 L567.1,646.6 L567.6,646.7 L568.1,646.8 L568.6,647.0 L569.1,647.2 L569.6,647.4 L570.1,647.5 L570.6,647.6 L571.1,647.7 L571.6,647.7 L572.1,647.7 L572.6,647.7 L573.1,647.6 L573.6,647.5 L574.1,647.4 L574.6,647.3 L575.1,647.2 L575.6,647.0 L576.1,646.9 L576.6,646.8 L577.1,646.7 L577.6,646.6 L578.1,646.6 L578.6,646.6 L579.1,646.6 L579.6,646.6 L580.1,646.6 L580.6,646.6 L581.1,646.6 L581.6,646.6 L582.1,646.6 L582.6,646.5 L583.1,646.5 L583.6,646.5 L584.1,646.4 L584.6,646.4 L585.1,646.4 L585.6,646.4 L586.1,646.4 L586.5,648.8 Z" fill="#1f78b4"/>
<line x1="115.6" y1="649.2" x2="115.6" y2="654.8" stroke="#000" stroke-width="1.2"/>
<line x1="233.4" y1="649.2" x2="233.4" y2="654.8" stroke="#000" stroke-width="1.2"/>
<line x1="351.5" y1="649.2" x2="351.5" y2="654.8" stroke="#000" stroke-width="1.2"/>
<line x1="470.0" y1="649.2" x2="470.0" y2="654.8" stroke="#000" stroke-width="1.2"/>
<polygon points="134.0,664.8 135.8,668.2 139.5,668.8 136.9,671.5 137.4,675.3 134.0,673.6 130.6,675.3 131.1,671.5 128.5,668.8 132.2,668.2" fill="#e8447f"/>
<polygon points="173.6,664.8 175.4,668.2 179.1,668.8 176.5,671.5 177.0,675.3 173.6,673.6 170.2,675.3 170.7,671.5 168.1,668.8 171.8,668.2" fill="#e8447f"/>
<polygon points="184.0,664.8 185.8,668.2 189.5,668.8 186.9,671.5 187.4,675.3 184.0,673.6 180.6,675.3 181.1,671.5 178.5,668.8 182.2,668.2" fill="#e8447f"/>
<polygon points="230.0,664.8 231.8,668.2 235.5,668.8 232.9,671.5 233.4,675.3 230.0,673.6 226.6,675.3 227.1,671.5 224.5,668.8 228.2,668.2" fill="#e8447f"/>
<polygon points="235.5,664.8 237.3,668.2 241.0,668.8 238.4,671.5 238.9,675.3 235.5,673.6 232.1,675.3 232.6,671.5 230.0,668.8 233.7,668.2" fill="#e8447f"/>
<polygon points="293.2,664.8 295.0,668.2 298.7,668.8 296.1,671.5 296.6,675.3 293.2,673.6 289.8,675.3 290.3,671.5 287.7,668.8 291.4,668.2" fill="#e8447f"/>
<polygon points="302.7,664.8 304.5,668.2 308.2,668.8 305.6,671.5 306.1,675.3 302.7,673.6 299.3,675.3 299.8,671.5 297.2,668.8 300.9,668.2" fill="#e8447f"/>
<polygon points="350.8,664.8 352.6,668.2 356.3,668.8 353.7,671.5 354.2,675.3 350.8,673.6 347.4,675.3 347.9,671.5 345.3,668.8 349.0,668.2" fill="#e8447f"/>
<polygon points="398.4,664.8 400.2,668.2 403.9,668.8 401.3,671.5 401.8,675.3 398.4,673.6 395.0,675.3 395.5,671.5 392.9,668.8 396.6,668.2" fill="#e8447f"/>
<polygon points="532.7,664.8 534.5,668.2 538.2,668.8 535.6,671.5 536.1,675.3 532.7,673.6 529.3,675.3 529.8,671.5 527.2,668.8 530.9,668.2" fill="#e8447f"/>
<polygon points="538.2,664.8 540.0,668.2 543.7,668.8 541.1,671.5 541.6,675.3 538.2,673.6 534.8,675.3 535.3,671.5 532.7,668.8 536.4,668.2" fill="#e8447f"/>
<polygon points="552.2,664.8 554.0,668.2 557.7,668.8 555.1,671.5 555.6,675.3 552.2,673.6 548.8,675.3 549.3,671.5 546.7,668.8 550.4,668.2" fill="#e8447f"/>
<line x1="115.6" y1="675.0" x2="115.6" y2="681.0" stroke="#000" stroke-width="1.2"/>
<line x1="233.4" y1="675.0" x2="233.4" y2="681.0" stroke="#000" stroke-width="1.2"/>
<line x1="351.5" y1="675.0" x2="351.5" y2="681.0" stroke="#000" stroke-width="1.2"/>
<line x1="470.0" y1="675.0" x2="470.0" y2="681.0" stroke="#000" stroke-width="1.2"/>
<line x1="175.0" y1="698.6" x2="586.5" y2="698.6" stroke="#444" stroke-width="1.9"/>
<rect x="115.6" y="692.0" width="38.9" height="13.3" fill="#b5cc6a"/>
<rect x="154.5" y="692.0" width="5.5" height="13.3" fill="#dcc183"/>
<rect x="160.0" y="692.0" width="6.5" height="13.3" fill="#eab58c"/>
<rect x="166.5" y="692.0" width="4.5" height="13.3" fill="#e0817a"/>
<rect x="171.0" y="692.0" width="4.8" height="13.3" fill="#c0504d"/>
<rect x="211.6" y="692.0" width="1.8" height="13.3" fill="#e3c05c"/>
<rect x="227.5" y="692.0" width="226.3" height="13.3" fill="#8c3b3b"/>
<rect x="416.7" y="692.0" width="15.0" height="13.3" fill="#6e70d2"/>
<rect x="475.4" y="692.0" width="2.2" height="13.3" fill="#9aa5cf"/>
<rect x="477.6" y="692.0" width="5.2" height="13.3" fill="#63803c"/>
<rect x="507.0" y="692.0" width="1.6" height="13.3" fill="#c9d29a"/>
<rect x="514.6" y="692.0" width="8.2" height="13.3" fill="#e7bb76"/>
<rect x="514.6" y="692.0" width="1.6" height="13.3" fill="#e9cf8f"/>
<rect x="544.4" y="692.0" width="10.1" height="13.3" fill="#c6d690"/>
<rect x="554.5" y="692.0" width="0.9" height="13.3" fill="#8c3b3b"/>
<rect x="555.4" y="692.0" width="31.1" height="13.3" fill="#dca0dc"/>
<rect x="115.6" y="726.5" width="471.9" height="26.0" fill="#fafafc"/>
<rect x="171.5" y="724.5" width="4.5" height="28.0" fill="#f3f3f9"/>
<line x1="115.6" y1="755.3" x2="115.6" y2="760.9" stroke="#000" stroke-width="1.2"/>
<line x1="233.4" y1="755.3" x2="233.4" y2="760.9" stroke="#000" stroke-width="1.2"/>
<line x1="351.5" y1="755.3" x2="351.5" y2="760.9" stroke="#000" stroke-width="1.2"/>
<line x1="470.0" y1="755.3" x2="470.0" y2="760.9" stroke="#000" stroke-width="1.2"/>
<text x="112.2" y="779.0" font-size="18" fill="#000" stroke="#000" stroke-width="0.35" textLength="92.7" lengthAdjust="spacingAndGlyphs">53,670,000</text>
<text x="229.5" y="779.0" font-size="18" fill="#000" stroke="#000" stroke-width="0.35" textLength="92.7" lengthAdjust="spacingAndGlyphs">54,170,000</text>
<text x="347.3" y="779.0" font-size="18" fill="#000" stroke="#000" stroke-width="0.35" textLength="92.7" lengthAdjust="spacingAndGlyphs">54,670,000</text>
<text x="466.0" y="779.0" font-size="18" fill="#000" stroke="#000" stroke-width="0.35" textLength="92.7" lengthAdjust="spacingAndGlyphs">55,170,000</text>
<line x1="606.4" y1="595.2" x2="606.4" y2="601.9" stroke="#000" stroke-width="1.2"/>
<line x1="725.0" y1="595.2" x2="725.0" y2="601.9" stroke="#000" stroke-width="1.2"/>
<line x1="843.5" y1="595.2" x2="843.5" y2="601.9" stroke="#000" stroke-width="1.2"/>
<line x1="961.0" y1="595.2" x2="961.0" y2="601.9" stroke="#000" stroke-width="1.2"/>
<path d="M606.4,648.8 L606.4,647.8 L606.9,647.8 L607.4,647.8 L607.9,647.8 L608.4,647.8 L608.9,647.7 L609.4,647.7 L609.9,647.6 L610.4,647.6 L610.9,647.5 L611.4,647.5 L611.9,647.4 L612.4,647.3 L612.9,647.2 L613.4,647.0 L613.9,646.9 L614.4,646.7 L614.9,646.6 L615.4,646.4 L615.9,646.1 L616.4,645.8 L616.9,645.5 L617.4,645.1 L617.9,644.5 L618.4,643.8 L618.9,642.8 L619.4,641.6 L619.9,640.2 L620.4,638.6 L620.9,636.7 L621.4,634.8 L621.9,632.9 L622.4,631.1 L622.9,629.7 L623.4,628.9 L623.9,628.6 L624.4,628.9 L624.9,629.8 L625.4,631.3 L625.9,633.1 L626.4,635.2 L626.9,637.3 L627.4,639.3 L627.9,641.1 L628.4,642.6 L628.9,643.9 L629.4,644.8 L629.9,645.5 L630.4,645.9 L630.9,646.2 L631.4,646.4 L631.9,646.4 L632.4,646.4 L632.9,646.4 L633.4,646.4 L633.9,646.3 L634.4,646.3 L634.9,646.2 L635.4,646.2 L635.9,646.1 L636.4,646.1 L636.9,646.0 L637.4,646.0 L637.9,646.0 L638.4,645.9 L638.9,645.9 L639.4,645.9 L639.9,645.8 L640.4,645.8 L640.9,645.8 L641.4,645.8 L641.9,645.8 L642.4,645.8 L642.9,645.8 L643.4,645.9 L643.9,645.9 L644.4,646.0 L644.9,646.0 L645.4,646.1 L645.9,646.1 L646.4,646.2 L646.9,646.2 L647.4,646.2 L647.9,646.3 L648.4,646.3 L648.9,646.3 L649.4,646.3 L649.9,646.4 L650.4,646.4 L650.9,646.4 L651.4,646.5 L651.9,646.5 L652.4,646.5 L652.9,646.6 L653.4,646.6 L653.9,646.6 L654.4,646.6 L654.9,646.6 L655.4,646.6 L655.9,646.5 L656.4,646.5 L656.9,646.4 L657.4,646.3 L657.9,646.2 L658.4,646.1 L658.9,646.0 L659.4,645.8 L659.9,645.5 L660.4,645.1 L660.9,644.4 L661.4,643.4 L661.9,642.0 L662.4,640.2 L662.9,637.9 L663.4,635.4 L663.9,632.7 L664.4,630.2 L664.9,628.1 L665.4,626.7 L665.9,626.3 L666.4,626.8 L666.9,628.3 L667.4,630.4 L667.9,633.1 L668.4,635.9 L668.9,638.5 L669.4,640.9 L669.9,642.8 L670.4,644.1 L670.9,644.9 L671.4,644.9 L671.9,644.1 L672.4,642.2 L672.9,639.1 L673.4,634.9 L673.9,630.0 L674.4,625.4 L674.9,622.0 L675.4,620.8 L675.9,622.1 L676.4,625.6 L676.9,630.3 L677.4,635.3 L677.9,639.6 L678.4,642.9 L678.9,645.2 L679.4,646.5 L679.9,647.2 L680.4,647.6 L680.9,647.7 L681.4,647.8 L681.9,647.8 L682.4,647.9 L682.9,647.9 L683.4,647.9 L683.9,647.9 L684.4,647.9 L684.9,647.9 L685.4,647.9 L685.9,647.9 L686.4,647.9 L686.9,647.9 L687.4,647.9 L687.9,647.9 L688.4,647.9 L688.9,647.9 L689.4,647.9 L689.9,647.9 L690.4,647.9 L690.9,647.9 L691.4,647.9 L691.9,647.9 L692.4,647.9 L692.9,647.9 L693.4,647.9 L693.9,647.9 L694.4,647.9 L694.9,647.9 L695.4,647.9 L695.9,647.9 L696.4,647.8 L696.9,647.8 L697.4,647.8 L697.9,647.8 L698.4,647.7 L698.9,647.7 L699.4,647.7 L699.9,647.6 L700.4,647.6 L700.9,647.5 L701.4,647.5 L701.9,647.4 L702.4,647.4 L702.9,647.3 L703.4,647.3 L703.9,647.3 L704.4,647.3 L704.9,647.3 L705.4,647.3 L705.9,647.3 L706.4,647.3 L706.9,647.3 L707.4,647.4 L707.9,647.4 L708.4,647.5 L708.9,647.5 L709.4,647.6 L709.9,647.6 L710.4,647.7 L710.9,647.7 L711.4,647.7 L711.9,647.8 L712.4,647.8 L712.9,647.8 L713.4,647.8 L713.9,647.9 L714.4,647.9 L714.9,647.9 L715.4,647.9 L715.9,647.9 L716.4,647.8 L716.9,647.7 L717.4,647.4 L717.9,646.9 L718.4,646.0 L718.9,644.6 L719.4,643.0 L719.9,641.1 L720.4,639.4 L720.9,638.2 L721.4,637.9 L721.9,638.5 L722.4,639.9 L722.9,641.7 L723.4,643.3 L723.9,644.5 L724.4,644.9 L724.9,644.6 L725.4,643.5 L725.9,641.9 L726.4,640.1 L726.9,638.6 L727.4,637.7 L727.9,637.7 L728.4,638.7 L728.9,640.2 L729.4,642.0 L729.9,643.7 L730.4,645.0 L730.9,645.9 L731.4,646.4 L731.9,646.7 L732.4,646.8 L732.9,646.8 L733.4,646.7 L733.9,646.7 L734.4,646.7 L734.9,646.6 L735.4,646.6 L735.9,646.6 L736.4,646.6 L736.9,646.7 L737.4,646.7 L737.9,646.8 L738.4,646.8 L738.9,646.9 L739.4,647.0 L739.9,647.0 L740.4,647.1 L740.9,647.2 L741.4,647.3 L741.9,647.4 L742.4,647.4 L742.9,647.5 L743.4,647.6 L743.9,647.6 L744.4,647.7 L744.9,647.7 L745.4,647.7 L745.9,647.8 L746.4,647.8 L746.9,647.8 L747.4,647.8 L747.9,647.8 L748.4,647.7 L748.9,647.7 L749.4,647.6 L749.9,647.5 L750.4,647.4 L750.9,647.3 L751.4,647.2 L751.9,647.1 L752.4,647.0 L752.9,646.9 L753.4,646.9 L753.9,646.9 L754.4,646.9 L754.9,646.9 L755.4,647.0 L755.9,647.1 L756.4,647.3 L756.9,647.4 L757.4,647.5 L757.9,647.6 L758.4,647.7 L758.9,647.7 L759.4,647.8 L759.9,647.8 L760.4,647.9 L760.9,647.9 L761.4,647.9 L761.9,647.9 L762.4,647.9 L762.9,647.9 L763.4,647.9 L763.9,647.9 L764.4,647.9 L764.9,647.9 L765.4,647.9 L765.9,647.8 L766.4,647.8 L766.9,647.8 L767.4,647.8 L767.9,647.7 L768.4,647.7 L768.9,647.6 L769.4,647.6 L769.9,647.5 L770.4,647.4 L770.9,647.3 L771.4,647.2 L771.9,647.0 L772.4,646.8 L772.9,646.6 L773.4,646.3 L773.9,646.0 L774.4,645.7 L774.9,645.4 L775.4,645.0 L775.9,644.6 L776.4,644.2 L776.9,643.8 L777.4,643.4 L777.9,643.1 L778.4,642.7 L778.9,642.5 L779.4,642.2 L779.9,642.1 L780.4,642.0 L780.9,641.9 L781.4,641.8 L781.9,641.5 L782.4,640.9 L782.9,639.6 L783.4,637.6 L783.9,634.8 L784.4,631.4 L784.9,628.0 L785.4,625.3 L785.9,624.2 L786.4,625.0 L786.9,627.4 L787.4,630.7 L787.9,634.2 L788.4,636.9 L788.9,638.3 L789.4,638.4 L789.9,637.3 L790.4,635.1 L790.9,632.3 L791.4,629.3 L791.9,626.5 L792.4,624.3 L792.9,623.1 L793.4,623.0 L793.9,624.1 L794.4,626.2 L794.9,629.0 L795.4,632.1 L795.9,635.3 L796.4,638.2 L796.9,640.7 L797.4,642.6 L797.9,644.2 L798.4,645.3 L798.9,646.1 L799.4,646.7 L799.9,647.1 L800.4,647.4 L800.9,647.6 L801.4,647.7 L801.9,647.8 L802.4,647.8 L802.9,647.9 L803.4,647.9 L803.9,647.9 L804.4,647.9 L804.9,647.9 L805.4,647.9 L805.9,647.9 L806.4,647.9 L806.9,647.9 L807.4,647.9 L807.9,647.9 L808.4,647.9 L808.9,647.9 L809.4,647.9 L809.9,647.9 L810.4,647.9 L810.9,647.9 L811.4,647.9 L811.9,647.9 L812.4,647.9 L812.9,647.9 L813.4,647.9 L813.9,647.9 L814.4,647.8 L814.9,647.7 L815.4,647.5 L815.9,647.1 L816.4,646.4 L816.9,645.3 L817.4,644.0 L817.9,642.7 L818.4,641.6 L818.9,641.1 L819.4,641.3 L819.9,642.1 L820.4,643.4 L820.9,644.7 L821.4,645.8 L821.9,646.6 L822.4,647.1 L822.9,647.3 L823.4,647.4 L823.9,647.4 L824.4,647.4 L824.9,647.3 L825.4,647.3 L825.9,647.2 L826.4,647.1 L826.9,647.1 L827.4,647.0 L827.9,646.9 L828.4,646.9 L828.9,646.8 L829.4,646.8 L829.9,646.8 L830.4,646.8 L830.9,646.8 L831.4,646.8 L831.9,646.8 L832.4,646.8 L832.9,646.9 L833.4,646.9 L833.9,646.9 L834.4,646.9 L834.9,646.8 L835.4,646.8 L835.9,646.7 L836.4,646.7 L836.9,646.5 L837.4,646.4 L837.9,646.2 L838.4,646.0 L838.9,645.8 L839.4,645.6 L839.9,645.3 L840.4,645.1 L840.9,644.9 L841.4,644.7 L841.9,644.5 L842.4,644.3 L842.9,644.2 L843.4,644.1 L843.9,644.0 L844.4,644.0 L844.9,644.1 L845.4,644.1 L845.9,644.2 L846.4,644.3 L846.9,644.5 L847.4,644.7 L847.9,644.8 L848.4,645.0 L848.9,645.2 L849.4,645.4 L849.9,645.6 L850.4,645.8 L850.9,646.0 L851.4,646.2 L851.9,646.4 L852.4,646.6 L852.9,646.7 L853.4,646.9 L853.9,647.0 L854.4,647.1 L854.9,647.2 L855.4,647.3 L855.9,647.4 L856.4,647.5 L856.9,647.5 L857.4,647.6 L857.9,647.6 L858.4,647.6 L858.9,647.6 L859.4,647.6 L859.9,647.6 L860.4,647.6 L860.9,647.6 L861.4,647.5 L861.9,647.5 L862.4,647.5 L862.9,647.5 L863.4,647.4 L863.9,647.4 L864.4,647.4 L864.9,647.4 L865.4,647.4 L865.9,647.4 L866.4,647.4 L866.9,647.4 L867.4,647.4 L867.9,647.4 L868.4,647.5 L868.9,647.5 L869.4,647.5 L869.9,647.5 L870.4,647.6 L870.9,647.6 L871.4,647.6 L871.9,647.7 L872.4,647.7 L872.9,647.7 L873.4,647.7 L873.9,647.7 L874.4,647.7 L874.9,647.7 L875.4,647.7 L875.9,647.6 L876.4,647.5 L876.9,647.3 L877.4,647.1 L877.9,646.8 L878.4,646.3 L878.9,645.7 L879.4,645.0 L879.9,644.1 L880.4,643.1 L880.9,641.9 L881.4,640.5 L881.9,639.0 L882.4,637.4 L882.9,635.7 L883.4,634.0 L883.9,632.3 L884.4,630.6 L884.9,629.1 L885.4,627.7 L885.9,626.6 L886.4,625.8 L886.9,625.4 L887.4,625.3 L887.9,625.7 L888.4,626.6 L888.9,627.8 L889.4,629.4 L889.9,631.2 L890.4,633.1 L890.9,635.2 L891.4,637.2 L891.9,639.1 L892.4,640.8 L892.9,642.3 L893.4,643.5 L893.9,644.6 L894.4,645.4 L894.9,646.0 L895.4,646.5 L895.9,646.9 L896.4,647.1 L896.9,647.3 L897.4,647.5 L897.9,647.6 L898.4,647.6 L898.9,647.7 L899.4,647.7 L899.9,647.7 L900.4,647.7 L900.9,647.7 L901.4,647.7 L901.9,647.7 L902.4,647.7 L902.9,647.7 L903.4,647.6 L903.9,647.6 L904.4,647.6 L904.9,647.6 L905.4,647.6 L905.9,647.5 L906.4,647.5 L906.9,647.5 L907.4,647.5 L907.9,647.6 L908.4,647.6 L908.9,647.6 L909.4,647.6 L909.9,647.6 L910.4,647.7 L910.9,647.7 L911.4,647.7 L911.9,647.8 L912.4,647.8 L912.9,647.8 L913.4,647.8 L913.9,647.8 L914.4,647.8 L914.9,647.9 L915.4,647.9 L915.9,647.9 L916.4,647.9 L916.9,647.9 L917.4,647.9 L917.9,647.9 L918.4,647.9 L918.9,647.9 L919.4,647.9 L919.9,647.9 L920.4,647.9 L920.9,647.9 L921.4,647.9 L921.9,647.9 L922.4,647.9 L922.9,647.9 L923.4,647.9 L923.9,647.9 L924.4,647.9 L924.9,647.9 L925.4,647.9 L925.9,647.9 L926.4,647.9 L926.9,647.9 L927.4,647.9 L927.9,647.9 L928.4,647.9 L928.9,647.9 L929.4,647.9 L929.9,647.8 L930.4,647.8 L930.9,647.8 L931.4,647.8 L931.9,647.7 L932.4,647.7 L932.9,647.6 L933.4,647.6 L933.9,647.6 L934.4,647.5 L934.9,647.5 L935.4,647.5 L935.9,647.6 L936.4,647.6 L936.9,647.6 L937.4,647.7 L937.9,647.7 L938.4,647.7 L938.9,647.8 L939.4,647.8 L939.9,647.8 L940.4,647.9 L940.9,647.9 L941.4,647.9 L941.9,647.9 L942.4,647.9 L942.9,647.9 L943.4,647.9 L943.9,647.9 L944.4,647.9 L944.9,647.9 L945.4,647.9 L945.9,647.9 L946.4,647.9 L946.9,647.9 L947.4,647.9 L947.9,647.9 L948.4,647.9 L948.9,647.9 L949.4,647.9 L949.9,647.9 L950.4,647.9 L950.9,647.9 L951.4,647.9 L951.9,647.9 L952.4,647.9 L952.9,647.9 L953.4,647.9 L953.9,647.9 L954.4,647.9 L954.9,647.9 L955.4,647.9 L955.9,647.9 L956.4,647.9 L956.9,647.9 L957.4,647.9 L957.9,647.9 L958.4,647.9 L958.9,647.9 L959.4,647.9 L959.9,647.9 L960.4,647.9 L960.9,647.9 L961.4,647.9 L961.9,647.9 L962.4,647.9 L962.9,647.9 L963.4,647.9 L963.9,647.9 L964.4,647.9 L964.9,647.9 L965.4,647.9 L965.9,647.9 L966.4,647.9 L966.9,647.9 L967.4,647.9 L967.9,647.9 L968.4,647.9 L968.9,647.9 L969.4,647.9 L969.9,647.9 L970.4,647.9 L970.9,647.9 L971.4,647.9 L971.9,647.9 L972.4,647.9 L972.9,647.9 L973.4,647.9 L973.9,647.9 L974.4,647.9 L974.9,647.9 L975.4,647.9 L975.9,647.9 L976.4,647.9 L976.9,647.9 L977.4,647.9 L977.9,647.9 L978.4,647.9 L978.9,647.9 L979.4,647.9 L979.9,647.9 L980.4,647.9 L980.9,647.9 L981.4,647.9 L981.9,647.9 L982.4,647.9 L982.9,647.8 L983.4,647.8 L983.9,647.8 L984.4,647.8 L984.9,647.7 L985.4,647.7 L985.9,647.6 L986.4,647.6 L986.9,647.5 L987.4,647.4 L987.9,647.4 L988.4,647.3 L988.9,647.2 L989.4,647.2 L989.9,647.2 L990.4,647.1 L990.9,647.1 L991.4,647.1 L991.9,647.1 L992.4,647.2 L992.9,647.2 L993.4,647.3 L993.9,647.3 L994.4,647.4 L994.9,647.4 L995.4,647.5 L995.9,647.6 L996.4,647.6 L996.9,647.7 L997.4,647.7 L997.9,647.8 L998.4,647.8 L998.9,647.8 L999.4,647.8 L999.9,647.9 L1000.4,647.9 L1000.9,647.9 L1001.4,647.9 L1001.9,647.9 L1002.4,647.9 L1002.9,647.9 L1003.4,647.9 L1003.9,647.9 L1004.4,647.9 L1004.9,647.9 L1005.4,647.9 L1005.9,647.9 L1006.4,647.9 L1006.9,647.9 L1007.4,647.9 L1007.9,647.9 L1008.4,647.9 L1008.9,647.9 L1009.4,647.9 L1009.9,647.9 L1010.4,647.9 L1010.9,647.9 L1011.4,647.9 L1011.9,647.9 L1012.4,647.9 L1012.9,647.9 L1013.4,647.9 L1013.9,647.9 L1014.4,647.9 L1014.9,647.8 L1015.4,647.8 L1015.9,647.8 L1016.4,647.7 L1016.9,647.6 L1017.4,647.5 L1017.9,647.3 L1018.4,647.0 L1018.9,646.7 L1019.4,646.3 L1019.9,645.9 L1020.4,645.4 L1020.9,644.9 L1021.4,644.4 L1021.9,643.9 L1022.4,643.5 L1022.9,643.1 L1023.4,642.7 L1023.9,642.5 L1024.4,642.2 L1024.9,641.9 L1025.4,641.6 L1025.9,641.0 L1026.4,640.3 L1026.9,639.4 L1027.4,638.3 L1027.9,637.1 L1028.4,636.1 L1028.9,635.3 L1029.4,635.0 L1029.9,635.1 L1030.4,635.9 L1030.9,637.1 L1031.4,638.6 L1031.9,640.2 L1032.4,641.9 L1032.9,643.3 L1033.4,644.5 L1033.9,645.3 L1034.4,645.7 L1034.9,645.5 L1035.4,644.7 L1035.9,642.9 L1036.4,640.2 L1036.9,636.4 L1037.4,631.7 L1037.9,626.6 L1038.4,621.7 L1038.9,617.6 L1039.4,614.8 L1039.9,613.2 L1040.4,612.7 L1040.9,612.6 L1041.4,612.6 L1041.9,612.7 L1042.4,613.1 L1042.9,614.5 L1043.4,617.1 L1043.9,620.9 L1044.4,625.8 L1044.9,630.9 L1045.4,635.8 L1045.9,639.8 L1046.4,642.9 L1046.9,645.0 L1047.4,646.3 L1047.9,647.0 L1048.4,647.4 L1048.9,647.5 L1049.4,647.6 L1049.9,647.6 L1050.4,647.6 L1050.9,647.5 L1051.4,647.5 L1051.9,647.4 L1052.4,647.4 L1052.9,647.4 L1053.4,647.3 L1053.9,647.3 L1054.4,647.2 L1054.9,647.2 L1055.4,647.1 L1055.9,647.1 L1056.4,647.1 L1056.9,647.0 L1057.4,647.0 L1057.9,647.0 L1058.4,647.0 L1058.9,646.9 L1059.4,646.9 L1059.9,646.9 L1060.4,646.9 L1060.9,646.8 L1061.4,646.8 L1061.9,646.8 L1062.4,646.7 L1062.9,646.7 L1063.4,646.6 L1063.9,646.6 L1064.4,646.5 L1064.9,646.5 L1065.4,646.5 L1065.9,646.4 L1066.4,646.5 L1066.9,646.5 L1067.4,646.5 L1067.9,646.6 L1068.4,646.7 L1068.9,646.8 L1069.4,646.9 L1069.9,647.0 L1070.4,647.2 L1070.9,647.3 L1071.4,647.4 L1071.9,647.5 L1072.4,647.6 L1072.9,647.6 L1073.4,647.7 L1073.9,647.7 L1074.4,647.8 L1074.9,647.8 L1075.4,647.8 L1075.9,647.9 L1076.4,647.9 L1076.9,647.9 L1077.4,647.9 L1077.9,647.9 L1078.0,648.8 Z" fill="#1f78b4"/>
<line x1="606.4" y1="649.2" x2="606.4" y2="654.8" stroke="#000" stroke-width="1.2"/>
<line x1="725.0" y1="649.2" x2="725.0" y2="654.8" stroke="#000" stroke-width="1.2"/>
<line x1="843.5" y1="649.2" x2="843.5" y2="654.8" stroke="#000" stroke-width="1.2"/>
<line x1="961.0" y1="649.2" x2="961.0" y2="654.8" stroke="#000" stroke-width="1.2"/>
<polygon points="623.6,664.8 625.4,668.2 629.1,668.8 626.5,671.5 627.0,675.3 623.6,673.6 620.2,675.3 620.7,671.5 618.1,668.8 621.8,668.2" fill="#e8447f"/>
<polygon points="666.2,664.8 668.0,668.2 671.7,668.8 669.1,671.5 669.6,675.3 666.2,673.6 662.8,675.3 663.3,671.5 660.7,668.8 664.4,668.2" fill="#e8447f"/>
<polygon points="675.4,664.8 677.2,668.2 680.9,668.8 678.3,671.5 678.8,675.3 675.4,673.6 672.0,675.3 672.5,671.5 669.9,668.8 673.6,668.2" fill="#e8447f"/>
<polygon points="722.0,664.8 723.8,668.2 727.5,668.8 724.9,671.5 725.4,675.3 722.0,673.6 718.6,675.3 719.1,671.5 716.5,668.8 720.2,668.2" fill="#e8447f"/>
<polygon points="728.0,664.8 729.8,668.2 733.5,668.8 730.9,671.5 731.4,675.3 728.0,673.6 724.6,675.3 725.1,671.5 722.5,668.8 726.2,668.2" fill="#e8447f"/>
<polygon points="786.0,664.8 787.8,668.2 791.5,668.8 788.9,671.5 789.4,675.3 786.0,673.6 782.6,675.3 783.1,671.5 780.5,668.8 784.2,668.2" fill="#e8447f"/>
<polygon points="790.2,664.8 792.0,668.2 795.7,668.8 793.1,671.5 793.6,675.3 790.2,673.6 786.8,675.3 787.3,671.5 784.7,668.8 788.4,668.2" fill="#e8447f"/>
<polygon points="794.5,664.8 796.3,668.2 800.0,668.8 797.4,671.5 797.9,675.3 794.5,673.6 791.1,675.3 791.6,671.5 789.0,668.8 792.7,668.2" fill="#e8447f"/>
<polygon points="888.0,664.8 889.8,668.2 893.5,668.8 890.9,671.5 891.4,675.3 888.0,673.6 884.6,675.3 885.1,671.5 882.5,668.8 886.2,668.2" fill="#e8447f"/>
<polygon points="1029.2,664.8 1031.0,668.2 1034.7,668.8 1032.1,671.5 1032.6,675.3 1029.2,673.6 1025.8,675.3 1026.3,671.5 1023.7,668.8 1027.4,668.2" fill="#e8447f"/>
<polygon points="1041.0,664.8 1042.8,668.2 1046.5,668.8 1043.9,671.5 1044.4,675.3 1041.0,673.6 1037.6,675.3 1038.1,671.5 1035.5,668.8 1039.2,668.2" fill="#e8447f"/>
<line x1="606.4" y1="675.0" x2="606.4" y2="681.0" stroke="#000" stroke-width="1.2"/>
<line x1="725.0" y1="675.0" x2="725.0" y2="681.0" stroke="#000" stroke-width="1.2"/>
<line x1="843.5" y1="675.0" x2="843.5" y2="681.0" stroke="#000" stroke-width="1.2"/>
<line x1="961.0" y1="675.0" x2="961.0" y2="681.0" stroke="#000" stroke-width="1.2"/>
<line x1="665.8" y1="698.6" x2="1077.3" y2="698.6" stroke="#444" stroke-width="1.9"/>
<rect x="606.4" y="692.0" width="40.3" height="13.3" fill="#b5cc6a"/>
<rect x="646.7" y="692.0" width="5.5" height="13.3" fill="#dcc183"/>
<rect x="652.2" y="692.0" width="6.5" height="13.3" fill="#eab58c"/>
<rect x="658.7" y="692.0" width="4.5" height="13.3" fill="#e0817a"/>
<rect x="663.2" y="692.0" width="4.8" height="13.3" fill="#c0504d"/>
<rect x="703.8" y="692.0" width="1.8" height="13.3" fill="#e3c05c"/>
<rect x="719.7" y="692.0" width="226.3" height="13.3" fill="#8c3b3b"/>
<rect x="908.9" y="692.0" width="15.0" height="13.3" fill="#6e70d2"/>
<rect x="967.6" y="692.0" width="2.2" height="13.3" fill="#9aa5cf"/>
<rect x="969.8" y="692.0" width="5.2" height="13.3" fill="#63803c"/>
<rect x="999.2" y="692.0" width="1.6" height="13.3" fill="#c9d29a"/>
<rect x="1006.8" y="692.0" width="8.2" height="13.3" fill="#e7bb76"/>
<rect x="1006.8" y="692.0" width="1.6" height="13.3" fill="#e9cf8f"/>
<rect x="1036.6" y="692.0" width="10.1" height="13.3" fill="#c6d690"/>
<rect x="1046.7" y="692.0" width="0.9" height="13.3" fill="#8c3b3b"/>
<rect x="1047.6" y="692.0" width="31.1" height="13.3" fill="#dca0dc"/>
<rect x="606.4" y="726.5" width="472.6" height="26.0" fill="#fafafc"/>
<rect x="663.7" y="724.5" width="4.3" height="28.0" fill="#efeff7"/>
<rect x="1036.7" y="724.5" width="8.7" height="28.0" fill="#eaeaf4"/>
<line x1="606.4" y1="755.3" x2="606.4" y2="760.9" stroke="#000" stroke-width="1.2"/>
<line x1="725.0" y1="755.3" x2="725.0" y2="760.9" stroke="#000" stroke-width="1.2"/>
<line x1="843.5" y1="755.3" x2="843.5" y2="760.9" stroke="#000" stroke-width="1.2"/>
<line x1="961.0" y1="755.3" x2="961.0" y2="760.9" stroke="#000" stroke-width="1.2"/>
<text x="601.4" y="779.0" font-size="18" fill="#000" stroke="#000" stroke-width="0.35" textLength="92.7" lengthAdjust="spacingAndGlyphs">53,670,000</text>
<text x="720.3" y="779.0" font-size="18" fill="#000" stroke="#000" stroke-width="0.35" textLength="92.7" lengthAdjust="spacingAndGlyphs">54,170,000</text>
<text x="838.9" y="779.0" font-size="18" fill="#000" stroke="#000" stroke-width="0.35" textLength="92.7" lengthAdjust="spacingAndGlyphs">54,670,000</text>
<text x="957.3" y="779.0" font-size="18" fill="#000" stroke="#000" stroke-width="0.35" textLength="92.7" lengthAdjust="spacingAndGlyphs">55,170,000</text>
<line x1="351.4" y1="334" x2="351.4" y2="593.8" stroke="#9a9a9a" stroke-width="4.2" stroke-dasharray="17.3 9" stroke-dashoffset="2.6" opacity="0.7"/>
<line x1="843.5" y1="334" x2="843.5" y2="593.8" stroke="#9a9a9a" stroke-width="4.2" stroke-dasharray="17.3 9" stroke-dashoffset="2.6" opacity="0.7"/>
<rect x="349.1" y="594.3" width="4.5" height="18.8" fill="#8c8c8c" opacity="0.5"/>
<rect x="349.1" y="649.8" width="4.5" height="76.0" fill="#8c8c8c" opacity="0.5"/>
<rect x="349.1" y="753.8" width="4.5" height="8.0" fill="#8c8c8c" opacity="0.5"/>
<rect x="841.4" y="594.3" width="4.5" height="18.8" fill="#8c8c8c" opacity="0.5"/>
<rect x="841.4" y="622.3" width="4.5" height="25.5" fill="#8c8c8c" opacity="0.5"/>
<rect x="841.4" y="649.8" width="4.5" height="17.0" fill="#8c8c8c" opacity="0.5"/>
<rect x="841.4" y="674.8" width="4.5" height="51.0" fill="#8c8c8c" opacity="0.5"/>
<rect x="841.4" y="753.8" width="4.5" height="9.0" fill="#8c8c8c" opacity="0.5"/>
<polygon points="350.8,664.8 352.6,668.2 356.3,668.8 353.7,671.5 354.2,675.3 350.8,673.6 347.4,675.3 347.9,671.5 345.3,668.8 349.0,668.2" fill="#e8447f"/>
<line x1="351.5" y1="595.2" x2="351.5" y2="601.9" stroke="#000" stroke-width="1.2"/>
<line x1="351.5" y1="649.2" x2="351.5" y2="654.8" stroke="#000" stroke-width="1.2"/>
<line x1="351.5" y1="675.0" x2="351.5" y2="681.0" stroke="#000" stroke-width="1.2"/>
<line x1="351.5" y1="755.3" x2="351.5" y2="760.9" stroke="#000" stroke-width="1.2"/>
<line x1="843.5" y1="595.2" x2="843.5" y2="601.9" stroke="#000" stroke-width="1.2"/>
<line x1="843.5" y1="649.2" x2="843.5" y2="654.8" stroke="#000" stroke-width="1.2"/>
<line x1="843.5" y1="675.0" x2="843.5" y2="681.0" stroke="#000" stroke-width="1.2"/>
<line x1="843.5" y1="755.3" x2="843.5" y2="760.9" stroke="#000" stroke-width="1.2"/>
<rect x="349.6" y="724.8" width="3.0" height="28.2" fill="#3b0a8a"/>
<path d="M350.3,725.0 v-3 q0,-4.6 5,-4.6 h16.5" fill="none" stroke="#000" stroke-width="2"/>
<text x="375.6" y="722.3" font-size="18" fill="#000" stroke="#000" stroke-width="0.35" font-style="italic" textLength="44.2" lengthAdjust="spacingAndGlyphs">ESRG</text>
<path d="M842.3,725.0 v-3 q0,-4.6 5,-4.6 h16.5" fill="none" stroke="#000" stroke-width="2"/>
<text x="867.6" y="722.3" font-size="18" fill="#000" stroke="#000" stroke-width="0.35" font-style="italic" textLength="44.2" lengthAdjust="spacingAndGlyphs">ESRG</text>
<text x="8.4" y="841.5" font-size="31" fill="#000" stroke="#000" stroke-width="0.35" font-weight="bold" textLength="21.7" lengthAdjust="spacingAndGlyphs">D</text>
<text x="114.8" y="835.8" font-size="18.8" fill="#000" stroke="#000" stroke-width="0.35" textLength="72.2" lengthAdjust="spacingAndGlyphs">H1 hESC</text>
<text x="607.4" y="835.8" font-size="18.6" fill="#000" stroke="#000" stroke-width="0.2" textLength="73.7" lengthAdjust="spacingAndGlyphs">H1 hESC</text>
<text x="607.4" y="854.2" font-size="18.6" fill="#000" stroke="#000" stroke-width="0.2" textLength="139.7" lengthAdjust="spacingAndGlyphs">differentiated to</text>
<text x="607.4" y="872.6" font-size="18.6" fill="#000" stroke="#000" stroke-width="0.2" textLength="79.7" lengthAdjust="spacingAndGlyphs">definitive</text>
<text x="607.4" y="891.0" font-size="18.6" fill="#000" stroke="#000" stroke-width="0.2" textLength="88.7" lengthAdjust="spacingAndGlyphs">endoderm</text>
<text x="9.5" y="946.4" font-size="18" fill="#7d1a22" stroke="#7d1a22" stroke-width="0.35" textLength="38.2" lengthAdjust="spacingAndGlyphs">Hi-C</text>
<text x="9.5" y="966.0" font-size="18" fill="#7d1a22" stroke="#7d1a22" stroke-width="0.35" textLength="50.6" lengthAdjust="spacingAndGlyphs">count</text>
<text x="9.5" y="1119.4" font-size="18" fill="#1f78b4" stroke="#1f78b4" stroke-width="0.35" textLength="46.2" lengthAdjust="spacingAndGlyphs">score</text>
<text x="9.5" y="1155.2" font-size="18" fill="#e8447f" stroke="#e8447f" stroke-width="0.35" textLength="84.9" lengthAdjust="spacingAndGlyphs">boundary</text>
<text x="9.5" y="1184.8" font-size="18" fill="#000" stroke="#000" stroke-width="0.35" textLength="52.6" lengthAdjust="spacingAndGlyphs">genes</text>
<text x="9.5" y="1221.0" font-size="18" fill="#3c0f7a" stroke="#3c0f7a" stroke-width="0.35" textLength="73.9" lengthAdjust="spacingAndGlyphs">RNA-seq</text>
<text x="9.5" y="1247.4" font-size="18" fill="#000" stroke="#000" stroke-width="0.35" textLength="40.2" lengthAdjust="spacingAndGlyphs">Chr3</text>
<text x="9.5" y="1268.0" font-size="18" fill="#000" stroke="#000" stroke-width="0.35" textLength="80.7" lengthAdjust="spacingAndGlyphs">(GRCh38)</text>
<g clip-path="url(#cp5)"><g filter="url(#nz)">
<rect x="111.8" y="817.8" width="471.2" height="258.4" fill="url(#g5_0)"/>
<g filter="url(#bl)">
<polygon points="302.0,1077.2 419.5,946.2 537.0,1077.2" fill="url(#g5_1)"/>
<polygon points="185.0,1077.2 267.0,984.9 349.0,1077.2" fill="url(#g5_2)"/>
<polygon points="396.5,1077.2 466.8,997.7 537.0,1077.2" fill="url(#g5_3)"/>
<polygon points="185.0,1077.2 243.0,1011.0 301.0,1077.2" fill="url(#g5_4)"/>
<polygon points="440.0,1077.2 488.5,1021.4 537.0,1077.2" fill="url(#g5_5)"/>
<polygon points="302.0,1077.2 349.2,1022.7 396.5,1077.2" fill="url(#g5_4)"/>
<polygon points="233.0,1077.2 264.5,1039.9 296.0,1077.2" fill="url(#g5_6)"/>
<polygon points="113.8,1077.2 140.9,1044.7 168.0,1077.2" fill="url(#g5_7)"/>
<polygon points="185.0,1077.2 209.0,1048.1 233.0,1077.2" fill="url(#g5_6)"/>
<polygon points="349.0,1077.2 372.8,1048.3 396.5,1077.2" fill="url(#g5_8)"/>
<polygon points="302.0,1077.2 325.5,1048.6 349.0,1077.2" fill="url(#g5_9)"/>
<polygon points="133.0,1077.2 150.5,1055.1 168.0,1077.2" fill="url(#g5_10)"/>
<polygon points="550.0,1077.2 565.5,1057.3 581.0,1077.2" fill="url(#g5_3)"/>
<polygon points="113.8,1077.2 123.4,1063.7 133.0,1077.2" fill="url(#g5_11)"/>
<polygon points="538.0,1077.2 544.0,1067.7 550.0,1077.2" fill="url(#g5_12)"/>
<line x1="537.0" y1="1074.2" x2="324.4" y2="842.7" stroke="#e23a28" stroke-width="4" opacity="0.12"/>
<circle cx="243.0" cy="1013.4" r="4" fill="#c01418" opacity="0.35"/>
<circle cx="209.0" cy="1050.2" r="3.5" fill="#c01418" opacity="0.45"/>
<circle cx="264.5" cy="1042.3" r="4" fill="#c01418" opacity="0.55"/>
<circle cx="466.8" cy="1000.7" r="5" fill="#c01418" opacity="0.5"/>
<circle cx="419.5" cy="948.6" r="4" fill="#c01418" opacity="0.2"/>
<circle cx="349.2" cy="1024.8" r="3.5" fill="#c01418" opacity="0.35"/>
</g>
<line x1="186.0" y1="1074.2" x2="269.0" y2="983.8" stroke="#fff3ee" stroke-width="1.6" opacity="0.75"/>
<line x1="186.0" y1="1074.2" x2="384.5" y2="858.0" stroke="#fff3ee" stroke-width="1.3" opacity="0.25"/>
<line x1="233.0" y1="1074.2" x2="408.0" y2="883.6" stroke="#fff3ee" stroke-width="1.2" opacity="0.28"/>
<line x1="349.0" y1="1074.2" x2="230.4" y2="945.0" stroke="#fff3ee" stroke-width="1.2" opacity="0.28"/>
<line x1="301.0" y1="1074.2" x2="206.4" y2="971.2" stroke="#fff3ee" stroke-width="1.2" opacity="0.25"/>
<line x1="470.0" y1="1074.2" x2="290.9" y2="879.2" stroke="#fff3ee" stroke-width="1.2" opacity="0.22"/>
<line x1="396.5" y1="1074.2" x2="254.2" y2="919.2" stroke="#fff3ee" stroke-width="1.2" opacity="0.2"/>
<line x1="440.0" y1="1074.2" x2="511.5" y2="996.3" stroke="#fff3ee" stroke-width="1.2" opacity="0.2"/>
<line x1="500.0" y1="1074.2" x2="305.9" y2="862.8" stroke="#fff3ee" stroke-width="1.2" opacity="0.2"/>
<line x1="302.0" y1="1074.2" x2="442.5" y2="921.2" stroke="#fff3ee" stroke-width="1.2" opacity="0.2"/>
<line x1="420.0" y1="1074.2" x2="501.5" y2="985.4" stroke="#fff3ee" stroke-width="1.2" opacity="0.16"/>
<line x1="520.0" y1="1074.2" x2="315.9" y2="851.9" stroke="#fff3ee" stroke-width="1.2" opacity="0.16"/>
</g></g>
<g clip-path="url(#cp6)"><g filter="url(#nz)">
<rect x="602.2" y="817.8" width="472.8" height="258.4" fill="url(#g6_0)"/>
<g filter="url(#bl)">
<polygon points="660.0,1077.2 850.5,867.4 1041.0,1077.2" fill="url(#g6_1)"/>
<polygon points="792.0,1077.2 910.0,946.1 1028.0,1077.2" fill="url(#g6_2)"/>
<polygon points="676.0,1077.2 759.0,984.1 842.0,1077.2" fill="url(#g6_2)"/>
<polygon points="888.0,1077.2 958.0,998.2 1028.0,1077.2" fill="url(#g6_3)"/>
<polygon points="676.0,1077.2 731.0,1014.5 786.0,1077.2" fill="url(#g6_4)"/>
<polygon points="792.0,1077.2 840.0,1022.1 888.0,1077.2" fill="url(#g6_5)"/>
<polygon points="940.0,1077.2 984.0,1026.4 1028.0,1077.2" fill="url(#g6_6)"/>
<polygon points="604.2,1077.2 632.1,1043.9 660.0,1077.2" fill="url(#g6_4)"/>
<polygon points="724.0,1077.2 750.0,1046.0 776.0,1077.2" fill="url(#g6_7)"/>
<polygon points="792.0,1077.2 817.0,1047.1 842.0,1077.2" fill="url(#g6_8)"/>
<polygon points="676.0,1077.2 700.0,1048.2 724.0,1077.2" fill="url(#g6_6)"/>
<polygon points="842.0,1077.2 865.0,1049.2 888.0,1077.2" fill="url(#g6_3)"/>
<polygon points="624.0,1077.2 642.0,1054.7 660.0,1077.2" fill="url(#g6_9)"/>
<polygon points="1041.0,1077.2 1057.0,1056.8 1073.0,1077.2" fill="url(#g6_10)"/>
<polygon points="604.2,1077.2 614.1,1063.5 624.0,1077.2" fill="url(#g6_11)"/>
<polygon points="1028.0,1077.2 1034.5,1067.1 1041.0,1077.2" fill="url(#g6_4)"/>
<line x1="1028.0" y1="1074.2" x2="815.1" y2="843.1" stroke="#e23a28" stroke-width="4" opacity="0.12"/>
<circle cx="750.0" cy="1048.4" r="4" fill="#c01418" opacity="0.55"/>
<circle cx="958.0" cy="1001.2" r="5" fill="#c01418" opacity="0.45"/>
<circle cx="910.0" cy="948.5" r="4" fill="#c01418" opacity="0.2"/>
<circle cx="840.0" cy="1024.2" r="3.5" fill="#c01418" opacity="0.3"/>
</g>
<line x1="676.0" y1="1074.2" x2="771.0" y2="971.1" stroke="#fff3ee" stroke-width="1.5" opacity="0.65"/>
<line x1="676.0" y1="1074.2" x2="875.5" y2="857.7" stroke="#fff3ee" stroke-width="1.3" opacity="0.3"/>
<line x1="724.0" y1="1074.2" x2="899.5" y2="883.7" stroke="#fff3ee" stroke-width="1.2" opacity="0.22"/>
<line x1="842.0" y1="1074.2" x2="722.1" y2="944.1" stroke="#fff3ee" stroke-width="1.2" opacity="0.25"/>
<line x1="792.0" y1="1074.2" x2="697.1" y2="971.2" stroke="#fff3ee" stroke-width="1.2" opacity="0.2"/>
<line x1="960.0" y1="1074.2" x2="781.1" y2="880.0" stroke="#fff3ee" stroke-width="1.2" opacity="0.2"/>
<line x1="888.0" y1="1074.2" x2="745.1" y2="919.1" stroke="#fff3ee" stroke-width="1.2" opacity="0.2"/>
<line x1="930.0" y1="1074.2" x2="1002.5" y2="995.5" stroke="#fff3ee" stroke-width="1.2" opacity="0.18"/>
<line x1="990.0" y1="1074.2" x2="796.1" y2="863.8" stroke="#fff3ee" stroke-width="1.2" opacity="0.18"/>
<line x1="792.0" y1="1074.2" x2="933.5" y2="920.6" stroke="#fff3ee" stroke-width="1.2" opacity="0.2"/>
<line x1="1010.0" y1="1074.2" x2="806.1" y2="852.9" stroke="#fff3ee" stroke-width="1.2" opacity="0.15"/>
</g></g>
<rect x="434.0" y="828.3" width="142.0" height="12.4" fill="url(#reds)"/>
<line x1="435.0" y1="841.5" x2="435.0" y2="846.5" stroke="#000" stroke-width="1.1"/>
<text x="437.0" y="865.3" font-size="18.5" fill="#000" stroke="#000" stroke-width="0.35" text-anchor="middle" textLength="11.2" lengthAdjust="spacingAndGlyphs">0</text>
<line x1="536.5" y1="841.5" x2="536.5" y2="846.5" stroke="#000" stroke-width="1.1"/>
<text x="538.5" y="865.3" font-size="18.5" fill="#000" stroke="#000" stroke-width="0.35" text-anchor="middle" textLength="20.5" lengthAdjust="spacingAndGlyphs">10</text>
<text x="461.0" y="888.9" font-size="19" fill="#000" stroke="#000" stroke-width="0.35" textLength="90.0" lengthAdjust="spacingAndGlyphs">log(count)</text>
<rect x="925.5" y="828.5" width="142.5" height="12.3" fill="url(#reds)"/>
<line x1="926.4" y1="841.6" x2="926.4" y2="846.5" stroke="#000" stroke-width="1.1"/>
<text x="927.9" y="865.3" font-size="18.5" fill="#000" stroke="#000" stroke-width="0.35" text-anchor="middle" textLength="11.2" lengthAdjust="spacingAndGlyphs">0</text>
<line x1="1004.0" y1="841.6" x2="1004.0" y2="846.5" stroke="#000" stroke-width="1.1"/>
<text x="1005.5" y="865.3" font-size="18.5" fill="#000" stroke="#000" stroke-width="0.35" text-anchor="middle" textLength="11.2" lengthAdjust="spacingAndGlyphs">5</text>
<text x="952.2" y="888.9" font-size="19" fill="#000" stroke="#000" stroke-width="0.35" textLength="90.2" lengthAdjust="spacingAndGlyphs">log(count)</text>
<line x1="114.0" y1="1075.8" x2="114.0" y2="1082.5" stroke="#000" stroke-width="1.2"/>
<line x1="231.3" y1="1075.8" x2="231.3" y2="1082.5" stroke="#000" stroke-width="1.2"/>
<line x1="349.0" y1="1075.8" x2="349.0" y2="1082.5" stroke="#000" stroke-width="1.2"/>
<line x1="467.4" y1="1075.8" x2="467.4" y2="1082.5" stroke="#000" stroke-width="1.2"/>
<path d="M113.6,1129.4 L113.6,1128.2 L114.1,1128.1 L114.6,1128.0 L115.1,1127.8 L115.6,1127.6 L116.1,1127.3 L116.6,1127.0 L117.1,1126.7 L117.6,1126.4 L118.1,1126.1 L118.6,1125.8 L119.1,1125.6 L119.6,1125.4 L120.1,1125.3 L120.6,1125.3 L121.1,1125.4 L121.6,1125.5 L122.1,1125.7 L122.6,1126.0 L123.1,1126.2 L123.6,1126.5 L124.1,1126.8 L124.6,1127.0 L125.1,1127.2 L125.6,1127.4 L126.1,1127.6 L126.6,1127.6 L127.1,1127.6 L127.6,1127.6 L128.1,1127.4 L128.6,1127.0 L129.1,1126.6 L129.6,1125.9 L130.1,1125.1 L130.6,1124.1 L131.1,1123.0 L131.6,1121.9 L132.1,1120.9 L132.6,1120.1 L133.1,1119.5 L133.6,1119.4 L134.1,1119.6 L134.6,1120.2 L135.1,1121.0 L135.6,1122.1 L136.1,1123.2 L136.6,1124.3 L137.1,1125.4 L137.6,1126.2 L138.1,1126.9 L138.6,1127.5 L139.1,1127.8 L139.6,1128.1 L140.1,1128.3 L140.6,1128.4 L141.1,1128.4 L141.6,1128.5 L142.1,1128.5 L142.6,1128.5 L143.1,1128.5 L143.6,1128.5 L144.1,1128.5 L144.6,1128.5 L145.1,1128.5 L145.6,1128.5 L146.1,1128.5 L146.6,1128.5 L147.1,1128.5 L147.6,1128.5 L148.1,1128.5 L148.6,1128.5 L149.1,1128.5 L149.6,1128.5 L150.1,1128.5 L150.6,1128.5 L151.1,1128.5 L151.6,1128.5 L152.1,1128.5 L152.6,1128.5 L153.1,1128.5 L153.6,1128.5 L154.1,1128.5 L154.6,1128.5 L155.1,1128.5 L155.6,1128.5 L156.1,1128.5 L156.6,1128.5 L157.1,1128.5 L157.6,1128.5 L158.1,1128.5 L158.6,1128.4 L159.1,1128.4 L159.6,1128.4 L160.1,1128.4 L160.6,1128.4 L161.1,1128.3 L161.6,1128.3 L162.1,1128.3 L162.6,1128.2 L163.1,1128.2 L163.6,1128.1 L164.1,1128.0 L164.6,1127.9 L165.1,1127.8 L165.6,1127.7 L166.1,1127.6 L166.6,1127.5 L167.1,1127.3 L167.6,1127.1 L168.1,1126.9 L168.6,1126.6 L169.1,1126.2 L169.6,1125.7 L170.1,1125.0 L170.6,1124.1 L171.1,1123.0 L171.6,1121.5 L172.1,1119.8 L172.6,1117.9 L173.1,1115.9 L173.6,1113.9 L174.1,1112.2 L174.6,1111.0 L175.1,1110.3 L175.6,1110.4 L176.1,1111.2 L176.6,1112.6 L177.1,1114.5 L177.6,1116.6 L178.1,1118.9 L178.6,1121.0 L179.1,1122.8 L179.6,1124.2 L180.1,1125.2 L180.6,1125.6 L181.1,1125.3 L181.6,1124.0 L182.1,1121.6 L182.6,1118.2 L183.1,1113.9 L183.6,1109.7 L184.1,1106.4 L184.6,1104.8 L185.1,1105.4 L185.6,1108.1 L186.1,1112.0 L186.6,1116.3 L187.1,1120.2 L187.6,1123.2 L188.1,1125.2 L188.6,1126.3 L189.1,1126.9 L189.6,1127.2 L190.1,1127.3 L190.6,1127.3 L191.1,1127.3 L191.6,1127.2 L192.1,1127.2 L192.6,1127.2 L193.1,1127.2 L193.6,1127.2 L194.1,1127.2 L194.6,1127.2 L195.1,1127.2 L195.6,1127.2 L196.1,1127.2 L196.6,1127.1 L197.1,1127.1 L197.6,1127.1 L198.1,1127.1 L198.6,1127.1 L199.1,1127.1 L199.6,1127.1 L200.1,1127.1 L200.6,1127.1 L201.1,1127.1 L201.6,1127.0 L202.1,1127.0 L202.6,1127.0 L203.1,1127.0 L203.6,1127.0 L204.1,1127.0 L204.6,1127.0 L205.1,1126.9 L205.6,1126.9 L206.1,1126.9 L206.6,1126.9 L207.1,1126.9 L207.6,1126.9 L208.1,1126.9 L208.6,1126.9 L209.1,1127.0 L209.6,1127.0 L210.1,1127.1 L210.6,1127.1 L211.1,1127.2 L211.6,1127.2 L212.1,1127.3 L212.6,1127.4 L213.1,1127.5 L213.6,1127.6 L214.1,1127.6 L214.6,1127.7 L215.1,1127.8 L215.6,1127.9 L216.1,1127.9 L216.6,1128.0 L217.1,1128.0 L217.6,1128.0 L218.1,1128.0 L218.6,1127.9 L219.1,1127.9 L219.6,1127.7 L220.1,1127.6 L220.6,1127.4 L221.1,1127.2 L221.6,1127.0 L222.1,1126.8 L222.6,1126.6 L223.1,1126.5 L223.6,1126.4 L224.1,1126.4 L224.6,1126.5 L225.1,1126.6 L225.6,1126.7 L226.1,1126.8 L226.6,1126.8 L227.1,1126.8 L227.6,1126.6 L228.1,1126.2 L228.6,1125.5 L229.1,1124.6 L229.6,1123.5 L230.1,1122.1 L230.6,1120.6 L231.1,1119.0 L231.6,1117.6 L232.1,1116.5 L232.6,1115.8 L233.1,1115.7 L233.6,1116.1 L234.1,1117.0 L234.6,1118.2 L235.1,1119.8 L235.6,1121.4 L236.1,1122.9 L236.6,1124.3 L237.1,1125.5 L237.6,1126.5 L238.1,1127.2 L238.6,1127.7 L239.1,1128.0 L239.6,1128.2 L240.1,1128.3 L240.6,1128.4 L241.1,1128.5 L241.6,1128.5 L242.1,1128.5 L242.6,1128.5 L243.1,1128.5 L243.6,1128.5 L244.1,1128.5 L244.6,1128.5 L245.1,1128.5 L245.6,1128.5 L246.1,1128.5 L246.6,1128.5 L247.1,1128.5 L247.6,1128.5 L248.1,1128.5 L248.6,1128.5 L249.1,1128.5 L249.6,1128.5 L250.1,1128.5 L250.6,1128.5 L251.1,1128.5 L251.6,1128.5 L252.1,1128.5 L252.6,1128.5 L253.1,1128.5 L253.6,1128.4 L254.1,1128.4 L254.6,1128.4 L255.1,1128.3 L255.6,1128.3 L256.1,1128.2 L256.6,1128.2 L257.1,1128.1 L257.6,1128.1 L258.1,1128.1 L258.6,1128.1 L259.1,1128.1 L259.6,1128.2 L260.1,1128.2 L260.6,1128.3 L261.1,1128.3 L261.6,1128.4 L262.1,1128.4 L262.6,1128.4 L263.1,1128.5 L263.6,1128.5 L264.1,1128.5 L264.6,1128.5 L265.1,1128.5 L265.6,1128.5 L266.1,1128.5 L266.6,1128.5 L267.1,1128.5 L267.6,1128.5 L268.1,1128.5 L268.6,1128.5 L269.1,1128.5 L269.6,1128.5 L270.1,1128.5 L270.6,1128.5 L271.1,1128.5 L271.6,1128.5 L272.1,1128.5 L272.6,1128.5 L273.1,1128.5 L273.6,1128.5 L274.1,1128.5 L274.6,1128.5 L275.1,1128.5 L275.6,1128.5 L276.1,1128.4 L276.6,1128.4 L277.1,1128.4 L277.6,1128.4 L278.1,1128.4 L278.6,1128.4 L279.1,1128.3 L279.6,1128.3 L280.1,1128.3 L280.6,1128.2 L281.1,1128.2 L281.6,1128.1 L282.1,1128.0 L282.6,1127.9 L283.1,1127.8 L283.6,1127.7 L284.1,1127.5 L284.6,1127.3 L285.1,1127.1 L285.6,1126.9 L286.1,1126.6 L286.6,1126.3 L287.1,1126.0 L287.6,1125.7 L288.1,1125.4 L288.6,1125.0 L289.1,1124.7 L289.6,1124.3 L290.1,1124.0 L290.6,1123.7 L291.1,1123.3 L291.6,1122.9 L292.1,1122.4 L292.6,1121.6 L293.1,1120.5 L293.6,1118.9 L294.1,1117.0 L294.6,1114.8 L295.1,1112.6 L295.6,1111.0 L296.1,1110.1 L296.6,1110.3 L297.1,1111.5 L297.6,1113.4 L298.1,1115.4 L298.6,1116.8 L299.1,1117.2 L299.6,1116.1 L300.1,1113.7 L300.6,1110.6 L301.1,1107.6 L301.6,1105.8 L302.1,1105.8 L302.6,1107.7 L303.1,1111.2 L303.6,1115.3 L304.1,1119.2 L304.6,1122.5 L305.1,1124.8 L305.6,1126.2 L306.1,1127.0 L306.6,1127.5 L307.1,1127.6 L307.6,1127.7 L308.1,1127.8 L308.6,1127.9 L309.1,1127.9 L309.6,1128.0 L310.1,1128.0 L310.6,1128.1 L311.1,1128.1 L311.6,1128.2 L312.1,1128.2 L312.6,1128.3 L313.1,1128.3 L313.6,1128.4 L314.1,1128.4 L314.6,1128.4 L315.1,1128.4 L315.6,1128.5 L316.1,1128.5 L316.6,1128.5 L317.1,1128.5 L317.6,1128.5 L318.1,1128.5 L318.6,1128.5 L319.1,1128.5 L319.6,1128.5 L320.1,1128.5 L320.6,1128.5 L321.1,1128.5 L321.6,1128.4 L322.1,1128.3 L322.6,1128.2 L323.1,1128.0 L323.6,1127.8 L324.1,1127.4 L324.6,1127.0 L325.1,1126.6 L325.6,1126.1 L326.1,1125.8 L326.6,1125.5 L327.1,1125.5 L327.6,1125.6 L328.1,1125.9 L328.6,1126.3 L329.1,1126.7 L329.6,1127.1 L330.1,1127.5 L330.6,1127.8 L331.1,1128.0 L331.6,1128.1 L332.1,1128.2 L332.6,1128.2 L333.1,1128.2 L333.6,1128.2 L334.1,1128.1 L334.6,1128.1 L335.1,1128.1 L335.6,1128.0 L336.1,1128.0 L336.6,1128.0 L337.1,1127.9 L337.6,1127.9 L338.1,1127.9 L338.6,1127.8 L339.1,1127.8 L339.6,1127.8 L340.1,1127.8 L340.6,1127.8 L341.1,1127.8 L341.6,1127.7 L342.1,1127.7 L342.6,1127.7 L343.1,1127.6 L343.6,1127.5 L344.1,1127.1 L344.6,1126.5 L345.1,1125.3 L345.6,1123.4 L346.1,1120.5 L346.6,1116.5 L347.1,1111.5 L347.6,1105.8 L348.1,1100.2 L348.6,1095.4 L349.1,1092.4 L349.6,1091.6 L350.1,1093.4 L350.6,1097.3 L351.1,1102.5 L351.6,1108.3 L352.1,1113.9 L352.6,1118.5 L353.1,1122.1 L353.6,1124.7 L354.1,1126.3 L354.6,1127.3 L355.1,1127.8 L355.6,1128.1 L356.1,1128.2 L356.6,1128.3 L357.1,1128.4 L357.6,1128.4 L358.1,1128.4 L358.6,1128.4 L359.1,1128.4 L359.6,1128.4 L360.1,1128.4 L360.6,1128.5 L361.1,1128.5 L361.6,1128.5 L362.1,1128.5 L362.6,1128.5 L363.1,1128.5 L363.6,1128.5 L364.1,1128.4 L364.6,1128.4 L365.1,1128.4 L365.6,1128.4 L366.1,1128.3 L366.6,1128.3 L367.1,1128.2 L367.6,1128.1 L368.1,1127.9 L368.6,1127.8 L369.1,1127.7 L369.6,1127.5 L370.1,1127.3 L370.6,1127.1 L371.1,1127.0 L371.6,1126.8 L372.1,1126.7 L372.6,1126.6 L373.1,1126.6 L373.6,1126.6 L374.1,1126.7 L374.6,1126.8 L375.1,1126.9 L375.6,1127.1 L376.1,1127.2 L376.6,1127.4 L377.1,1127.6 L377.6,1127.7 L378.1,1127.8 L378.6,1128.0 L379.1,1128.0 L379.6,1128.1 L380.1,1128.2 L380.6,1128.2 L381.1,1128.3 L381.6,1128.3 L382.1,1128.3 L382.6,1128.3 L383.1,1128.3 L383.6,1128.3 L384.1,1128.3 L384.6,1128.2 L385.1,1128.2 L385.6,1128.2 L386.1,1128.2 L386.6,1128.2 L387.1,1128.1 L387.6,1128.1 L388.1,1128.1 L388.6,1128.0 L389.1,1128.0 L389.6,1127.9 L390.1,1127.7 L390.6,1127.5 L391.1,1127.0 L391.6,1126.4 L392.1,1125.2 L392.6,1123.5 L393.1,1120.9 L393.6,1117.4 L394.1,1112.9 L394.6,1107.9 L395.1,1102.7 L395.6,1098.1 L396.1,1094.8 L396.6,1093.2 L397.1,1093.6 L397.6,1095.6 L398.1,1098.7 L398.6,1102.2 L399.1,1105.6 L399.6,1108.6 L400.1,1111.2 L400.6,1113.3 L401.1,1115.2 L401.6,1116.8 L402.1,1118.4 L402.6,1119.8 L403.1,1121.2 L403.6,1122.4 L404.1,1123.5 L404.6,1124.5 L405.1,1125.3 L405.6,1126.0 L406.1,1126.6 L406.6,1127.0 L407.1,1127.4 L407.6,1127.7 L408.1,1127.9 L408.6,1128.0 L409.1,1128.2 L409.6,1128.2 L410.1,1128.3 L410.6,1128.4 L411.1,1128.4 L411.6,1128.4 L412.1,1128.4 L412.6,1128.5 L413.1,1128.5 L413.6,1128.5 L414.1,1128.5 L414.6,1128.5 L415.1,1128.5 L415.6,1128.5 L416.1,1128.5 L416.6,1128.5 L417.1,1128.5 L417.6,1128.5 L418.1,1128.5 L418.6,1128.5 L419.1,1128.5 L419.6,1128.5 L420.1,1128.5 L420.6,1128.5 L421.1,1128.5 L421.6,1128.5 L422.1,1128.5 L422.6,1128.5 L423.1,1128.5 L423.6,1128.5 L424.1,1128.5 L424.6,1128.5 L425.1,1128.5 L425.6,1128.5 L426.1,1128.5 L426.6,1128.5 L427.1,1128.5 L427.6,1128.5 L428.1,1128.5 L428.6,1128.5 L429.1,1128.5 L429.6,1128.5 L430.1,1128.5 L430.6,1128.5 L431.1,1128.5 L431.6,1128.5 L432.1,1128.5 L432.6,1128.5 L433.1,1128.5 L433.6,1128.5 L434.1,1128.5 L434.6,1128.5 L435.1,1128.5 L435.6,1128.5 L436.1,1128.5 L436.6,1128.5 L437.1,1128.5 L437.6,1128.5 L438.1,1128.5 L438.6,1128.5 L439.1,1128.5 L439.6,1128.5 L440.1,1128.5 L440.6,1128.5 L441.1,1128.5 L441.6,1128.5 L442.1,1128.5 L442.6,1128.5 L443.1,1128.5 L443.6,1128.5 L444.1,1128.5 L444.6,1128.5 L445.1,1128.5 L445.6,1128.5 L446.1,1128.5 L446.6,1128.5 L447.1,1128.5 L447.6,1128.5 L448.1,1128.5 L448.6,1128.5 L449.1,1128.5 L449.6,1128.5 L450.1,1128.5 L450.6,1128.5 L451.1,1128.5 L451.6,1128.5 L452.1,1128.5 L452.6,1128.5 L453.1,1128.5 L453.6,1128.5 L454.1,1128.5 L454.6,1128.5 L455.1,1128.5 L455.6,1128.5 L456.1,1128.5 L456.6,1128.5 L457.1,1128.5 L457.6,1128.5 L458.1,1128.5 L458.6,1128.5 L459.1,1128.5 L459.6,1128.5 L460.1,1128.5 L460.6,1128.5 L461.1,1128.4 L461.6,1128.4 L462.1,1128.4 L462.6,1128.4 L463.1,1128.4 L463.6,1128.3 L464.1,1128.3 L464.6,1128.3 L465.1,1128.2 L465.6,1128.2 L466.1,1128.1 L466.6,1128.1 L467.1,1128.0 L467.6,1127.9 L468.1,1127.9 L468.6,1127.8 L469.1,1127.7 L469.6,1127.7 L470.1,1127.6 L470.6,1127.5 L471.1,1127.4 L471.6,1127.3 L472.1,1127.2 L472.6,1127.1 L473.1,1127.0 L473.6,1126.9 L474.1,1126.7 L474.6,1126.6 L475.1,1126.4 L475.6,1126.2 L476.1,1126.0 L476.6,1125.8 L477.1,1125.6 L477.6,1125.4 L478.1,1125.2 L478.6,1125.1 L479.1,1124.9 L479.6,1124.8 L480.1,1124.7 L480.6,1124.7 L481.1,1124.7 L481.6,1124.8 L482.1,1124.9 L482.6,1125.1 L483.1,1125.3 L483.6,1125.5 L484.1,1125.8 L484.6,1126.0 L485.1,1126.3 L485.6,1126.6 L486.1,1126.8 L486.6,1127.0 L487.1,1127.2 L487.6,1127.3 L488.1,1127.4 L488.6,1127.5 L489.1,1127.5 L489.6,1127.6 L490.1,1127.5 L490.6,1127.5 L491.1,1127.4 L491.6,1127.3 L492.1,1127.2 L492.6,1127.1 L493.1,1126.9 L493.6,1126.8 L494.1,1126.7 L494.6,1126.6 L495.1,1126.5 L495.6,1126.5 L496.1,1126.5 L496.6,1126.5 L497.1,1126.6 L497.6,1126.6 L498.1,1126.7 L498.6,1126.9 L499.1,1127.0 L499.6,1127.2 L500.1,1127.3 L500.6,1127.5 L501.1,1127.7 L501.6,1127.8 L502.1,1127.9 L502.6,1128.0 L503.1,1128.1 L503.6,1128.2 L504.1,1128.3 L504.6,1128.3 L505.1,1128.4 L505.6,1128.4 L506.1,1128.4 L506.6,1128.5 L507.1,1128.5 L507.6,1128.5 L508.1,1128.5 L508.6,1128.5 L509.1,1128.5 L509.6,1128.5 L510.1,1128.5 L510.6,1128.5 L511.1,1128.5 L511.6,1128.5 L512.1,1128.5 L512.6,1128.5 L513.1,1128.5 L513.6,1128.5 L514.1,1128.5 L514.6,1128.5 L515.1,1128.5 L515.6,1128.5 L516.1,1128.5 L516.6,1128.5 L517.1,1128.5 L517.6,1128.5 L518.1,1128.4 L518.6,1128.4 L519.1,1128.4 L519.6,1128.3 L520.1,1128.2 L520.6,1128.1 L521.1,1128.0 L521.6,1127.8 L522.1,1127.6 L522.6,1127.4 L523.1,1127.1 L523.6,1126.8 L524.1,1126.5 L524.6,1126.1 L525.1,1125.7 L525.6,1125.2 L526.1,1124.8 L526.6,1124.3 L527.1,1123.9 L527.6,1123.5 L528.1,1123.1 L528.6,1122.8 L529.1,1122.6 L529.6,1122.4 L530.1,1122.3 L530.6,1122.2 L531.1,1122.0 L531.6,1121.8 L532.1,1121.3 L532.6,1120.5 L533.1,1119.2 L533.6,1117.4 L534.1,1115.1 L534.6,1112.2 L535.1,1108.9 L535.6,1105.5 L536.1,1102.3 L536.6,1099.6 L537.1,1097.8 L537.6,1097.1 L538.1,1097.7 L538.6,1099.6 L539.1,1102.4 L539.6,1105.9 L540.1,1109.8 L540.6,1113.6 L541.1,1117.2 L541.6,1120.2 L542.1,1122.7 L542.6,1124.5 L543.1,1125.9 L543.6,1126.7 L544.1,1127.2 L544.6,1127.3 L545.1,1127.1 L545.6,1126.2 L546.1,1124.5 L546.6,1121.8 L547.1,1117.8 L547.6,1112.7 L548.1,1106.9 L548.6,1101.4 L549.1,1097.2 L549.6,1095.3 L550.1,1096.1 L550.6,1099.4 L551.1,1104.6 L551.6,1110.4 L552.1,1115.8 L552.6,1120.3 L553.1,1123.5 L553.6,1125.6 L554.1,1126.8 L554.6,1127.5 L555.1,1127.9 L555.6,1128.0 L556.1,1128.1 L556.6,1128.2 L557.1,1128.2 L557.6,1128.2 L558.1,1128.3 L558.6,1128.3 L559.1,1128.3 L559.6,1128.3 L560.1,1128.2 L560.6,1128.2 L561.1,1128.2 L561.6,1128.1 L562.1,1128.1 L562.6,1128.0 L563.1,1128.0 L563.6,1127.9 L564.1,1127.8 L564.6,1127.7 L565.1,1127.7 L565.6,1127.6 L566.1,1127.5 L566.6,1127.4 L567.1,1127.3 L567.6,1127.3 L568.1,1127.2 L568.6,1127.2 L569.1,1127.1 L569.6,1127.1 L570.1,1127.1 L570.6,1127.0 L571.1,1127.0 L571.6,1127.0 L572.1,1127.0 L572.6,1127.1 L573.1,1127.1 L573.6,1127.1 L574.1,1127.1 L574.6,1127.1 L575.1,1127.1 L575.6,1127.0 L576.1,1127.0 L576.6,1127.0 L577.1,1126.9 L577.6,1126.8 L578.1,1126.8 L578.6,1126.7 L579.1,1126.6 L579.6,1126.6 L580.1,1126.5 L580.6,1126.5 L581.1,1126.4 L581.6,1126.4 L582.1,1126.4 L582.6,1126.4 L583.1,1126.5 L583.6,1126.5 L584.1,1126.6 L584.6,1126.7 L584.8,1129.4 Z" fill="#1f78b4"/>
<line x1="114.0" y1="1129.8" x2="114.0" y2="1135.4" stroke="#000" stroke-width="1.2"/>
<line x1="231.3" y1="1129.8" x2="231.3" y2="1135.4" stroke="#000" stroke-width="1.2"/>
<line x1="349.0" y1="1129.8" x2="349.0" y2="1135.4" stroke="#000" stroke-width="1.2"/>
<line x1="467.4" y1="1129.8" x2="467.4" y2="1135.4" stroke="#000" stroke-width="1.2"/>
<polygon points="132.3,1145.4 134.1,1148.8 137.8,1149.4 135.2,1152.1 135.7,1155.9 132.3,1154.2 128.9,1155.9 129.4,1152.1 126.8,1149.4 130.5,1148.8" fill="#e8447f"/>
<polygon points="174.2,1145.4 176.0,1148.8 179.7,1149.4 177.1,1152.1 177.6,1155.9 174.2,1154.2 170.8,1155.9 171.3,1152.1 168.7,1149.4 172.4,1148.8" fill="#e8447f"/>
<polygon points="185.0,1145.4 186.8,1148.8 190.5,1149.4 187.9,1152.1 188.4,1155.9 185.0,1154.2 181.6,1155.9 182.1,1152.1 179.5,1149.4 183.2,1148.8" fill="#e8447f"/>
<polygon points="231.1,1145.4 232.9,1148.8 236.6,1149.4 234.0,1152.1 234.5,1155.9 231.1,1154.2 227.7,1155.9 228.2,1152.1 225.6,1149.4 229.3,1148.8" fill="#e8447f"/>
<polygon points="302.6,1145.4 304.4,1148.8 308.1,1149.4 305.5,1152.1 306.0,1155.9 302.6,1154.2 299.2,1155.9 299.7,1152.1 297.1,1149.4 300.8,1148.8" fill="#e8447f"/>
<polygon points="349.0,1145.4 350.8,1148.8 354.5,1149.4 351.9,1152.1 352.4,1155.9 349.0,1154.2 345.6,1155.9 346.1,1152.1 343.5,1149.4 347.2,1148.8" fill="#e8447f"/>
<polygon points="396.0,1145.4 397.8,1148.8 401.5,1149.4 398.9,1152.1 399.4,1155.9 396.0,1154.2 392.6,1155.9 393.1,1152.1 390.5,1149.4 394.2,1148.8" fill="#e8447f"/>
<polygon points="537.7,1145.4 539.5,1148.8 543.2,1149.4 540.6,1152.1 541.1,1155.9 537.7,1154.2 534.3,1155.9 534.8,1152.1 532.2,1149.4 535.9,1148.8" fill="#e8447f"/>
<polygon points="550.2,1145.4 552.0,1148.8 555.7,1149.4 553.1,1152.1 553.6,1155.9 550.2,1154.2 546.8,1155.9 547.3,1152.1 544.7,1149.4 548.4,1148.8" fill="#e8447f"/>
<line x1="114.0" y1="1155.6" x2="114.0" y2="1161.6" stroke="#000" stroke-width="1.2"/>
<line x1="231.3" y1="1155.6" x2="231.3" y2="1161.6" stroke="#000" stroke-width="1.2"/>
<line x1="349.0" y1="1155.6" x2="349.0" y2="1161.6" stroke="#000" stroke-width="1.2"/>
<line x1="467.4" y1="1155.6" x2="467.4" y2="1161.6" stroke="#000" stroke-width="1.2"/>
<line x1="176.0" y1="1179.2" x2="584.0" y2="1179.2" stroke="#222" stroke-width="1.9"/>
<rect x="113.6" y="1172.6" width="41.8" height="13.3" fill="#b5cc6a"/>
<rect x="155.4" y="1172.6" width="9.3" height="13.3" fill="#c8d692"/>
<rect x="164.7" y="1172.6" width="3.7" height="13.3" fill="#8a5a2b"/>
<rect x="168.4" y="1172.6" width="5.8" height="13.3" fill="#e8a545"/>
<rect x="174.2" y="1172.6" width="1.2" height="13.3" fill="#c0504d"/>
<rect x="175.4" y="1172.6" width="1.2" height="13.3" fill="#e6a0c0"/>
<rect x="210.0" y="1172.6" width="1.4" height="13.3" fill="#d9a0d9"/>
<rect x="228.2" y="1172.6" width="226.4" height="13.3" fill="#9c9cde"/>
<rect x="405.8" y="1172.6" width="8.8" height="13.3" fill="#7d7dd4"/>
<rect x="473.3" y="1172.6" width="7.5" height="13.3" fill="#6b8c3a"/>
<rect x="473.3" y="1172.6" width="1.3" height="13.3" fill="#8aa85a"/>
<rect x="488.8" y="1172.6" width="20.8" height="13.3" fill="#e3c78f"/>
<rect x="513.4" y="1172.6" width="10.0" height="13.3" fill="#5c5cb4"/>
<rect x="544.7" y="1172.6" width="6.3" height="13.3" fill="#8585d5"/>
<rect x="551.0" y="1172.6" width="5.0" height="13.3" fill="#6b8c3a"/>
<rect x="556.0" y="1172.6" width="24.3" height="13.3" fill="#e3c78f"/>
<rect x="580.3" y="1172.6" width="4.5" height="13.3" fill="#8f9b45"/>
<rect x="113.6" y="1207.1" width="472.2" height="26.0" fill="#fafafc"/>
<rect x="171.7" y="1205.1" width="5.0" height="28.0" fill="#ececf5"/>
<line x1="114.0" y1="1235.9" x2="114.0" y2="1241.5" stroke="#000" stroke-width="1.2"/>
<line x1="231.3" y1="1235.9" x2="231.3" y2="1241.5" stroke="#000" stroke-width="1.2"/>
<line x1="349.0" y1="1235.9" x2="349.0" y2="1241.5" stroke="#000" stroke-width="1.2"/>
<line x1="467.4" y1="1235.9" x2="467.4" y2="1241.5" stroke="#000" stroke-width="1.2"/>
<text x="110.0" y="1259.6" font-size="18" fill="#000" stroke="#000" stroke-width="0.35" textLength="92.7" lengthAdjust="spacingAndGlyphs">53,630,000</text>
<text x="226.5" y="1259.6" font-size="18" fill="#000" stroke="#000" stroke-width="0.35" textLength="92.7" lengthAdjust="spacingAndGlyphs">54,130,000</text>
<text x="345.0" y="1259.6" font-size="18" fill="#000" stroke="#000" stroke-width="0.35" textLength="92.7" lengthAdjust="spacingAndGlyphs">54,630,000</text>
<text x="464.0" y="1259.6" font-size="18" fill="#000" stroke="#000" stroke-width="0.35" textLength="92.7" lengthAdjust="spacingAndGlyphs">55,130,000</text>
<line x1="604.3" y1="1075.8" x2="604.3" y2="1082.5" stroke="#000" stroke-width="1.2"/>
<line x1="723.0" y1="1075.8" x2="723.0" y2="1082.5" stroke="#000" stroke-width="1.2"/>
<line x1="841.0" y1="1075.8" x2="841.0" y2="1082.5" stroke="#000" stroke-width="1.2"/>
<line x1="958.4" y1="1075.8" x2="958.4" y2="1082.5" stroke="#000" stroke-width="1.2"/>
<path d="M604.2,1129.4 L604.2,1128.5 L604.7,1128.5 L605.2,1128.5 L605.7,1128.5 L606.2,1128.4 L606.7,1128.4 L607.2,1128.4 L607.7,1128.3 L608.2,1128.3 L608.7,1128.2 L609.2,1128.1 L609.7,1128.0 L610.2,1127.9 L610.7,1127.7 L611.2,1127.5 L611.7,1127.2 L612.2,1127.0 L612.7,1126.7 L613.2,1126.3 L613.7,1126.0 L614.2,1125.6 L614.7,1125.2 L615.2,1124.9 L615.7,1124.5 L616.2,1124.1 L616.7,1123.8 L617.2,1123.5 L617.7,1123.1 L618.2,1122.8 L618.7,1122.4 L619.2,1121.9 L619.7,1121.3 L620.2,1120.5 L620.7,1119.5 L621.2,1118.4 L621.7,1117.2 L622.2,1116.0 L622.7,1114.9 L623.2,1114.2 L623.7,1113.9 L624.2,1114.2 L624.7,1114.9 L625.2,1116.1 L625.7,1117.6 L626.2,1119.2 L626.7,1120.9 L627.2,1122.5 L627.7,1123.8 L628.2,1124.9 L628.7,1125.7 L629.2,1126.4 L629.7,1126.8 L630.2,1127.1 L630.7,1127.3 L631.2,1127.5 L631.7,1127.6 L632.2,1127.7 L632.7,1127.8 L633.2,1127.9 L633.7,1127.9 L634.2,1128.0 L634.7,1128.0 L635.2,1128.1 L635.7,1128.1 L636.2,1128.2 L636.7,1128.2 L637.2,1128.3 L637.7,1128.3 L638.2,1128.3 L638.7,1128.4 L639.2,1128.4 L639.7,1128.4 L640.2,1128.4 L640.7,1128.4 L641.2,1128.4 L641.7,1128.5 L642.2,1128.5 L642.7,1128.5 L643.2,1128.5 L643.7,1128.5 L644.2,1128.5 L644.7,1128.5 L645.2,1128.5 L645.7,1128.5 L646.2,1128.5 L646.7,1128.5 L647.2,1128.5 L647.7,1128.5 L648.2,1128.5 L648.7,1128.4 L649.2,1128.4 L649.7,1128.4 L650.2,1128.4 L650.7,1128.3 L651.2,1128.2 L651.7,1128.2 L652.2,1128.1 L652.7,1127.9 L653.2,1127.8 L653.7,1127.6 L654.2,1127.4 L654.7,1127.3 L655.2,1127.0 L655.7,1126.8 L656.2,1126.6 L656.7,1126.4 L657.2,1126.1 L657.7,1125.9 L658.2,1125.7 L658.7,1125.6 L659.2,1125.4 L659.7,1125.3 L660.2,1125.1 L660.7,1124.8 L661.2,1124.4 L661.7,1123.8 L662.2,1122.8 L662.7,1121.6 L663.2,1119.9 L663.7,1117.9 L664.2,1115.5 L664.7,1113.1 L665.2,1110.9 L665.7,1109.0 L666.2,1107.8 L666.7,1107.4 L667.2,1108.0 L667.7,1109.3 L668.2,1111.3 L668.7,1113.7 L669.2,1116.3 L669.7,1118.7 L670.2,1120.9 L670.7,1122.6 L671.2,1123.8 L671.7,1124.4 L672.2,1124.5 L672.7,1124.0 L673.2,1123.1 L673.7,1121.8 L674.2,1120.6 L674.7,1119.5 L675.2,1118.9 L675.7,1118.9 L676.2,1119.6 L676.7,1120.8 L677.2,1122.2 L677.7,1123.7 L678.2,1125.1 L678.7,1126.1 L679.2,1126.9 L679.7,1127.4 L680.2,1127.6 L680.7,1127.7 L681.2,1127.7 L681.7,1127.7 L682.2,1127.6 L682.7,1127.6 L683.2,1127.5 L683.7,1127.4 L684.2,1127.3 L684.7,1127.3 L685.2,1127.2 L685.7,1127.2 L686.2,1127.1 L686.7,1127.1 L687.2,1127.1 L687.7,1127.1 L688.2,1127.0 L688.7,1127.0 L689.2,1127.0 L689.7,1127.0 L690.2,1126.9 L690.7,1126.9 L691.2,1126.9 L691.7,1126.8 L692.2,1126.8 L692.7,1126.8 L693.2,1126.8 L693.7,1126.8 L694.2,1126.9 L694.7,1126.9 L695.2,1127.0 L695.7,1127.1 L696.2,1127.2 L696.7,1127.3 L697.2,1127.4 L697.7,1127.5 L698.2,1127.6 L698.7,1127.7 L699.2,1127.9 L699.7,1127.9 L700.2,1128.0 L700.7,1128.1 L701.2,1128.2 L701.7,1128.2 L702.2,1128.3 L702.7,1128.3 L703.2,1128.4 L703.7,1128.4 L704.2,1128.4 L704.7,1128.4 L705.2,1128.4 L705.7,1128.4 L706.2,1128.3 L706.7,1128.3 L707.2,1128.2 L707.7,1128.2 L708.2,1128.1 L708.7,1128.0 L709.2,1127.8 L709.7,1127.7 L710.2,1127.6 L710.7,1127.4 L711.2,1127.3 L711.7,1127.1 L712.2,1127.0 L712.7,1126.9 L713.2,1126.8 L713.7,1126.6 L714.2,1126.5 L714.7,1126.3 L715.2,1126.1 L715.7,1125.9 L716.2,1125.5 L716.7,1125.1 L717.2,1124.7 L717.7,1124.1 L718.2,1123.6 L718.7,1123.0 L719.2,1122.4 L719.7,1121.9 L720.2,1121.4 L720.7,1121.1 L721.2,1120.9 L721.7,1120.9 L722.2,1121.0 L722.7,1121.2 L723.2,1121.6 L723.7,1122.0 L724.2,1122.6 L724.7,1123.2 L725.2,1123.7 L725.7,1124.3 L726.2,1124.9 L726.7,1125.4 L727.2,1125.9 L727.7,1126.3 L728.2,1126.7 L728.7,1127.0 L729.2,1127.3 L729.7,1127.6 L730.2,1127.8 L730.7,1127.9 L731.2,1128.1 L731.7,1128.2 L732.2,1128.3 L732.7,1128.3 L733.2,1128.4 L733.7,1128.4 L734.2,1128.4 L734.7,1128.5 L735.2,1128.5 L735.7,1128.5 L736.2,1128.5 L736.7,1128.5 L737.2,1128.5 L737.7,1128.5 L738.2,1128.5 L738.7,1128.5 L739.2,1128.5 L739.7,1128.5 L740.2,1128.5 L740.7,1128.5 L741.2,1128.5 L741.7,1128.5 L742.2,1128.5 L742.7,1128.5 L743.2,1128.5 L743.7,1128.5 L744.2,1128.5 L744.7,1128.5 L745.2,1128.5 L745.7,1128.5 L746.2,1128.5 L746.7,1128.5 L747.2,1128.5 L747.7,1128.5 L748.2,1128.5 L748.7,1128.5 L749.2,1128.5 L749.7,1128.5 L750.2,1128.5 L750.7,1128.5 L751.2,1128.5 L751.7,1128.5 L752.2,1128.5 L752.7,1128.4 L753.2,1128.4 L753.7,1128.4 L754.2,1128.3 L754.7,1128.3 L755.2,1128.2 L755.7,1128.1 L756.2,1128.0 L756.7,1127.9 L757.2,1127.9 L757.7,1127.8 L758.2,1127.8 L758.7,1127.8 L759.2,1127.8 L759.7,1127.8 L760.2,1127.9 L760.7,1127.9 L761.2,1128.0 L761.7,1128.1 L762.2,1128.1 L762.7,1128.2 L763.2,1128.2 L763.7,1128.3 L764.2,1128.3 L764.7,1128.3 L765.2,1128.2 L765.7,1128.2 L766.2,1128.1 L766.7,1128.1 L767.2,1128.0 L767.7,1127.9 L768.2,1127.7 L768.7,1127.6 L769.2,1127.5 L769.7,1127.3 L770.2,1127.2 L770.7,1127.0 L771.2,1126.8 L771.7,1126.7 L772.2,1126.5 L772.7,1126.3 L773.2,1126.2 L773.7,1126.0 L774.2,1125.8 L774.7,1125.6 L775.2,1125.5 L775.7,1125.3 L776.2,1125.1 L776.7,1125.0 L777.2,1124.8 L777.7,1124.7 L778.2,1124.6 L778.7,1124.5 L779.2,1124.4 L779.7,1124.3 L780.2,1124.2 L780.7,1123.9 L781.2,1123.5 L781.7,1122.8 L782.2,1121.8 L782.7,1120.4 L783.2,1118.6 L783.7,1116.8 L784.2,1115.2 L784.7,1114.0 L785.2,1113.6 L785.7,1113.9 L786.2,1114.8 L786.7,1116.0 L787.2,1117.1 L787.7,1117.7 L788.2,1117.7 L788.7,1117.1 L789.2,1116.0 L789.7,1114.8 L790.2,1113.8 L790.7,1113.2 L791.2,1113.3 L791.7,1114.0 L792.2,1115.4 L792.7,1117.2 L793.2,1119.2 L793.7,1121.2 L794.2,1123.0 L794.7,1124.5 L795.2,1125.7 L795.7,1126.6 L796.2,1127.2 L796.7,1127.7 L797.2,1127.9 L797.7,1128.1 L798.2,1128.2 L798.7,1128.2 L799.2,1128.3 L799.7,1128.3 L800.2,1128.3 L800.7,1128.3 L801.2,1128.4 L801.7,1128.4 L802.2,1128.4 L802.7,1128.4 L803.2,1128.4 L803.7,1128.4 L804.2,1128.4 L804.7,1128.5 L805.2,1128.5 L805.7,1128.5 L806.2,1128.5 L806.7,1128.5 L807.2,1128.5 L807.7,1128.5 L808.2,1128.5 L808.7,1128.5 L809.2,1128.5 L809.7,1128.5 L810.2,1128.5 L810.7,1128.5 L811.2,1128.5 L811.7,1128.5 L812.2,1128.5 L812.7,1128.5 L813.2,1128.5 L813.7,1128.5 L814.2,1128.5 L814.7,1128.5 L815.2,1128.5 L815.7,1128.5 L816.2,1128.5 L816.7,1128.5 L817.2,1128.5 L817.7,1128.5 L818.2,1128.5 L818.7,1128.5 L819.2,1128.5 L819.7,1128.5 L820.2,1128.5 L820.7,1128.5 L821.2,1128.5 L821.7,1128.5 L822.2,1128.5 L822.7,1128.5 L823.2,1128.5 L823.7,1128.5 L824.2,1128.5 L824.7,1128.5 L825.2,1128.5 L825.7,1128.5 L826.2,1128.5 L826.7,1128.5 L827.2,1128.5 L827.7,1128.5 L828.2,1128.5 L828.7,1128.5 L829.2,1128.5 L829.7,1128.5 L830.2,1128.5 L830.7,1128.5 L831.2,1128.5 L831.7,1128.5 L832.2,1128.5 L832.7,1128.5 L833.2,1128.5 L833.7,1128.5 L834.2,1128.5 L834.7,1128.5 L835.2,1128.5 L835.7,1128.5 L836.2,1128.5 L836.7,1128.4 L837.2,1128.4 L837.7,1128.4 L838.2,1128.2 L838.7,1128.0 L839.2,1127.6 L839.7,1126.9 L840.2,1125.9 L840.7,1124.5 L841.2,1122.8 L841.7,1121.1 L842.2,1119.8 L842.7,1119.2 L843.2,1119.4 L843.7,1120.3 L844.2,1121.8 L844.7,1123.4 L845.2,1124.8 L845.7,1125.9 L846.2,1126.6 L846.7,1127.0 L847.2,1127.2 L847.7,1127.3 L848.2,1127.3 L848.7,1127.4 L849.2,1127.3 L849.7,1127.3 L850.2,1127.3 L850.7,1127.4 L851.2,1127.4 L851.7,1127.4 L852.2,1127.4 L852.7,1127.4 L853.2,1127.4 L853.7,1127.4 L854.2,1127.4 L854.7,1127.4 L855.2,1127.4 L855.7,1127.4 L856.2,1127.4 L856.7,1127.4 L857.2,1127.4 L857.7,1127.4 L858.2,1127.4 L858.7,1127.4 L859.2,1127.4 L859.7,1127.4 L860.2,1127.4 L860.7,1127.4 L861.2,1127.4 L861.7,1127.4 L862.2,1127.5 L862.7,1127.5 L863.2,1127.5 L863.7,1127.5 L864.2,1127.5 L864.7,1127.5 L865.2,1127.5 L865.7,1127.5 L866.2,1127.4 L866.7,1127.4 L867.2,1127.3 L867.7,1127.3 L868.2,1127.2 L868.7,1127.1 L869.2,1127.1 L869.7,1127.0 L870.2,1126.9 L870.7,1126.9 L871.2,1126.8 L871.7,1126.7 L872.2,1126.6 L872.7,1126.5 L873.2,1126.4 L873.7,1126.2 L874.2,1126.1 L874.7,1125.9 L875.2,1125.7 L875.7,1125.5 L876.2,1125.3 L876.7,1125.0 L877.2,1124.7 L877.7,1124.3 L878.2,1124.0 L878.7,1123.6 L879.2,1123.1 L879.7,1122.7 L880.2,1122.2 L880.7,1121.7 L881.2,1121.2 L881.7,1120.6 L882.2,1120.1 L882.7,1119.5 L883.2,1118.9 L883.7,1118.1 L884.2,1116.9 L884.7,1115.2 L885.2,1112.7 L885.7,1109.3 L886.2,1105.2 L886.7,1100.9 L887.2,1097.2 L887.7,1094.9 L888.2,1094.7 L888.7,1096.7 L889.2,1100.2 L889.7,1104.6 L890.2,1108.9 L890.7,1112.5 L891.2,1115.2 L891.7,1117.1 L892.2,1118.5 L892.7,1119.4 L893.2,1120.1 L893.7,1120.7 L894.2,1121.3 L894.7,1121.9 L895.2,1122.4 L895.7,1123.0 L896.2,1123.5 L896.7,1124.0 L897.2,1124.4 L897.7,1124.9 L898.2,1125.2 L898.7,1125.6 L899.2,1125.9 L899.7,1126.2 L900.2,1126.4 L900.7,1126.7 L901.2,1126.8 L901.7,1127.0 L902.2,1127.1 L902.7,1127.2 L903.2,1127.3 L903.7,1127.3 L904.2,1127.3 L904.7,1127.4 L905.2,1127.4 L905.7,1127.3 L906.2,1127.3 L906.7,1127.3 L907.2,1127.3 L907.7,1127.3 L908.2,1127.2 L908.7,1127.2 L909.2,1127.2 L909.7,1127.2 L910.2,1127.2 L910.7,1127.3 L911.2,1127.3 L911.7,1127.3 L912.2,1127.4 L912.7,1127.4 L913.2,1127.5 L913.7,1127.5 L914.2,1127.6 L914.7,1127.7 L915.2,1127.7 L915.7,1127.8 L916.2,1127.9 L916.7,1127.9 L917.2,1128.0 L917.7,1128.1 L918.2,1128.1 L918.7,1128.2 L919.2,1128.2 L919.7,1128.3 L920.2,1128.3 L920.7,1128.3 L921.2,1128.4 L921.7,1128.4 L922.2,1128.4 L922.7,1128.4 L923.2,1128.4 L923.7,1128.4 L924.2,1128.5 L924.7,1128.5 L925.2,1128.5 L925.7,1128.5 L926.2,1128.5 L926.7,1128.5 L927.2,1128.5 L927.7,1128.5 L928.2,1128.5 L928.7,1128.5 L929.2,1128.5 L929.7,1128.5 L930.2,1128.5 L930.7,1128.5 L931.2,1128.5 L931.7,1128.5 L932.2,1128.5 L932.7,1128.5 L933.2,1128.5 L933.7,1128.5 L934.2,1128.5 L934.7,1128.5 L935.2,1128.5 L935.7,1128.5 L936.2,1128.5 L936.7,1128.5 L937.2,1128.5 L937.7,1128.5 L938.2,1128.5 L938.7,1128.5 L939.2,1128.5 L939.7,1128.5 L940.2,1128.5 L940.7,1128.5 L941.2,1128.5 L941.7,1128.5 L942.2,1128.5 L942.7,1128.5 L943.2,1128.5 L943.7,1128.5 L944.2,1128.5 L944.7,1128.5 L945.2,1128.5 L945.7,1128.5 L946.2,1128.5 L946.7,1128.5 L947.2,1128.5 L947.7,1128.5 L948.2,1128.5 L948.7,1128.5 L949.2,1128.5 L949.7,1128.5 L950.2,1128.5 L950.7,1128.5 L951.2,1128.5 L951.7,1128.5 L952.2,1128.5 L952.7,1128.5 L953.2,1128.5 L953.7,1128.5 L954.2,1128.5 L954.7,1128.5 L955.2,1128.5 L955.7,1128.5 L956.2,1128.5 L956.7,1128.5 L957.2,1128.5 L957.7,1128.5 L958.2,1128.5 L958.7,1128.5 L959.2,1128.5 L959.7,1128.4 L960.2,1128.4 L960.7,1128.4 L961.2,1128.4 L961.7,1128.3 L962.2,1128.3 L962.7,1128.2 L963.2,1128.2 L963.7,1128.1 L964.2,1128.0 L964.7,1127.9 L965.2,1127.8 L965.7,1127.6 L966.2,1127.4 L966.7,1127.3 L967.2,1127.1 L967.7,1126.8 L968.2,1126.6 L968.7,1126.4 L969.2,1126.1 L969.7,1125.8 L970.2,1125.6 L970.7,1125.3 L971.2,1125.0 L971.7,1124.8 L972.2,1124.5 L972.7,1124.3 L973.2,1124.1 L973.7,1123.9 L974.2,1123.8 L974.7,1123.7 L975.2,1123.6 L975.7,1123.6 L976.2,1123.6 L976.7,1123.7 L977.2,1123.7 L977.7,1123.9 L978.2,1124.0 L978.7,1124.2 L979.2,1124.5 L979.7,1124.7 L980.2,1125.0 L980.7,1125.2 L981.2,1125.5 L981.7,1125.8 L982.2,1126.0 L982.7,1126.3 L983.2,1126.6 L983.7,1126.8 L984.2,1127.0 L984.7,1127.2 L985.2,1127.4 L985.7,1127.6 L986.2,1127.8 L986.7,1127.9 L987.2,1128.0 L987.7,1128.1 L988.2,1128.2 L988.7,1128.2 L989.2,1128.3 L989.7,1128.3 L990.2,1128.4 L990.7,1128.4 L991.2,1128.4 L991.7,1128.4 L992.2,1128.5 L992.7,1128.5 L993.2,1128.5 L993.7,1128.5 L994.2,1128.5 L994.7,1128.5 L995.2,1128.5 L995.7,1128.5 L996.2,1128.5 L996.7,1128.5 L997.2,1128.5 L997.7,1128.5 L998.2,1128.5 L998.7,1128.5 L999.2,1128.5 L999.7,1128.5 L1000.2,1128.5 L1000.7,1128.5 L1001.2,1128.5 L1001.7,1128.5 L1002.2,1128.5 L1002.7,1128.5 L1003.2,1128.5 L1003.7,1128.5 L1004.2,1128.5 L1004.7,1128.5 L1005.2,1128.5 L1005.7,1128.5 L1006.2,1128.5 L1006.7,1128.4 L1007.2,1128.4 L1007.7,1128.4 L1008.2,1128.4 L1008.7,1128.3 L1009.2,1128.3 L1009.7,1128.3 L1010.2,1128.2 L1010.7,1128.1 L1011.2,1128.0 L1011.7,1127.9 L1012.2,1127.8 L1012.7,1127.6 L1013.2,1127.5 L1013.7,1127.3 L1014.2,1127.0 L1014.7,1126.8 L1015.2,1126.5 L1015.7,1126.2 L1016.2,1125.8 L1016.7,1125.5 L1017.2,1125.1 L1017.7,1124.7 L1018.2,1124.3 L1018.7,1124.0 L1019.2,1123.6 L1019.7,1123.2 L1020.2,1122.9 L1020.7,1122.6 L1021.2,1122.3 L1021.7,1122.0 L1022.2,1121.8 L1022.7,1121.5 L1023.2,1121.3 L1023.7,1121.1 L1024.2,1120.9 L1024.7,1120.7 L1025.2,1120.6 L1025.7,1120.5 L1026.2,1120.4 L1026.7,1120.4 L1027.2,1120.4 L1027.7,1120.4 L1028.2,1120.5 L1028.7,1120.6 L1029.2,1120.7 L1029.7,1120.8 L1030.2,1121.0 L1030.7,1121.2 L1031.2,1121.3 L1031.7,1121.4 L1032.2,1121.5 L1032.7,1121.6 L1033.2,1121.6 L1033.7,1121.6 L1034.2,1121.5 L1034.7,1121.2 L1035.2,1120.9 L1035.7,1120.4 L1036.2,1119.8 L1036.7,1118.8 L1037.2,1117.5 L1037.7,1115.6 L1038.2,1113.1 L1038.7,1109.8 L1039.2,1106.0 L1039.7,1101.9 L1040.2,1098.0 L1040.7,1095.1 L1041.2,1093.7 L1041.7,1094.1 L1042.2,1096.3 L1042.7,1099.9 L1043.2,1104.2 L1043.7,1108.6 L1044.2,1112.6 L1044.7,1115.9 L1045.2,1118.5 L1045.7,1120.4 L1046.2,1121.8 L1046.7,1122.9 L1047.2,1123.7 L1047.7,1124.4 L1048.2,1125.0 L1048.7,1125.5 L1049.2,1126.0 L1049.7,1126.3 L1050.2,1126.7 L1050.7,1126.9 L1051.2,1127.1 L1051.7,1127.3 L1052.2,1127.4 L1052.7,1127.5 L1053.2,1127.5 L1053.7,1127.6 L1054.2,1127.6 L1054.7,1127.6 L1055.2,1127.7 L1055.7,1127.7 L1056.2,1127.8 L1056.7,1127.9 L1057.2,1128.0 L1057.7,1128.1 L1058.2,1128.2 L1058.7,1128.3 L1059.2,1128.3 L1059.7,1128.4 L1060.2,1128.4 L1060.7,1128.4 L1061.2,1128.5 L1061.7,1128.5 L1062.2,1128.5 L1062.7,1128.5 L1063.2,1128.5 L1063.7,1128.5 L1064.2,1128.5 L1064.7,1128.5 L1065.2,1128.5 L1065.7,1128.5 L1066.2,1128.5 L1066.7,1128.5 L1067.2,1128.5 L1067.7,1128.5 L1068.2,1128.5 L1068.7,1128.5 L1069.2,1128.4 L1069.7,1128.4 L1070.2,1128.4 L1070.7,1128.3 L1071.2,1128.3 L1071.7,1128.2 L1072.2,1128.1 L1072.7,1128.1 L1073.2,1128.0 L1073.7,1128.0 L1074.2,1128.0 L1074.7,1128.0 L1075.0,1129.4 Z" fill="#1f78b4"/>
<line x1="604.3" y1="1129.8" x2="604.3" y2="1135.4" stroke="#000" stroke-width="1.2"/>
<line x1="723.0" y1="1129.8" x2="723.0" y2="1135.4" stroke="#000" stroke-width="1.2"/>
<line x1="841.0" y1="1129.8" x2="841.0" y2="1135.4" stroke="#000" stroke-width="1.2"/>
<line x1="958.4" y1="1129.8" x2="958.4" y2="1135.4" stroke="#000" stroke-width="1.2"/>
<polygon points="624.0,1145.4 625.8,1148.8 629.5,1149.4 626.9,1152.1 627.4,1155.9 624.0,1154.2 620.6,1155.9 621.1,1152.1 618.5,1149.4 622.2,1148.8" fill="#e8447f"/>
<polygon points="666.7,1145.4 668.5,1148.8 672.2,1149.4 669.6,1152.1 670.1,1155.9 666.7,1154.2 663.3,1155.9 663.8,1152.1 661.2,1149.4 664.9,1148.8" fill="#e8447f"/>
<polygon points="785.2,1145.4 787.0,1148.8 790.7,1149.4 788.1,1152.1 788.6,1155.9 785.2,1154.2 781.8,1155.9 782.3,1152.1 779.7,1149.4 783.4,1148.8" fill="#e8447f"/>
<polygon points="788.0,1145.4 789.8,1148.8 793.5,1149.4 790.9,1152.1 791.4,1155.9 788.0,1154.2 784.6,1155.9 785.1,1152.1 782.5,1149.4 786.2,1148.8" fill="#e8447f"/>
<polygon points="791.0,1145.4 792.8,1148.8 796.5,1149.4 793.9,1152.1 794.4,1155.9 791.0,1154.2 787.6,1155.9 788.1,1152.1 785.5,1149.4 789.2,1148.8" fill="#e8447f"/>
<polygon points="883.0,1145.4 884.8,1148.8 888.5,1149.4 885.9,1152.1 886.4,1155.9 883.0,1154.2 879.6,1155.9 880.1,1152.1 877.5,1149.4 881.2,1148.8" fill="#e8447f"/>
<polygon points="888.0,1145.4 889.8,1148.8 893.5,1149.4 890.9,1152.1 891.4,1155.9 888.0,1154.2 884.6,1155.9 885.1,1152.1 882.5,1149.4 886.2,1148.8" fill="#e8447f"/>
<polygon points="893.4,1145.4 895.2,1148.8 898.9,1149.4 896.3,1152.1 896.8,1155.9 893.4,1154.2 890.0,1155.9 890.5,1152.1 887.9,1149.4 891.6,1148.8" fill="#e8447f"/>
<polygon points="896.7,1145.4 898.5,1148.8 902.2,1149.4 899.6,1152.1 900.1,1155.9 896.7,1154.2 893.3,1155.9 893.8,1152.1 891.2,1149.4 894.9,1148.8" fill="#e8447f"/>
<polygon points="1041.0,1145.4 1042.8,1148.8 1046.5,1149.4 1043.9,1152.1 1044.4,1155.9 1041.0,1154.2 1037.6,1155.9 1038.1,1152.1 1035.5,1149.4 1039.2,1148.8" fill="#e8447f"/>
<line x1="604.3" y1="1155.6" x2="604.3" y2="1161.6" stroke="#000" stroke-width="1.2"/>
<line x1="723.0" y1="1155.6" x2="723.0" y2="1161.6" stroke="#000" stroke-width="1.2"/>
<line x1="841.0" y1="1155.6" x2="841.0" y2="1161.6" stroke="#000" stroke-width="1.2"/>
<line x1="958.4" y1="1155.6" x2="958.4" y2="1161.6" stroke="#000" stroke-width="1.2"/>
<line x1="666.6" y1="1179.2" x2="1074.6" y2="1179.2" stroke="#222" stroke-width="1.9"/>
<rect x="604.2" y="1172.6" width="43.1" height="13.3" fill="#b5cc6a"/>
<rect x="647.3" y="1172.6" width="9.3" height="13.3" fill="#c8d692"/>
<rect x="656.6" y="1172.6" width="3.7" height="13.3" fill="#8a5a2b"/>
<rect x="660.3" y="1172.6" width="5.8" height="13.3" fill="#e8a545"/>
<rect x="666.1" y="1172.6" width="1.2" height="13.3" fill="#c0504d"/>
<rect x="667.3" y="1172.6" width="1.2" height="13.3" fill="#e6a0c0"/>
<rect x="701.9" y="1172.6" width="1.4" height="13.3" fill="#d9a0d9"/>
<rect x="720.1" y="1172.6" width="226.4" height="13.3" fill="#9c9cde"/>
<rect x="897.7" y="1172.6" width="8.8" height="13.3" fill="#7d7dd4"/>
<rect x="965.2" y="1172.6" width="7.5" height="13.3" fill="#6b8c3a"/>
<rect x="965.2" y="1172.6" width="1.3" height="13.3" fill="#8aa85a"/>
<rect x="980.7" y="1172.6" width="20.8" height="13.3" fill="#e3c78f"/>
<rect x="1005.3" y="1172.6" width="10.0" height="13.3" fill="#5c5cb4"/>
<rect x="1036.6" y="1172.6" width="6.3" height="13.3" fill="#8585d5"/>
<rect x="1042.9" y="1172.6" width="5.0" height="13.3" fill="#6b8c3a"/>
<rect x="1047.9" y="1172.6" width="24.3" height="13.3" fill="#e3c78f"/>
<rect x="1070.9" y="1172.6" width="4.5" height="13.3" fill="#8f9b45"/>
<rect x="604.2" y="1207.1" width="471.8" height="26.0" fill="#fafafc"/>
<rect x="663.7" y="1205.1" width="3.8" height="28.0" fill="#e2e2f2"/>
<line x1="604.3" y1="1235.9" x2="604.3" y2="1241.5" stroke="#000" stroke-width="1.2"/>
<line x1="723.0" y1="1235.9" x2="723.0" y2="1241.5" stroke="#000" stroke-width="1.2"/>
<line x1="841.0" y1="1235.9" x2="841.0" y2="1241.5" stroke="#000" stroke-width="1.2"/>
<line x1="958.4" y1="1235.9" x2="958.4" y2="1241.5" stroke="#000" stroke-width="1.2"/>
<text x="599.3" y="1259.6" font-size="18" fill="#000" stroke="#000" stroke-width="0.35" textLength="92.7" lengthAdjust="spacingAndGlyphs">53,630,000</text>
<text x="718.6" y="1259.6" font-size="18" fill="#000" stroke="#000" stroke-width="0.35" textLength="92.7" lengthAdjust="spacingAndGlyphs">54,130,000</text>
<text x="836.8" y="1259.6" font-size="18" fill="#000" stroke="#000" stroke-width="0.35" textLength="92.7" lengthAdjust="spacingAndGlyphs">54,630,000</text>
<text x="954.7" y="1259.6" font-size="18" fill="#000" stroke="#000" stroke-width="0.35" textLength="92.7" lengthAdjust="spacingAndGlyphs">55,130,000</text>
<rect x="837.8" y="1172.6" width="4.5" height="13.3" fill="#3a3a94"/>
<line x1="349.5" y1="819.6" x2="349.5" y2="1074.2" stroke="#9a9a9a" stroke-width="4.2" stroke-dasharray="17.3 9" stroke-dashoffset="7.6" opacity="0.7"/>
<line x1="841.3" y1="819.6" x2="841.3" y2="1074.2" stroke="#9a9a9a" stroke-width="4.2" stroke-dasharray="17.3 9" stroke-dashoffset="7.6" opacity="0.7"/>
<rect x="347.1" y="1074.7" width="4.5" height="18.8" fill="#8c8c8c" opacity="0.5"/>
<rect x="347.1" y="1130.2" width="4.5" height="76.0" fill="#8c8c8c" opacity="0.5"/>
<rect x="347.1" y="1234.2" width="4.5" height="8.0" fill="#8c8c8c" opacity="0.5"/>
<rect x="839.0" y="1074.7" width="4.5" height="18.8" fill="#8c8c8c" opacity="0.5"/>
<rect x="839.0" y="1102.7" width="4.5" height="25.5" fill="#8c8c8c" opacity="0.5"/>
<rect x="839.0" y="1130.2" width="4.5" height="17.0" fill="#8c8c8c" opacity="0.5"/>
<rect x="839.0" y="1155.2" width="4.5" height="51.0" fill="#8c8c8c" opacity="0.5"/>
<rect x="839.0" y="1234.2" width="4.5" height="9.0" fill="#8c8c8c" opacity="0.5"/>
<polygon points="349.0,1145.2 350.8,1148.6 354.5,1149.2 351.9,1151.9 352.4,1155.7 349.0,1154.0 345.6,1155.7 346.1,1151.9 343.5,1149.2 347.2,1148.6" fill="#e8447f"/>
<line x1="349.0" y1="1075.6" x2="349.0" y2="1082.3" stroke="#000" stroke-width="1.2"/>
<line x1="349.0" y1="1129.6" x2="349.0" y2="1135.2" stroke="#000" stroke-width="1.2"/>
<line x1="349.0" y1="1155.4" x2="349.0" y2="1161.4" stroke="#000" stroke-width="1.2"/>
<line x1="349.0" y1="1235.7" x2="349.0" y2="1241.3" stroke="#000" stroke-width="1.2"/>
<line x1="841.0" y1="1075.6" x2="841.0" y2="1082.3" stroke="#000" stroke-width="1.2"/>
<line x1="841.0" y1="1129.6" x2="841.0" y2="1135.2" stroke="#000" stroke-width="1.2"/>
<line x1="841.0" y1="1155.4" x2="841.0" y2="1161.4" stroke="#000" stroke-width="1.2"/>
<line x1="841.0" y1="1235.7" x2="841.0" y2="1241.3" stroke="#000" stroke-width="1.2"/>
<rect x="348.1" y="1204.6" width="3.0" height="28.2" fill="#3b0a8a"/>
<path d="M348.8,1204.8 v-3 q0,-4.6 5,-4.6 h16.5" fill="none" stroke="#000" stroke-width="2"/>
<text x="374.1" y="1202.1" font-size="18" fill="#000" stroke="#000" stroke-width="0.35" font-style="italic" textLength="44.2" lengthAdjust="spacingAndGlyphs">ESRG</text>
<path d="M839.8,1204.8 v-3 q0,-4.6 5,-4.6 h16.5" fill="none" stroke="#000" stroke-width="2"/>
<text x="865.1" y="1202.1" font-size="18" fill="#000" stroke="#000" stroke-width="0.35" font-style="italic" textLength="44.2" lengthAdjust="spacingAndGlyphs">ESRG</text>
</svg>
</body></html>
